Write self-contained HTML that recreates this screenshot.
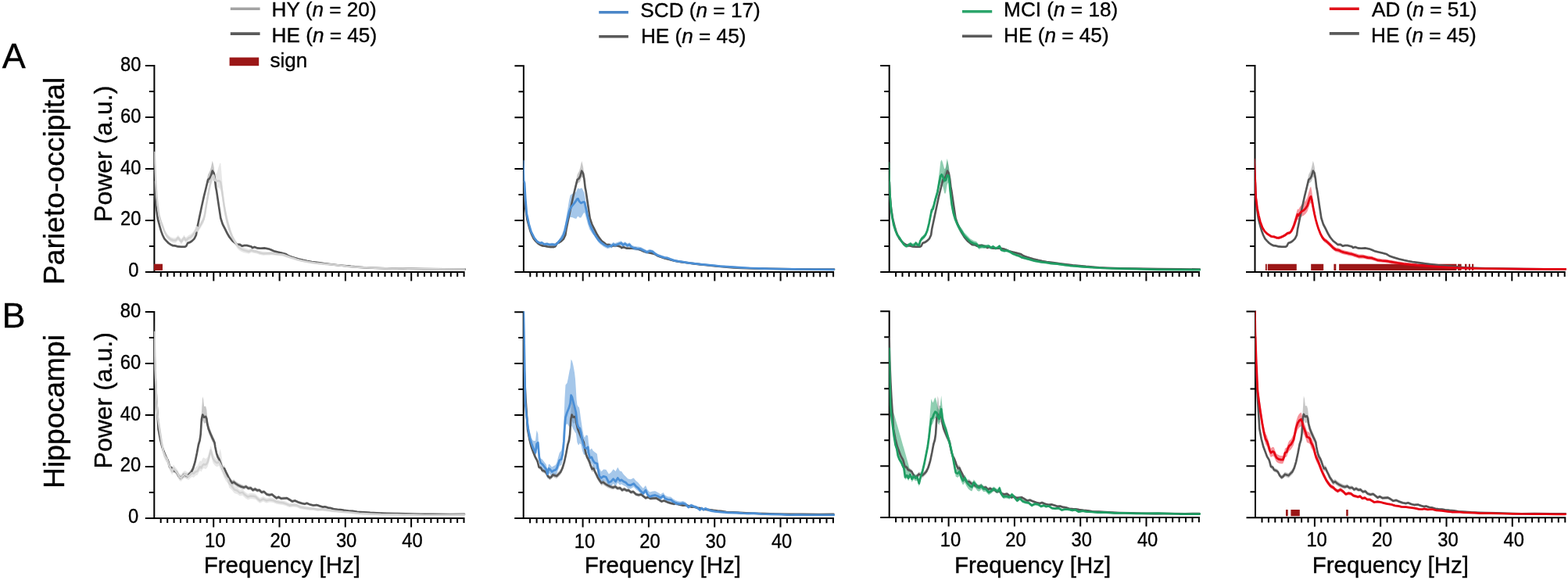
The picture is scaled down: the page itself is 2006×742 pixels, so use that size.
<!DOCTYPE html>
<html lang="en"><head><meta charset="utf-8"><title>Power spectra</title>
<style>html,body{margin:0;padding:0;background:#fff}body{width:2006px;height:742px;overflow:hidden}svg{display:block}text{font-family:"Liberation Sans", Arial, Helvetica, sans-serif;fill:#000;stroke:#000;stroke-width:0.35px}</style></head><body>
<svg width="2006" height="742" viewBox="0 0 2006 742" role="img" aria-label="Power spectra by group">
<rect width="2006" height="742" fill="#fff"/>
<path d="M197.4 83.1V348.9M185.9 347.9H594.6M190.9 314.9h6.5M185.9 281.9h11.5M190.9 248.9h6.5M185.9 216h11.5M190.9 183h6.5M185.9 150h11.5M190.9 117h6.5M185.9 84.1h11.5M205.8 347.9v6.2M214.3 347.9v6.2M222.7 347.9v6.2M231.1 347.9v6.2M239.6 347.9v6.2M248 347.9v6.2M256.4 347.9v6.2M264.8 347.9v6.2M273.3 347.9v11.5M281.7 347.9v6.2M290.1 347.9v6.2M298.6 347.9v6.2M307 347.9v6.2M315.4 347.9v6.2M323.9 347.9v6.2M332.3 347.9v6.2M340.7 347.9v6.2M349.1 347.9v6.2M357.6 347.9v11.5M366 347.9v6.2M374.4 347.9v6.2M382.9 347.9v6.2M391.3 347.9v6.2M399.7 347.9v6.2M408.1 347.9v6.2M416.6 347.9v6.2M425 347.9v6.2M433.4 347.9v6.2M441.9 347.9v11.5M450.3 347.9v6.2M458.7 347.9v6.2M467.2 347.9v6.2M475.6 347.9v6.2M484 347.9v6.2M492.5 347.9v6.2M500.9 347.9v6.2M509.3 347.9v6.2M517.7 347.9v6.2M526.2 347.9v11.5M534.6 347.9v6.2M543 347.9v6.2M551.5 347.9v6.2M559.9 347.9v6.2M568.3 347.9v6.2M576.8 347.9v6.2M585.2 347.9v6.2M593.6 347.9v6.2M669.9 83.2V349M658.4 348H1067.1M663.4 315h6.5M658.4 282.1h11.5M663.4 249.1h6.5M658.4 216.1h11.5M663.4 183.1h6.5M658.4 150.2h11.5M663.4 117.2h6.5M658.4 84.2h11.5M678.3 348v6.2M686.7 348v6.2M695.1 348v6.2M703.6 348v6.2M712 348v6.2M720.4 348v6.2M728.9 348v6.2M737.3 348v6.2M745.7 348v11.5M754.1 348v6.2M762.6 348v6.2M771 348v6.2M779.4 348v6.2M787.9 348v6.2M796.3 348v6.2M804.7 348v6.2M813.2 348v6.2M821.6 348v6.2M830 348v11.5M838.5 348v6.2M846.9 348v6.2M855.3 348v6.2M863.7 348v6.2M872.2 348v6.2M880.6 348v6.2M889 348v6.2M897.5 348v6.2M905.9 348v6.2M914.3 348v11.5M922.8 348v6.2M931.2 348v6.2M939.6 348v6.2M948 348v6.2M956.5 348v6.2M964.9 348v6.2M973.3 348v6.2M981.8 348v6.2M990.2 348v6.2M998.6 348v11.5M1007 348v6.2M1015.5 348v6.2M1023.9 348v6.2M1032.3 348v6.2M1040.8 348v6.2M1049.2 348v6.2M1057.6 348v6.2M1066.1 348v6.2M1137.7 83.1V348.9M1126.2 347.9H1534.9M1131.2 314.9h6.5M1126.2 281.9h11.5M1131.2 248.9h6.5M1126.2 216h11.5M1131.2 183h6.5M1126.2 150h11.5M1131.2 117h6.5M1126.2 84.1h11.5M1146.1 347.9v6.2M1154.5 347.9v6.2M1162.9 347.9v6.2M1171.4 347.9v6.2M1179.8 347.9v6.2M1188.2 347.9v6.2M1196.7 347.9v6.2M1205.1 347.9v6.2M1213.5 347.9v11.5M1222 347.9v6.2M1230.4 347.9v6.2M1238.8 347.9v6.2M1247.2 347.9v6.2M1255.7 347.9v6.2M1264.1 347.9v6.2M1272.5 347.9v6.2M1281 347.9v6.2M1289.4 347.9v6.2M1297.8 347.9v11.5M1306.2 347.9v6.2M1314.7 347.9v6.2M1323.1 347.9v6.2M1331.5 347.9v6.2M1340 347.9v6.2M1348.4 347.9v6.2M1356.8 347.9v6.2M1365.3 347.9v6.2M1373.7 347.9v6.2M1382.1 347.9v11.5M1390.6 347.9v6.2M1399 347.9v6.2M1407.4 347.9v6.2M1415.8 347.9v6.2M1424.3 347.9v6.2M1432.7 347.9v6.2M1441.1 347.9v6.2M1449.6 347.9v6.2M1458 347.9v6.2M1466.4 347.9v11.5M1474.9 347.9v6.2M1483.3 347.9v6.2M1491.7 347.9v6.2M1500.1 347.9v6.2M1508.6 347.9v6.2M1517 347.9v6.2M1525.4 347.9v6.2M1533.9 347.9v6.2M1605.5 83.1V348.9M1594 347.9H2002.7M1599 314.9h6.5M1594 281.9h11.5M1599 248.9h6.5M1594 216h11.5M1599 183h6.5M1594 150h11.5M1599 117h6.5M1594 84.1h11.5M1613.9 347.9v6.2M1622.4 347.9v6.2M1630.8 347.9v6.2M1639.2 347.9v6.2M1647.7 347.9v6.2M1656.1 347.9v6.2M1664.5 347.9v6.2M1672.9 347.9v6.2M1681.4 347.9v11.5M1689.8 347.9v6.2M1698.2 347.9v6.2M1706.7 347.9v6.2M1715.1 347.9v6.2M1723.5 347.9v6.2M1732 347.9v6.2M1740.4 347.9v6.2M1748.8 347.9v6.2M1757.2 347.9v6.2M1765.7 347.9v11.5M1774.1 347.9v6.2M1782.5 347.9v6.2M1791 347.9v6.2M1799.4 347.9v6.2M1807.8 347.9v6.2M1816.2 347.9v6.2M1824.7 347.9v6.2M1833.1 347.9v6.2M1841.5 347.9v6.2M1850 347.9v11.5M1858.4 347.9v6.2M1866.8 347.9v6.2M1875.3 347.9v6.2M1883.7 347.9v6.2M1892.1 347.9v6.2M1900.5 347.9v6.2M1909 347.9v6.2M1917.4 347.9v6.2M1925.8 347.9v6.2M1934.3 347.9v11.5M1942.7 347.9v6.2M1951.1 347.9v6.2M1959.6 347.9v6.2M1968 347.9v6.2M1976.4 347.9v6.2M1984.8 347.9v6.2M1993.3 347.9v6.2M2001.7 347.9v6.2M197.3 398.1V663.9M185.8 662.9H594.5M190.8 629.9h6.5M185.8 596.9h11.5M190.8 564h6.5M185.8 531h11.5M190.8 498h6.5M185.8 465h11.5M190.8 432.1h6.5M185.8 399.1h11.5M205.7 662.9v6.2M214.2 662.9v6.2M222.6 662.9v6.2M231 662.9v6.2M239.5 662.9v6.2M247.9 662.9v6.2M256.3 662.9v6.2M264.7 662.9v6.2M273.2 662.9v11.5M281.6 662.9v6.2M290 662.9v6.2M298.5 662.9v6.2M306.9 662.9v6.2M315.3 662.9v6.2M323.8 662.9v6.2M332.2 662.9v6.2M340.6 662.9v6.2M349 662.9v6.2M357.5 662.9v11.5M365.9 662.9v6.2M374.3 662.9v6.2M382.8 662.9v6.2M391.2 662.9v6.2M399.6 662.9v6.2M408.1 662.9v6.2M416.5 662.9v6.2M424.9 662.9v6.2M433.3 662.9v6.2M441.8 662.9v11.5M450.2 662.9v6.2M458.6 662.9v6.2M467.1 662.9v6.2M475.5 662.9v6.2M483.9 662.9v6.2M492.4 662.9v6.2M500.8 662.9v6.2M509.2 662.9v6.2M517.6 662.9v6.2M526.1 662.9v11.5M534.5 662.9v6.2M542.9 662.9v6.2M551.4 662.9v6.2M559.8 662.9v6.2M568.2 662.9v6.2M576.6 662.9v6.2M585.1 662.9v6.2M593.5 662.9v6.2M669.7 398.2V664M658.2 663H1066.9M663.2 630h6.5M658.2 597h11.5M663.2 564h6.5M658.2 531.1h11.5M663.2 498.1h6.5M658.2 465.1h11.5M663.2 432.1h6.5M658.2 399.2h11.5M678.1 663v6.2M686.6 663v6.2M695 663v6.2M703.4 663v6.2M711.9 663v6.2M720.3 663v6.2M728.7 663v6.2M737.1 663v6.2M745.6 663v11.5M754 663v6.2M762.4 663v6.2M770.9 663v6.2M779.3 663v6.2M787.7 663v6.2M796.2 663v6.2M804.6 663v6.2M813 663v6.2M821.4 663v6.2M829.9 663v11.5M838.3 663v6.2M846.7 663v6.2M855.2 663v6.2M863.6 663v6.2M872 663v6.2M880.5 663v6.2M888.9 663v6.2M897.3 663v6.2M905.7 663v6.2M914.2 663v11.5M922.6 663v6.2M931 663v6.2M939.5 663v6.2M947.9 663v6.2M956.3 663v6.2M964.8 663v6.2M973.2 663v6.2M981.6 663v6.2M990 663v6.2M998.5 663v11.5M1006.9 663v6.2M1015.3 663v6.2M1023.8 663v6.2M1032.2 663v6.2M1040.6 663v6.2M1049 663v6.2M1057.5 663v6.2M1065.9 663v6.2M1137.7 397.3V663.1M1126.2 662.1H1534.9M1131.2 629.2h6.5M1126.2 596.2h11.5M1131.2 563.2h6.5M1126.2 530.2h11.5M1131.2 497.3h6.5M1126.2 464.3h11.5M1131.2 431.3h6.5M1126.2 398.3h11.5M1146.1 662.1v6.2M1154.6 662.1v6.2M1163 662.1v6.2M1171.4 662.1v6.2M1179.9 662.1v6.2M1188.3 662.1v6.2M1196.7 662.1v6.2M1205.1 662.1v6.2M1213.6 662.1v11.5M1222 662.1v6.2M1230.4 662.1v6.2M1238.9 662.1v6.2M1247.3 662.1v6.2M1255.7 662.1v6.2M1264.2 662.1v6.2M1272.6 662.1v6.2M1281 662.1v6.2M1289.4 662.1v6.2M1297.9 662.1v11.5M1306.3 662.1v6.2M1314.7 662.1v6.2M1323.2 662.1v6.2M1331.6 662.1v6.2M1340 662.1v6.2M1348.5 662.1v6.2M1356.9 662.1v6.2M1365.3 662.1v6.2M1373.7 662.1v6.2M1382.2 662.1v11.5M1390.6 662.1v6.2M1399 662.1v6.2M1407.5 662.1v6.2M1415.9 662.1v6.2M1424.3 662.1v6.2M1432.8 662.1v6.2M1441.2 662.1v6.2M1449.6 662.1v6.2M1458 662.1v6.2M1466.5 662.1v11.5M1474.9 662.1v6.2M1483.3 662.1v6.2M1491.8 662.1v6.2M1500.2 662.1v6.2M1508.6 662.1v6.2M1517 662.1v6.2M1525.5 662.1v6.2M1533.9 662.1v6.2M1606 397.5V663.3M1594.5 662.3H2003.3M1599.5 629.3h6.5M1594.5 596.3h11.5M1599.5 563.4h6.5M1594.5 530.4h11.5M1599.5 497.4h6.5M1594.5 464.4h11.5M1599.5 431.5h6.5M1594.5 398.5h11.5M1614.5 662.3v6.2M1622.9 662.3v6.2M1631.3 662.3v6.2M1639.8 662.3v6.2M1648.2 662.3v6.2M1656.6 662.3v6.2M1665.1 662.3v6.2M1673.5 662.3v6.2M1681.9 662.3v11.5M1690.3 662.3v6.2M1698.8 662.3v6.2M1707.2 662.3v6.2M1715.6 662.3v6.2M1724.1 662.3v6.2M1732.5 662.3v6.2M1740.9 662.3v6.2M1749.4 662.3v6.2M1757.8 662.3v6.2M1766.2 662.3v11.5M1774.6 662.3v6.2M1783.1 662.3v6.2M1791.5 662.3v6.2M1799.9 662.3v6.2M1808.4 662.3v6.2M1816.8 662.3v6.2M1825.2 662.3v6.2M1833.7 662.3v6.2M1842.1 662.3v6.2M1850.5 662.3v11.5M1858.9 662.3v6.2M1867.4 662.3v6.2M1875.8 662.3v6.2M1884.2 662.3v6.2M1892.7 662.3v6.2M1901.1 662.3v6.2M1909.5 662.3v6.2M1918 662.3v6.2M1926.4 662.3v6.2M1934.8 662.3v11.5M1943.2 662.3v6.2M1951.7 662.3v6.2M1960.1 662.3v6.2M1968.5 662.3v6.2M1977 662.3v6.2M1985.4 662.3v6.2M1993.8 662.3v6.2M2002.3 662.3v6.2" fill="none" stroke="#000" stroke-width="2"/>
<path d="M197 337.7H208V345.9H197Z" fill="#9b1717"/>
<path d="M1618.9 337.7H1620.8V345.9H1618.9ZM1621.8 337.7H1658.8V345.9H1621.8ZM1677.2 337.7H1693.2V345.9H1677.2ZM1706.4 337.7H1709.3V345.9H1706.4ZM1713.1 337.7H1863.5V345.9H1713.1ZM1865 337.7H1869.6V345.9H1865ZM1874 337.7H1876.4V345.9H1874ZM1878.9 337.7H1881V345.9H1878.9ZM1883 337.7H1885.2V345.9H1883Z" fill="#9b1717"/>
<path d="M1645 652.1H1647.7V660.3H1645ZM1651.4 652.1H1662.8V660.3H1651.4ZM1722.2 652.1H1724.7V660.3H1722.2Z" fill="#9b1717"/>
<defs>
<clipPath id="c00"><rect x="197.2" y="83.1" width="399.4" height="266.8"/></clipPath>
<clipPath id="c01"><rect x="669.6" y="83.2" width="399.4" height="266.8"/></clipPath>
<clipPath id="c02"><rect x="1137.5" y="83.1" width="399.4" height="266.8"/></clipPath>
<clipPath id="c03"><rect x="1605.3" y="83.1" width="399.4" height="266.8"/></clipPath>
<clipPath id="c10"><rect x="197.1" y="398.1" width="399.4" height="266.8"/></clipPath>
<clipPath id="c11"><rect x="669.5" y="398.2" width="399.4" height="266.8"/></clipPath>
<clipPath id="c12"><rect x="1137.5" y="397.3" width="399.4" height="266.8"/></clipPath>
<clipPath id="c13"><rect x="1605.8" y="397.5" width="399.4" height="266.8"/></clipPath>
</defs>
<g clip-path="url(#c00)">
<path d="M197.7 230.4L198.4 249.7L199.5 263.2L200.5 268.9L201.8 278.4L203 283.1L204.3 287.8L205.2 291.1L206.2 294.4L207.1 296.8L208 299.2L209.2 301.5L210.3 303.9L211.5 305.3L212.8 306.7L214.2 308.1L215.6 309.5L217 310.5L218.4 311.4L219.8 312.1L221.2 312.7L222.7 312.8L224.1 312.9L225.3 313.2L226.6 313.6L227.8 313.9L229.1 314L230.4 314.1L231.6 314.3L232.8 314.3L234 314.3L235.2 314.3L236.3 314.3L237.3 313.8L238.2 313.3L239.2 311.4L240.1 309.5L241.5 309.1L242.9 308.6L244.4 307.7L245.8 306.7L247.2 305.3L248.6 303.9L249.7 301.5L250.9 299.2L252 291.6L253 286.4L254.1 281.2L255.1 275.9L256.5 269L257.9 262.1L259.4 255.1L260.8 248.2L262.2 242.2L263.6 236.1L264.8 229.7L266.1 223.3L267.2 221.2L268.3 219L269.1 216.7L269.8 214.5L270.8 210.1L271.7 205.8L272.7 209.1L273.6 213.2L274.9 223.5L276.2 236.1L277 240.5L278.5 250.6L279.9 260.4L281.1 268.2L282.3 276L283.6 279.9L284.8 283.8L286.3 286.8L287.8 289.7L289.2 292.6L290.7 295.6L292.2 298L293.6 300.8L294.9 302.8L296.2 304.9L297.5 306.8L298.8 307.8L300.1 308.8L301.4 309.8L302.3 310.6L303.2 311.4L304.5 311.5L305.7 311.5L307 311.5L308.4 312.4L309.8 313.4L311.2 312.9L312.5 312.5L313.6 312.5L314.8 312.5L315.9 312.5L317.1 312.8L318.2 313.2L319.4 313.5L320.5 313.8L321.7 314.2L322.8 315.6L324.2 315.1L325.6 314.6L326.7 315.1L327.9 315.6L329.1 316L330.5 316.1L331.9 316.2L333.3 316.3L334.6 316.3L336 316.2L337.4 316.1L338.8 316.1L340.1 316.3L341.3 316.6L342.5 316.8L343.7 317.1L344.9 317.5L346 318L347.2 318.5L348.6 319.1L350 319.7L351.4 320.3L352.8 320.6L354.2 321L355.6 321.3L357 321.6L358.4 322L359.8 322.3L361.2 322.7L362.6 323L364 323.4L365.4 323.7L366.8 324.6L368.1 325.4L369.5 326.2L370.9 326.7L372.3 327.2L373.7 327.7L375.1 328.1L376.5 328.6L377.9 329.1L379.3 329.4L380.7 329.8L382.1 330.2L383.5 330.6L384.9 330.9L386.3 331.3L387.7 331.6L389.1 331.9L390.5 332.3L391.9 332.6L393.3 332.9L394.7 333.2L396.1 333.4L397.5 333.7L398.9 333.9L400.3 334.1L401.6 334.3L403 334.5L404.4 334.7L405.8 334.9L407.2 335.1L408.6 335.2L410 335.4L411.4 335.6L412.8 335.8L414.2 336L415.6 336.2L417 336.4L418.4 336.5L419.8 336.7L421.2 336.9L422.6 337L424 337.2L425.4 337.4L426.8 337.5L428.2 337.7L429.6 337.9L431 338.1L432.4 338.2L433.8 338.4L435.1 338.5L436.5 338.7L437.9 338.8L439.3 338.9L440.7 339.1L442.1 339.2L443.5 339.4L444.9 339.5L446.3 339.7L447.7 339.8L449.1 340L450.5 340.1L451.9 340.2L453.3 340.3L454.7 340.5L456.1 340.6L457.5 340.7L458.9 340.8L460.3 340.9L461.7 341.1L463.1 341.2L464.5 341.3L465.9 341.4L467.3 341.5L468.6 341.6L470 341.7L471.4 341.7L472.8 341.8L474.2 341.9L475.6 342L477 342L478.4 342.1L479.8 342.1L481.2 342.2L482.6 342.2L484 342.2L485.4 342.3L486.8 342.3L488.2 342.4L489.6 342.4L491 342.5L492.4 342.5L493.9 342.5L495.4 342.6L496.9 342.6L498.4 342.7L499.9 342.7L501.3 342.7L502.8 342.8L504.3 342.8L505.8 342.8L507.3 342.9L508.8 342.9L510.3 342.9L511.8 343L513.3 343L514.8 343L516.3 343.1L517.7 343.1L519.2 343.1L520.7 343.2L522.1 343.2L523.6 343.2L525.1 343.2L526.5 343.3L528 343.3L529.5 343.3L530.9 343.3L532.4 343.4L533.9 343.4L535.4 343.4L536.8 343.5L538.3 343.5L539.8 343.5L541.2 343.5L542.7 343.6L544.2 343.6L545.6 343.6L547.1 343.6L548.6 343.6L550 343.7L551.5 343.7L553 343.7L554.5 343.7L555.9 343.7L557.4 343.8L558.9 343.8L560.3 343.8L561.8 343.8L563.3 343.9L564.7 343.9L566.2 343.9L567.7 343.9L569.1 343.9L570.6 343.9L572 344L573.4 344L574.8 344L576.2 344L577.7 344L579.1 344L580.5 344L581.9 344.1L583.3 344.1L584.8 344.1L586.2 344.1L587.6 344.1L589 344.1L590.4 344.1L591.9 344.1L593.3 344.2L594.7 344.2L594.7 344.8L593.3 344.8L591.9 344.8L590.4 344.8L589 344.8L587.6 344.8L586.2 344.8L584.8 344.8L583.3 344.8L581.9 344.8L580.5 344.8L579.1 344.8L577.7 344.8L576.2 344.8L574.8 344.8L573.4 344.8L572 344.8L570.6 344.8L569.1 344.8L567.7 344.8L566.2 344.7L564.7 344.7L563.3 344.7L561.8 344.7L560.3 344.7L558.9 344.7L557.4 344.7L555.9 344.7L554.5 344.7L553 344.7L551.5 344.7L550 344.6L548.6 344.6L547.1 344.6L545.6 344.6L544.2 344.6L542.7 344.6L541.2 344.6L539.8 344.6L538.3 344.6L536.8 344.5L535.4 344.5L533.9 344.5L532.4 344.5L530.9 344.5L529.5 344.5L528 344.4L526.5 344.4L525.1 344.4L523.6 344.4L522.1 344.4L520.7 344.4L519.2 344.4L517.7 344.3L516.3 344.3L514.8 344.3L513.3 344.3L511.8 344.3L510.3 344.2L508.8 344.2L507.3 344.2L505.8 344.2L504.3 344.1L502.8 344.1L501.3 344.1L499.9 344.1L498.4 344L496.9 344L495.4 344L493.9 344L492.4 344L491 343.9L489.6 343.9L488.2 343.9L486.8 343.8L485.4 343.8L484 343.8L482.6 343.7L481.2 343.7L479.8 343.7L478.4 343.6L477 343.6L475.6 343.5L474.2 343.5L472.8 343.4L471.4 343.3L470 343.3L468.6 343.2L467.3 343.1L465.9 343.1L464.5 343L463.1 342.9L461.7 342.7L460.3 342.6L458.9 342.5L457.5 342.4L456.1 342.3L454.7 342.2L453.3 342.1L451.9 342L450.5 341.9L449.1 341.8L447.7 341.6L446.3 341.5L444.9 341.3L443.5 341.2L442.1 341.1L440.7 340.9L439.3 340.8L437.9 340.7L436.5 340.5L435.1 340.4L433.8 340.3L432.4 340.1L431 340L429.6 339.8L428.2 339.7L426.8 339.5L425.4 339.4L424 339.2L422.6 339L421.2 338.9L419.8 338.7L418.4 338.6L417 338.4L415.6 338.3L414.2 338.1L412.8 337.9L411.4 337.7L410 337.5L408.6 337.4L407.2 337.2L405.8 337L404.4 336.8L403 336.6L401.6 336.5L400.3 336.3L398.9 336.1L397.5 335.9L396.1 335.6L394.7 335.4L393.3 335.1L391.9 334.8L390.5 334.5L389.1 334.2L387.7 333.9L386.3 333.6L384.9 333.2L383.5 332.9L382.1 332.5L380.7 332.2L379.3 331.8L377.9 331.4L376.5 331L375.1 330.5L373.7 330L372.3 329.6L370.9 329.1L369.5 328.7L368.1 327.8L366.8 327L365.4 326.2L364 325.8L362.6 325.5L361.2 325.1L359.8 324.8L358.4 324.5L357 324.2L355.6 323.8L354.2 323.5L352.8 323.2L351.4 322.9L350 322.3L348.6 321.7L347.2 321.1L346 320.6L344.9 320.2L343.7 319.7L342.5 319.5L341.3 319.2L340.1 319L338.8 318.7L337.4 318.8L336 318.9L334.6 319L333.3 319L331.9 319L330.5 318.9L329.1 318.8L327.9 318.3L326.7 317.9L325.6 317.4L324.2 317.9L322.8 318.4L321.7 317L320.5 316.6L319.4 316.3L318.2 316L317.1 315.7L315.9 315.4L314.8 315.4L313.6 315.4L312.5 315.4L311.2 315.8L309.8 316.3L308.4 315.3L307 314.4L305.7 314.4L304.5 314.4L303.2 314.4L302.3 313.6L301.4 312.8L300.1 311.8L298.8 310.8L297.5 309.8L296.2 308.3L294.9 306.8L293.6 305.3L292.2 303L290.7 300.7L289.2 297.9L287.8 295L286.3 292.2L284.8 289.4L283.6 285.5L282.3 281.7L281.1 274L279.9 266.2L278.5 256.6L277 247.1L276.2 244.1L274.9 233.6L273.6 227.4L272.7 227.1L271.7 226.5L270.8 229.1L269.8 231.8L269.1 232.7L268.3 233.6L267.2 233.9L266.1 234.2L264.8 238.8L263.6 243.4L262.2 248.8L260.8 254.2L259.4 260.7L257.9 267.1L256.5 273.5L255.1 279.9L254.1 284.8L253 289.7L252 294.6L250.9 302.2L249.7 304.5L248.6 306.9L247.2 308.3L245.8 309.7L244.4 310.7L242.9 311.6L241.5 312.1L240.1 312.5L239.2 314.4L238.2 316.3L237.3 316.8L236.3 317.3L235.2 317.3L234 317.3L232.8 317.3L231.6 317.3L230.4 317.1L229.1 317L227.8 316.9L226.6 316.6L225.3 316.2L224.1 315.9L222.7 315.8L221.2 315.7L219.8 315.1L218.4 314.4L217 313.5L215.6 312.5L214.2 311.1L212.8 309.7L211.5 308.3L210.3 306.9L209.2 304.5L208 302.2L207.1 299.8L206.2 297.4L205.2 294.1L204.3 290.8L203 286.1L201.8 281.4L200.5 272L199.5 266.5L198.4 253.5L197.7 235Z" fill="#555555" fill-opacity="0.33"/>
<path d="M197.7 187.4L198.4 207.2L199.2 227L200.5 246.8L201.8 258.7L202.6 264.6L203.3 270.6L204.3 274.5L205.2 278.5L206.6 282.5L208 286.3L209.2 289.6L210.3 292.9L211.5 295.3L212.8 297.7L214.2 299.4L215.6 301.1L217 302.2L218.4 303.3L219.8 303.7L221.2 304.2L222.7 304.3L224.1 304.5L225 303.8L226 303.1L226.9 302L227.8 300.8L228.8 301.9L229.7 303L230.9 304.4L232 305.8L232.9 304.3L233.9 302.9L234.8 301.8L235.8 300.6L236.5 302.2L237.3 303.8L238.2 303.3L239.2 302.8L240.3 301.8L241.4 300.8L242.7 300.3L243.9 299.8L245.3 298.4L246.7 296.9L248.1 295L249.5 293.1L250.8 289.8L252 286.4L252.3 291.5L253.5 289.2L254.6 286.9L255.8 285.1L256.9 283.4L257.8 281.6L258.7 279.8L259.7 277.9L260.6 276.1L261.4 272.5L262.2 269L263 263.7L263.8 258.5L264.7 253.2L265.6 247.9L266.5 242.6L267.4 237.4L268.2 233.2L269.1 229L269.9 226L270.7 223L272 219.4L273.2 217.7L274.3 220.3L275.2 222.5L276.2 222.2L277.1 222L278.2 218.7L279.4 214.6L280.3 211.7L281.2 208.8L282.3 208.8L283.5 222L284.3 232.1L285.1 242.2L285.9 249.8L286.7 255.8L287.6 261.2L288.5 266.7L289.7 272.2L290.8 277.8L292 282.1L293.1 286.5L294.3 290.4L295.4 294.2L296.8 298.1L298.2 301.7L299.6 304.1L301.1 306.5L302.3 308.3L303.4 310L304.6 311.5L305.7 312.9L306.9 313.7L308 314.5L309.1 315.4L310.3 315.9L311.4 316.4L312.6 316.9L313.7 317.3L314.9 317.6L316 318L317.2 318.4L318.3 318.8L319.5 318.3L320.6 317.8L321.8 317.4L323 317.9L324.2 318.5L325.6 318.8L327 319.1L328.4 319.4L329.8 320L331.2 320.5L332.6 321.1L334 321.4L335.4 321.7L336.7 322L338.1 322L339.5 322L340.9 322L342.3 322L343.7 321.9L345.1 321.9L346.5 321.8L347.9 321.8L349.3 322L350.7 322.3L352.1 322.5L353.5 322.7L354.9 322.8L356.3 323L357.7 323.2L359.1 323.4L360.5 323.6L361.9 323.8L363 324.2L364.2 324.6L365.4 325.1L366.5 325.5L367.7 325.9L368.9 326.2L370 326.7L371.2 327.1L372.3 327.6L373.5 327.9L374.7 328.3L375.8 328.7L377 329.1L378.2 329.5L379.3 329.9L380.5 330.2L381.6 330.6L382.8 330.9L384 331.2L385.1 331.5L386.3 331.8L387.5 332.1L388.6 332.3L389.8 332.5L391.2 332.8L392.6 333.1L394 333.4L395.4 333.7L396.8 334L398.2 334.2L399.6 334.4L401 334.6L402.4 334.9L403.7 335.1L405.1 335.2L406.5 335.4L407.9 335.5L409.3 335.7L410.7 335.8L412.1 336L413.5 336.1L414.9 336.3L416.3 336.4L417.7 336.5L419.1 336.7L420.5 336.8L421.9 337L423.3 337.1L424.7 337.3L426.1 337.4L427.5 337.6L428.9 337.7L430.3 337.9L431.7 338L433.1 338.2L434.5 338.3L435.9 338.5L437.2 338.6L438.6 338.8L440 338.9L441.4 339.1L442.8 339.3L444.2 339.5L445.6 339.6L447 339.8L448.4 339.9L449.8 340L451.2 340.1L452.6 340.2L454 340.3L455.4 340.4L456.8 340.5L458.2 340.6L459.6 340.7L461 340.8L462.4 340.9L463.8 340.9L465.2 341L466.6 341.1L468 341.2L469.4 341.3L470.7 341.3L472.1 341.4L473.5 341.5L474.9 341.5L476.3 341.6L477.7 341.6L479.1 341.7L480.5 341.7L481.9 341.8L483.3 341.8L484.7 341.9L486.1 341.9L487.5 342L488.9 342L490.3 342.1L491.7 342.1L493.1 342.2L494.5 342.2L495.9 342.3L497.3 342.3L498.7 342.4L500.1 342.4L501.5 342.5L502.9 342.5L504.2 342.6L505.6 342.6L507 342.6L508.4 342.7L509.8 342.7L511.2 342.7L512.6 342.8L514 342.8L515.4 342.9L516.8 342.9L518.2 342.9L519.6 343L521 343L522.4 343L523.8 343.1L525.2 343.1L526.6 343.1L528 343.2L529.4 343.2L530.8 343.2L532.3 343.3L533.8 343.3L535.2 343.3L536.7 343.3L538.2 343.4L539.7 343.4L541.1 343.4L542.6 343.4L544.1 343.5L545.5 343.5L547 343.5L548.5 343.5L549.9 343.5L551.4 343.6L552.9 343.6L554.3 343.6L555.8 343.6L557.3 343.7L558.8 343.7L560.2 343.7L561.7 343.7L563.2 343.8L564.6 343.8L566.1 343.8L567.6 343.8L569 343.9L570.5 343.9L572 343.9L573.4 343.9L574.9 344L576.4 344L577.8 344L579.3 344.1L580.8 344.1L582.3 344.1L583.7 344.1L585.2 344.2L586.7 344.2L588.1 344.2L589.6 344.2L591.1 344.3L592.5 344.3L594 344.3L594 344.9L592.5 344.9L591.1 344.9L589.6 344.9L588.1 344.9L586.7 344.9L585.2 344.9L583.7 344.9L582.3 344.9L580.8 344.9L579.3 344.9L577.8 344.9L576.4 344.9L574.9 344.8L573.4 344.8L572 344.8L570.5 344.8L569 344.8L567.6 344.8L566.1 344.8L564.6 344.8L563.2 344.8L561.7 344.8L560.2 344.8L558.8 344.8L557.3 344.7L555.8 344.7L554.3 344.7L552.9 344.7L551.4 344.7L549.9 344.7L548.5 344.7L547 344.7L545.5 344.7L544.1 344.7L542.6 344.7L541.1 344.7L539.7 344.7L538.2 344.7L536.7 344.7L535.2 344.7L533.8 344.7L532.3 344.6L530.8 344.6L529.4 344.6L528 344.6L526.6 344.6L525.2 344.6L523.8 344.6L522.4 344.5L521 344.5L519.6 344.5L518.2 344.5L516.8 344.5L515.4 344.4L514 344.4L512.6 344.4L511.2 344.4L509.8 344.4L508.4 344.3L507 344.3L505.6 344.3L504.2 344.3L502.9 344.3L501.5 344.2L500.1 344.2L498.7 344.2L497.3 344.1L495.9 344.1L494.5 344.1L493.1 344L491.7 344L490.3 344L488.9 343.9L487.5 343.9L486.1 343.9L484.7 343.8L483.3 343.8L481.9 343.8L480.5 343.7L479.1 343.7L477.7 343.7L476.3 343.6L474.9 343.6L473.5 343.6L472.1 343.5L470.7 343.5L469.4 343.4L468 343.3L466.6 343.3L465.2 343.2L463.8 343.1L462.4 343.1L461 343L459.6 343L458.2 342.9L456.8 342.8L455.4 342.7L454 342.7L452.6 342.6L451.2 342.5L449.8 342.4L448.4 342.3L447 342.2L445.6 342.1L444.2 341.9L442.8 341.7L441.4 341.6L440 341.4L438.6 341.3L437.2 341.1L435.9 341L434.5 340.9L433.1 340.7L431.7 340.6L430.3 340.5L428.9 340.4L427.5 340.2L426.1 340.1L424.7 340L423.3 339.8L421.9 339.7L420.5 339.6L419.1 339.4L417.7 339.3L416.3 339.2L414.9 339L413.5 338.9L412.1 338.8L410.7 338.6L409.3 338.5L407.9 338.4L406.5 338.3L405.1 338.1L403.7 338L402.4 337.8L401 337.6L399.6 337.4L398.2 337.2L396.8 337L395.4 336.8L394 336.5L392.6 336.3L391.2 336L389.8 335.8L388.6 335.6L387.5 335.3L386.3 335.1L385.1 334.9L384 334.6L382.8 334.3L381.6 334L380.5 333.7L379.3 333.4L378.2 333L377 332.7L375.8 332.3L374.7 332L373.5 331.6L372.3 331.3L371.2 330.9L370 330.5L368.9 330.1L367.7 329.7L366.5 329.4L365.4 329L364.2 328.6L363 328.2L361.9 327.8L360.5 327.6L359.1 327.5L357.7 327.3L356.3 327.2L354.9 327.1L353.5 326.9L352.1 326.8L350.7 326.6L349.3 326.4L347.9 326.2L346.5 326.3L345.1 326.4L343.7 326.4L342.3 326.5L340.9 326.6L339.5 326.6L338.1 326.7L336.7 326.8L335.4 326.5L334 326.2L332.6 326L331.2 325.4L329.8 324.9L328.4 324.4L327 324.2L325.6 324L324.2 323.8L323 323.4L321.8 322.9L320.6 323.5L319.5 324.1L318.3 324.7L317.2 324.4L316 324.1L314.9 323.9L313.7 323.6L312.6 323.4L311.4 323L310.3 322.6L309.1 322.2L308 321.5L306.9 320.8L305.7 320.1L304.6 318.7L303.4 317.4L302.3 315.8L301.1 314.1L299.6 311.9L298.2 309.7L296.8 306.5L295.4 303.5L294.3 300.4L293.1 297.4L292 293.8L290.8 290.1L289.7 285.4L288.5 280.6L287.6 275.7L286.7 270.9L285.9 265.4L285.1 260.1L284.3 254.8L283.5 249.6L282.3 243.4L281.2 241.3L280.3 240.7L279.4 240.1L278.2 239.8L277.1 239.6L276.2 238.7L275.2 237.9L274.3 234.6L273.2 230.7L272 231.6L270.7 234.9L269.9 237.6L269.1 240.3L268.2 244.1L267.4 248L266.5 253.1L265.6 258.1L264.7 263.1L263.8 268.2L263 273.2L262.2 278.3L261.4 281.6L260.6 284.9L259.7 286.5L258.7 288.1L257.8 289.7L256.9 291.4L255.8 293.1L254.6 294.7L253.5 297L252.3 299.3L252 294.1L250.8 297.4L249.5 300.7L248.1 302.5L246.7 304.4L245.3 305.8L243.9 307.2L242.7 307.6L241.4 308L240.3 308.9L239.2 309.9L238.2 310.3L237.3 310.8L236.5 309.1L235.8 307.5L234.8 308.6L233.9 309.7L232.9 311.1L232 312.5L230.9 311.1L229.7 309.6L228.8 308.5L227.8 307.3L226.9 308.4L226 309.5L225 310.2L224.1 310.8L222.7 310.6L221.2 310.4L219.8 309.9L218.4 309.3L217 308.2L215.6 307.1L214.2 305.4L212.8 303.7L211.5 301.3L210.3 298.9L209.2 295.6L208 292.3L206.6 288.7L205.2 285.1L204.3 281.5L203.3 277.9L202.6 272.5L201.8 267.2L200.5 256.4L199.2 238.5L198.4 220.6L197.7 202.6Z" fill="#d2d2d2" fill-opacity="0.5"/>
<path d="M197.7 232.7L198.4 251.6L199.5 264.8L200.5 270.5L201.8 279.9L204.3 289.3L206.2 295.9L208 300.7L210.3 305.4L212.8 308.2L215.6 311L218.4 312.9L221.2 314.2L224.1 314.4L227.8 315.4L231.6 315.8L236.3 315.8L238.2 314.8L240.1 311L242.9 310.1L245.8 308.2L248.6 305.4L250.9 300.7L252 293.1L255.1 278L257.9 264.8L260.8 251.6L263.6 240.3L266.1 229.9L268.3 228L269.8 225.2L271.7 218.6L273.6 221.4L274.9 229L276.2 240.3L277 243.9L279.9 263.4L282.3 279L284.8 286.8L287.8 292.7L290.7 298.6L293.6 303.5L297.5 308.3L301.4 311.3L303.2 312.9L307 312.9L309.8 314.8L312.5 314L315.9 314L319.4 314.9L321.7 315.6L322.8 317L325.6 316L329.1 317.4L333.3 317.7L338.8 317.4L343.7 318.4L347.2 319.8L351.4 321.6L355.6 322.6L359.8 323.5L365.4 324.9L369.5 327.5L373.7 328.9L377.9 330.2L382.1 331.4L387.7 332.8L393.3 334L398.9 335L407.2 336.1L415.6 337.2L424 338.2L432.4 339.2L440.7 340L449.1 340.9L457.5 341.6L465.9 342.3L477 342.8L492.4 343.2L513.3 343.6L541.2 344.1L569.1 344.3L594.7 344.5" fill="none" stroke="#555555" stroke-width="2.6" stroke-linejoin="round" stroke-linecap="round"/>
<path d="M197.7 195L199.2 232.7L200.5 251.6L201.8 262.9L203.3 274.2L205.2 281.8L208 289.3L210.3 295.9L212.8 300.7L215.6 304.1L218.4 306.3L221.2 307.3L224.1 307.6L226 306.3L227.8 304.1L229.7 306.3L232 309.2L233.9 306.3L235.8 304.1L237.3 307.3L239.2 306.3L241.4 304.4L243.9 303.5L246.7 300.7L249.5 296.9L252 290.3L252.3 295.4L254.6 290.8L256.9 287.4L258.7 283.9L260.6 280.5L262.2 273.6L263.8 263.3L265.6 253L267.4 242.7L269.1 234.7L270.7 229L272 225.5L273.2 224.4L274.3 227.8L275.2 230.8L277.1 231.7L279.4 231.2L281.2 231.7L282.3 233.5L283.5 240.4L285.1 251.9L286.7 263.3L288.5 273.6L290.8 283.9L293.1 292L295.4 298.8L298.2 305.7L301.1 310.3L303.4 313.7L305.7 316.5L309.1 318.8L312.6 320.1L316 321.1L318.3 321.8L321.8 320.1L324.2 321.2L328.4 321.9L332.6 323.5L336.7 324.4L342.3 324.2L347.9 324L352.1 324.7L354.9 324.9L361.9 325.8L365.4 327L368.9 328.2L372.3 329.4L375.8 330.5L379.3 331.6L382.8 332.6L386.3 333.5L389.8 334.2L394 335L398.2 335.7L403.7 336.5L410.7 337.2L417.7 337.9L424.7 338.6L431.7 339.3L438.6 340L445.6 340.9L452.6 341.4L459.6 341.8L473.5 342.5L487.5 343L501.5 343.4L515.4 343.6L529.4 343.9L557.3 344.2L594 344.6" fill="none" stroke="#d2d2d2" stroke-width="2.5" stroke-linejoin="round" stroke-linecap="round"/>
</g>
<g clip-path="url(#c01)">
<path d="M670.1 230.6L670.9 249.8L672 263.3L672.9 269.1L674.3 278.6L675.5 283.3L676.7 288L677.7 291.3L678.6 294.6L679.5 297L680.5 299.3L681.6 301.7L682.8 304L684 305.4L685.2 306.9L686.6 308.3L688 309.7L689.5 310.6L690.9 311.6L692.3 312.2L693.7 312.9L695.1 313L696.5 313.1L697.8 313.4L699 313.7L700.3 314L701.6 314.2L702.8 314.3L704.1 314.4L705.3 314.4L706.4 314.4L707.6 314.4L708.8 314.4L709.7 313.9L710.7 313.5L711.6 311.6L712.6 309.7L714 309.2L715.4 308.7L716.8 307.8L718.2 306.9L719.6 305.4L721.1 304L722.2 301.7L723.3 299.3L724.5 291.8L725.5 286.6L726.5 281.3L727.6 276.1L729 269.1L730.4 262.2L731.8 255.3L733.2 248.4L734.6 242.4L736 236.2L737.3 229.8L738.5 223.4L739.6 221.3L740.8 219.2L741.5 216.9L742.3 214.6L743.2 210.3L744.2 205.9L745.1 209.3L746 213.3L747.4 223.6L748.7 236.3L749.5 240.6L750.9 250.8L752.4 260.5L753.6 268.4L754.7 276.2L756 280.1L757.3 284L758.7 286.9L760.2 289.9L761.7 292.8L763.1 295.7L764.6 298.2L766.1 301L767.4 303L768.7 305L770 307L771.3 308L772.6 309L773.9 309.9L774.8 310.8L775.7 311.6L776.9 311.6L778.2 311.6L779.4 311.6L780.9 312.6L782.3 313.5L783.6 313.1L784.9 312.7L786.1 312.7L787.2 312.7L788.4 312.7L789.5 313L790.7 313.3L791.8 313.6L793 314L794.1 314.3L795.2 315.7L796.6 315.3L798 314.8L799.2 315.2L800.4 315.7L801.5 316.2L802.9 316.3L804.3 316.4L805.7 316.5L807.1 316.4L808.5 316.4L809.9 316.3L811.3 316.2L812.5 316.5L813.7 316.7L815 317L816.2 317.2L817.3 317.7L818.5 318.2L819.7 318.6L821.1 319.2L822.5 319.9L823.8 320.5L825.2 320.8L826.6 321.1L828 321.5L829.4 321.8L830.8 322.1L832.2 322.4L833.6 322.8L835 323.2L836.4 323.5L837.8 323.9L839.2 324.7L840.6 325.6L842 326.4L843.4 326.9L844.8 327.3L846.2 327.8L847.6 328.3L849 328.8L850.4 329.2L851.8 329.6L853.2 330L854.6 330.4L856 330.7L857.3 331.1L858.7 331.4L860.1 331.8L861.5 332.1L862.9 332.4L864.3 332.7L865.7 333.1L867.1 333.3L868.5 333.6L869.9 333.8L871.3 334.1L872.7 334.2L874.1 334.4L875.5 334.6L876.9 334.8L878.3 335L879.7 335.2L881.1 335.4L882.5 335.6L883.9 335.8L885.3 336L886.7 336.2L888.1 336.4L889.5 336.5L890.8 336.7L892.2 336.9L893.6 337L895 337.2L896.4 337.4L897.8 337.5L899.2 337.7L900.6 337.9L902 338L903.4 338.2L904.8 338.4L906.2 338.5L907.6 338.7L909 338.8L910.4 339L911.8 339.1L913.2 339.2L914.6 339.4L916 339.5L917.4 339.7L918.8 339.8L920.2 340L921.6 340.1L923 340.2L924.3 340.4L925.7 340.5L927.1 340.6L928.5 340.7L929.9 340.8L931.3 341L932.7 341.1L934.1 341.2L935.5 341.3L936.9 341.5L938.3 341.6L939.7 341.7L941.1 341.7L942.5 341.8L943.9 341.9L945.3 342L946.7 342L948.1 342.1L949.5 342.2L950.9 342.2L952.3 342.3L953.7 342.3L955.1 342.4L956.5 342.4L957.8 342.4L959.2 342.5L960.6 342.5L962 342.6L963.4 342.6L964.8 342.7L966.3 342.7L967.8 342.7L969.3 342.8L970.8 342.8L972.3 342.8L973.8 342.9L975.3 342.9L976.8 342.9L978.3 343L979.8 343L981.3 343.1L982.8 343.1L984.3 343.1L985.8 343.2L987.2 343.2L988.7 343.2L990.2 343.2L991.6 343.3L993.1 343.3L994.6 343.3L996 343.4L997.5 343.4L999 343.4L1000.5 343.4L1001.9 343.5L1003.4 343.5L1004.9 343.5L1006.3 343.6L1007.8 343.6L1009.3 343.6L1010.7 343.6L1012.2 343.7L1013.7 343.7L1015.1 343.7L1016.6 343.7L1018.1 343.8L1019.6 343.8L1021 343.8L1022.5 343.8L1024 343.8L1025.4 343.9L1026.9 343.9L1028.4 343.9L1029.8 343.9L1031.3 343.9L1032.8 344L1034.2 344L1035.7 344L1037.2 344L1038.7 344L1040.1 344.1L1041.6 344.1L1043 344.1L1044.4 344.1L1045.9 344.1L1047.3 344.1L1048.7 344.2L1050.1 344.2L1051.5 344.2L1052.9 344.2L1054.4 344.2L1055.8 344.2L1057.2 344.2L1058.6 344.2L1060 344.3L1061.5 344.3L1062.9 344.3L1064.3 344.3L1065.7 344.3L1067.1 344.3L1067.1 344.9L1065.7 344.9L1064.3 344.9L1062.9 344.9L1061.5 344.9L1060 344.9L1058.6 344.9L1057.2 344.9L1055.8 344.9L1054.4 344.9L1052.9 344.9L1051.5 344.9L1050.1 344.9L1048.7 344.9L1047.3 344.9L1045.9 344.9L1044.4 344.9L1043 344.9L1041.6 344.9L1040.1 344.9L1038.7 344.9L1037.2 344.9L1035.7 344.9L1034.2 344.9L1032.8 344.9L1031.3 344.8L1029.8 344.8L1028.4 344.8L1026.9 344.8L1025.4 344.8L1024 344.8L1022.5 344.8L1021 344.8L1019.6 344.8L1018.1 344.8L1016.6 344.8L1015.1 344.8L1013.7 344.7L1012.2 344.7L1010.7 344.7L1009.3 344.7L1007.8 344.7L1006.3 344.7L1004.9 344.6L1003.4 344.6L1001.9 344.6L1000.5 344.6L999 344.6L997.5 344.6L996 344.5L994.6 344.5L993.1 344.5L991.6 344.5L990.2 344.5L988.7 344.5L987.2 344.5L985.8 344.4L984.3 344.4L982.8 344.4L981.3 344.4L979.8 344.3L978.3 344.3L976.8 344.3L975.3 344.3L973.8 344.2L972.3 344.2L970.8 344.2L969.3 344.2L967.8 344.1L966.3 344.1L964.8 344.1L963.4 344.1L962 344L960.6 344L959.2 344L957.8 343.9L956.5 343.9L955.1 343.9L953.7 343.8L952.3 343.8L950.9 343.8L949.5 343.7L948.1 343.7L946.7 343.6L945.3 343.6L943.9 343.5L942.5 343.4L941.1 343.4L939.7 343.3L938.3 343.2L936.9 343.1L935.5 343L934.1 342.9L932.7 342.8L931.3 342.7L929.9 342.6L928.5 342.5L927.1 342.3L925.7 342.2L924.3 342.1L923 342L921.6 341.9L920.2 341.8L918.8 341.6L917.4 341.5L916 341.4L914.6 341.2L913.2 341.1L911.8 341L910.4 340.8L909 340.7L907.6 340.6L906.2 340.4L904.8 340.3L903.4 340.1L902 340L900.6 339.8L899.2 339.7L897.8 339.5L896.4 339.3L895 339.2L893.6 339L892.2 338.9L890.8 338.7L889.5 338.6L888.1 338.4L886.7 338.2L885.3 338L883.9 337.9L882.5 337.7L881.1 337.5L879.7 337.3L878.3 337.1L876.9 337L875.5 336.8L874.1 336.6L872.7 336.4L871.3 336.2L869.9 336L868.5 335.8L867.1 335.5L865.7 335.3L864.3 335L862.9 334.7L861.5 334.4L860.1 334.1L858.7 333.7L857.3 333.4L856 333L854.6 332.7L853.2 332.3L851.8 331.9L850.4 331.6L849 331.1L847.6 330.7L846.2 330.2L844.8 329.7L843.4 329.3L842 328.8L840.6 328L839.2 327.2L837.8 326.3L836.4 326L835 325.6L833.6 325.3L832.2 324.9L830.8 324.6L829.4 324.3L828 324L826.6 323.7L825.2 323.3L823.8 323L822.5 322.4L821.1 321.8L819.7 321.2L818.5 320.8L817.3 320.3L816.2 319.8L815 319.6L813.7 319.4L812.5 319.1L811.3 318.9L809.9 319L808.5 319L807.1 319.1L805.7 319.2L804.3 319.1L802.9 319L801.5 318.9L800.4 318.5L799.2 318L798 317.5L796.6 318L795.2 318.5L794.1 317.1L793 316.8L791.8 316.4L790.7 316.1L789.5 315.8L788.4 315.5L787.2 315.5L786.1 315.5L784.9 315.6L783.6 316L782.3 316.4L780.9 315.5L779.4 314.5L778.2 314.5L776.9 314.5L775.7 314.6L774.8 313.7L773.9 312.9L772.6 311.9L771.3 311L770 310L768.7 308.5L767.4 307L766.1 305.5L764.6 303.2L763.1 300.8L761.7 298L760.2 295.2L758.7 292.3L757.3 289.5L756 285.7L754.7 281.9L753.6 274.1L752.4 266.4L750.9 256.7L749.5 247.3L748.7 244.2L747.4 233.8L746 227.5L745.1 227.2L744.2 226.6L743.2 229.3L742.3 232L741.5 232.9L740.8 233.8L739.6 234L738.5 234.4L737.3 239L736 243.5L734.6 248.9L733.2 254.4L731.8 260.8L730.4 267.2L729 273.6L727.6 280L726.5 284.9L725.5 289.8L724.5 294.8L723.3 302.3L722.2 304.7L721.1 307L719.6 308.4L718.2 309.9L716.8 310.8L715.4 311.7L714 312.2L712.6 312.7L711.6 314.6L710.7 316.5L709.7 316.9L708.8 317.4L707.6 317.4L706.4 317.4L705.3 317.4L704.1 317.4L702.8 317.3L701.6 317.2L700.3 317L699 316.7L697.8 316.4L696.5 316.1L695.1 316L693.7 315.9L692.3 315.2L690.9 314.6L689.5 313.6L688 312.7L686.6 311.3L685.2 309.9L684 308.4L682.8 307L681.6 304.7L680.5 302.3L679.5 300L678.6 297.6L677.7 294.3L676.7 291L675.5 286.3L674.3 281.6L672.9 272.2L672 266.6L670.9 253.7L670.1 235.2Z" fill="#555555" fill-opacity="0.33"/>
<path d="M669.3 200.4L670 226.6L671 229.5L672.2 249.9L673 260L673.8 270.2L675.2 277.3L676.7 284.4L678.2 289.5L679.6 294.6L680.9 297.3L682.2 300L683.5 302.7L684.8 304.4L686.1 306L687.5 307.6L688.8 308.3L690.1 308.9L691.4 309.5L692.1 309L692.9 308.5L694.1 309.3L695.2 310L696.4 310.8L697.5 310.6L698.7 310.5L699.8 310.3L701 310.6L702.1 310.9L703.2 311.2L704.4 311L705.5 310.8L706.7 310.7L707.8 310.9L709 311.1L710.1 311.3L711.5 310.4L712.9 309.5L714.4 307.7L715.8 305.3L717.3 302.6L718.8 299.9L720 296.9L721.1 293.8L722 290.3L722.9 286.9L724.3 278.6L725.2 273.2L726.2 267.7L727.1 262.3L728 256.8L728.8 253.2L729.6 249.8L730.7 248.9L731.9 248.1L733 247.6L734.2 247L735.3 246.4L736.5 245.8L737.4 245L738.3 242.6L739.4 240.5L740.2 241.1L741.1 241.7L742.2 241.2L743.3 240.7L744.5 240.6L745.6 242.8L746.4 244.5L747.2 246.1L748 249.2L749 255.4L750 260.8L751 266.2L751.9 271.6L753.1 276.7L754.3 281.6L755.6 284.9L756.8 288.3L758.3 291.7L759.8 295.2L761.2 297.5L762.7 299.9L764.2 302L765.6 304L766.9 305.3L768.2 306.5L769.5 307.8L770.8 308.7L772.1 309.6L773.4 310.5L774.7 311.2L776 311.9L777.3 312.5L778.6 312.1L779.9 311.8L781.3 311.4L782.3 312.1L783.4 310.9L784.6 309.8L785.7 310.4L786.9 311L788 310.6L789.2 310.2L790.3 309.8L791.7 309.3L793.1 308.7L794 308.5L794.9 308.3L795.9 309.5L797 310.8L798.4 310L799.8 309.2L801.2 310.4L802.6 311.6L804 310.9L805.4 310.2L806.4 311.6L807.4 313L808.6 313.6L809.8 314.2L810.9 314.8L812.3 315L813.7 315.2L815.1 315.4L816.5 315.6L817.9 315.7L819.3 315.9L820.7 316.6L822.1 317.3L823.5 318.1L824.9 318.8L826.3 319.5L827.7 320.2L828.9 319.8L830 319.3L831.2 318.9L832.3 319.2L833.5 319.4L834.7 319.7L835.8 320.6L837 321.6L838.2 322.5L839.3 323.3L840.5 324L841.6 324.7L843 325.2L844.4 325.7L845.8 326.2L847.2 326.7L848.6 327.2L850 327.7L851.4 327.9L852.8 328.2L854.2 328.4L855.6 329L857 329.6L858.4 330.2L859.8 330.7L861.2 331.2L862.6 331.7L864 332L865.4 332.3L866.8 332.6L868.2 332.9L869.6 333.1L871 333.3L872.4 333.5L873.7 333.7L875.1 333.9L876.5 334.1L877.9 334.4L879.3 334.6L880.7 334.8L882.1 335L883.5 335.2L884.9 335.4L886.3 335.6L887.7 335.8L889.1 336L890.5 336.1L891.9 336.3L893.3 336.4L894.7 336.6L896.1 336.7L897.5 336.9L898.9 337L900.3 337.2L901.7 337.3L903.1 337.5L904.5 337.6L905.9 337.8L907.2 337.9L908.6 338.1L910 338.2L911.4 338.4L912.8 338.5L914.2 338.6L915.6 338.8L917 338.9L918.4 339.1L919.8 339.2L921.2 339.4L922.6 339.5L924 339.6L925.4 339.7L926.8 339.8L928.2 339.9L929.6 340L931 340.1L932.4 340.2L933.8 340.3L935.2 340.4L936.6 340.5L938 340.6L939.4 340.7L940.7 340.8L942.1 340.9L943.5 341L944.9 341.1L946.3 341.2L947.7 341.3L949.1 341.4L950.5 341.4L951.9 341.5L953.3 341.6L954.7 341.7L956.1 341.8L957.5 341.8L958.9 341.9L960.3 342L961.7 342.1L963.1 342.1L964.5 342.2L965.9 342.2L967.3 342.3L968.7 342.4L970.1 342.4L971.5 342.5L972.9 342.5L974.2 342.6L975.6 342.6L977 342.7L978.4 342.7L979.8 342.8L981.2 342.8L982.6 342.9L984 342.9L985.4 343L986.8 343L988.2 343.1L989.6 343.1L991 343.1L992.4 343.2L993.8 343.2L995.2 343.2L996.6 343.3L998 343.3L999.4 343.3L1000.8 343.4L1002.3 343.4L1003.8 343.4L1005.2 343.5L1006.7 343.5L1008.2 343.5L1009.7 343.6L1011.1 343.6L1012.6 343.6L1014.1 343.7L1015.5 343.7L1017 343.7L1018.5 343.7L1019.9 343.8L1021.4 343.8L1022.9 343.8L1024.3 343.9L1025.8 343.9L1027.3 343.9L1028.8 344L1030.2 344L1031.7 344L1033.1 344L1034.6 344L1036.1 344L1037.5 344.1L1039 344.1L1040.5 344.1L1041.9 344.1L1043.4 344.1L1044.8 344.2L1046.3 344.2L1047.8 344.2L1049.2 344.2L1050.7 344.2L1052.2 344.3L1053.6 344.3L1055.1 344.3L1056.5 344.3L1058 344.3L1059.5 344.4L1060.9 344.4L1062.4 344.4L1063.9 344.4L1065.3 344.4L1066.8 344.4L1066.8 345.1L1065.3 345.1L1063.9 345.1L1062.4 345.1L1060.9 345.1L1059.5 345.1L1058 345.1L1056.5 345.1L1055.1 345.1L1053.6 345.1L1052.2 345.1L1050.7 345.1L1049.2 345.1L1047.8 345.1L1046.3 345.1L1044.8 345.1L1043.4 345.1L1041.9 345.1L1040.5 345.1L1039 345.1L1037.5 345.1L1036.1 345.1L1034.6 345L1033.1 345L1031.7 345L1030.2 345L1028.8 345L1027.3 345L1025.8 345L1024.3 345L1022.9 345L1021.4 345L1019.9 345L1018.5 345L1017 344.9L1015.5 344.9L1014.1 344.9L1012.6 344.9L1011.1 344.9L1009.7 344.9L1008.2 344.9L1006.7 344.9L1005.2 344.8L1003.8 344.8L1002.3 344.8L1000.8 344.8L999.4 344.8L998 344.8L996.6 344.8L995.2 344.7L993.8 344.7L992.4 344.7L991 344.7L989.6 344.7L988.2 344.6L986.8 344.6L985.4 344.6L984 344.6L982.6 344.5L981.2 344.5L979.8 344.5L978.4 344.4L977 344.4L975.6 344.4L974.2 344.3L972.9 344.3L971.5 344.3L970.1 344.2L968.7 344.2L967.3 344.1L965.9 344.1L964.5 344L963.1 344L961.7 344L960.3 343.9L958.9 343.8L957.5 343.8L956.1 343.7L954.7 343.7L953.3 343.6L951.9 343.5L950.5 343.5L949.1 343.4L947.7 343.3L946.3 343.3L944.9 343.2L943.5 343.1L942.1 343L940.7 342.9L939.4 342.9L938 342.8L936.6 342.7L935.2 342.6L933.8 342.5L932.4 342.4L931 342.4L929.6 342.3L928.2 342.2L926.8 342.1L925.4 342L924 341.9L922.6 341.9L921.2 341.8L919.8 341.6L918.4 341.5L917 341.4L915.6 341.2L914.2 341.1L912.8 341L911.4 340.9L910 340.7L908.6 340.6L907.2 340.5L905.9 340.3L904.5 340.2L903.1 340.1L901.7 339.9L900.3 339.8L898.9 339.7L897.5 339.5L896.1 339.4L894.7 339.3L893.3 339.1L891.9 339L890.5 338.9L889.1 338.8L887.7 338.6L886.3 338.4L884.9 338.2L883.5 338.1L882.1 337.9L880.7 337.7L879.3 337.5L877.9 337.3L876.5 337L875.1 336.8L873.7 336.6L872.4 336.4L871 336.3L869.6 336.1L868.2 336L866.8 335.7L865.4 335.5L864 335.2L862.6 335L861.2 334.5L859.8 334.1L858.4 333.7L857 333.1L855.6 332.6L854.2 332.1L852.8 331.9L851.4 331.7L850 331.4L848.6 331L847.2 330.6L845.8 330.1L844.4 329.7L843 329.3L841.6 328.8L840.5 328.1L839.3 327.5L838.2 326.8L837 325.9L835.8 325L834.7 324.1L833.5 323.9L832.3 323.7L831.2 323.4L830 323.9L828.9 324.4L827.7 324.9L826.3 324.2L824.9 323.6L823.5 322.9L822.1 322.2L820.7 321.6L819.3 320.9L817.9 320.8L816.5 320.6L815.1 320.5L813.7 320.3L812.3 320.2L810.9 320L809.8 319.4L808.6 318.8L807.4 318.2L806.4 316.8L805.4 315.4L804 316.1L802.6 316.8L801.2 315.7L799.8 314.5L798.4 315.3L797 316.2L795.9 314.9L794.9 313.7L794 313.9L793.1 314.2L791.7 314.7L790.3 315.3L789.2 315.7L788 316.1L786.9 316.5L785.7 315.9L784.6 315.4L783.4 316.5L782.3 317.7L781.3 317L779.9 317.4L778.6 317.8L777.3 318.2L776 317.6L774.7 317L773.4 316.3L772.1 315.4L770.8 314.5L769.5 313.6L768.2 312.4L766.9 311.2L765.6 309.9L764.2 307.9L762.7 305.8L761.2 303.5L759.8 301.3L758.3 299.4L756.8 297.6L755.6 295.6L754.3 293.6L753.1 290L751.9 286.5L751 282.8L750 279.2L749 275.5L748 272.2L747.2 272L746.4 273.3L745.6 274.5L744.5 276.6L743.3 278.5L742.2 278.4L741.1 278.3L740.2 277.3L739.4 276.4L738.3 277.9L737.4 279.8L736.5 279.8L735.3 279.5L734.2 279.1L733 278.6L731.9 278.1L730.7 278L729.6 277.8L728.8 279L728 280.2L727.1 282.9L726.2 285.6L725.2 288.3L724.3 291L722.9 297.2L722 299.9L721.1 302.7L720 304.8L718.8 307L717.3 308.6L715.8 310.1L714.4 311.7L712.9 313.4L711.5 314.3L710.1 315.2L709 315L707.8 314.7L706.7 314.5L705.5 314.6L704.4 314.8L703.2 314.9L702.1 314.6L701 314.3L699.8 314L698.7 314.1L697.5 314.2L696.4 314.4L695.2 313.6L694.1 312.8L692.9 312.1L692.1 312.5L691.4 313L690.1 312.3L688.8 311.7L687.5 311L686.1 309.4L684.8 307.7L683.5 306.2L682.2 303.7L680.9 301.2L679.6 298.7L678.2 294L676.7 289.3L675.2 282.7L673.8 276.2L673 266.8L672.2 257.4L671 238.6L670 235.9L669.3 211.7Z" fill="#4b8fd6" fill-opacity="0.5"/>
<path d="M670.1 232.9L670.9 251.8L672 265L672.9 270.6L674.3 280.1L676.7 289.5L678.6 296.1L680.5 300.8L682.8 305.5L685.2 308.4L688 311.2L690.9 313.1L693.7 314.4L696.5 314.6L700.3 315.5L704.1 315.9L708.8 315.9L710.7 315L712.6 311.2L715.4 310.2L718.2 308.4L721.1 305.5L723.3 300.8L724.5 293.3L727.6 278.2L730.4 265L733.2 251.8L736 240.4L738.5 230.1L740.8 228.2L742.3 225.3L744.2 218.7L746 221.6L747.4 229.1L748.7 240.4L749.5 244L752.4 263.5L754.7 279.2L757.3 287L760.2 292.9L763.1 298.7L766.1 303.6L770 308.5L773.9 311.4L775.7 313.1L779.4 313.1L782.3 315L784.9 314.1L788.4 314.1L791.8 315L794.1 315.7L795.2 317.1L798 316.2L801.5 317.6L805.7 317.8L811.3 317.6L816.2 318.5L819.7 319.9L823.8 321.7L828 322.7L832.2 323.7L837.8 325.1L842 327.6L846.2 329L850.4 330.4L854.6 331.5L860.1 332.9L865.7 334.2L871.3 335.1L879.7 336.3L888.1 337.4L896.4 338.4L904.8 339.3L913.2 340.2L921.6 341L929.9 341.7L938.3 342.4L949.5 343L964.8 343.4L985.8 343.8L1013.7 344.2L1041.6 344.5L1067.1 344.6" fill="none" stroke="#555555" stroke-width="2.6" stroke-linejoin="round" stroke-linecap="round"/>
<path d="M669.3 206L670 231.2L671 234.1L672.2 253.6L673.8 273.2L676.7 286.8L679.6 296.6L683.5 304.4L687.5 309.3L691.4 311.3L692.9 310.3L696.4 312.6L699.8 312.1L703.2 313L706.7 312.6L710.1 313.3L712.9 311.4L715.8 308L718.8 304.6L721.1 300L722.9 294.3L724.3 287.4L726.2 279.4L728 271.3L729.6 266.8L731.9 263.3L734.2 260.6L736.5 257.6L738.3 254.6L739.4 254.2L741.1 257.6L743.3 259.9L745.6 258.7L747.2 258.3L748 259.5L750 268.3L751.9 277.1L754.3 286.1L756.8 292.1L759.8 298.2L762.7 302.9L765.6 307L769.5 310.7L773.4 313.4L777.3 315.4L781.3 314.2L782.3 314.9L784.6 312.6L786.9 313.7L790.3 312.6L793.1 311.4L794.9 311L797 313.5L799.8 311.8L802.6 314.2L805.4 312.8L807.4 315.6L810.9 317.4L815.1 318L819.3 318.4L823.5 320.5L827.7 322.6L831.2 321.2L834.7 321.9L838.2 324.7L841.6 326.8L845.8 328.2L850 329.6L854.2 330.2L858.4 331.9L862.6 333.3L868.2 334.4L873.7 335.1L880.7 336.3L887.7 337.2L896.1 338.1L904.5 338.9L912.8 339.7L921.2 340.6L929.6 341.1L938 341.7L949.1 342.4L960.3 343L971.5 343.4L985.4 343.8L999.4 344.1L1027.3 344.5L1066.8 344.8" fill="none" stroke="#4b8fd6" stroke-width="2.75" stroke-linejoin="round" stroke-linecap="round"/>
</g>
<g clip-path="url(#c02)">
<path d="M1137.9 230.4L1138.7 249.7L1139.8 263.2L1140.7 268.9L1142.1 278.4L1143.3 283.1L1144.5 287.8L1145.5 291.1L1146.4 294.4L1147.3 296.8L1148.3 299.2L1149.4 301.5L1150.6 303.9L1151.8 305.3L1153 306.7L1154.4 308.1L1155.8 309.5L1157.2 310.5L1158.7 311.4L1160.1 312.1L1161.5 312.7L1162.9 312.8L1164.3 312.9L1165.6 313.2L1166.8 313.6L1168.1 313.9L1169.4 314L1170.6 314.1L1171.9 314.3L1173.1 314.3L1174.2 314.3L1175.4 314.3L1176.6 314.3L1177.5 313.8L1178.5 313.3L1179.4 311.4L1180.4 309.5L1181.8 309.1L1183.2 308.6L1184.6 307.7L1186 306.7L1187.4 305.3L1188.9 303.9L1190 301.5L1191.1 299.2L1192.2 291.6L1193.3 286.4L1194.3 281.2L1195.4 275.9L1196.8 269L1198.2 262.1L1199.6 255.1L1201 248.2L1202.4 242.2L1203.8 236.1L1205.1 229.7L1206.3 223.3L1207.4 221.2L1208.6 219L1209.3 216.7L1210.1 214.5L1211 210.1L1212 205.8L1212.9 209.1L1213.8 213.2L1215.2 223.5L1216.5 236.1L1217.3 240.5L1218.7 250.6L1220.2 260.4L1221.4 268.2L1222.5 276L1223.8 279.9L1225.1 283.8L1226.5 286.8L1228 289.7L1229.5 292.6L1230.9 295.6L1232.4 298L1233.9 300.8L1235.2 302.8L1236.5 304.9L1237.8 306.8L1239.1 307.8L1240.4 308.8L1241.7 309.8L1242.6 310.6L1243.5 311.4L1244.7 311.5L1246 311.5L1247.2 311.5L1248.7 312.4L1250.1 313.4L1251.4 312.9L1252.7 312.5L1253.9 312.5L1255 312.5L1256.2 312.5L1257.3 312.8L1258.5 313.2L1259.6 313.5L1260.8 313.8L1261.9 314.2L1263 315.6L1264.4 315.1L1265.8 314.6L1267 315.1L1268.2 315.6L1269.3 316L1270.7 316.1L1272.1 316.2L1273.5 316.3L1274.9 316.3L1276.3 316.2L1277.7 316.1L1279.1 316.1L1280.3 316.3L1281.5 316.6L1282.8 316.8L1284 317.1L1285.1 317.5L1286.3 318L1287.5 318.5L1288.9 319.1L1290.3 319.7L1291.6 320.3L1293 320.6L1294.4 321L1295.8 321.3L1297.2 321.6L1298.6 322L1300 322.3L1301.4 322.7L1302.8 323L1304.2 323.4L1305.6 323.7L1307 324.6L1308.4 325.4L1309.8 326.2L1311.2 326.7L1312.6 327.2L1314 327.7L1315.4 328.1L1316.8 328.6L1318.2 329.1L1319.6 329.4L1321 329.8L1322.4 330.2L1323.8 330.6L1325.1 330.9L1326.5 331.3L1327.9 331.6L1329.3 331.9L1330.7 332.3L1332.1 332.6L1333.5 332.9L1334.9 333.2L1336.3 333.4L1337.7 333.7L1339.1 333.9L1340.5 334.1L1341.9 334.3L1343.3 334.5L1344.7 334.7L1346.1 334.9L1347.5 335.1L1348.9 335.2L1350.3 335.4L1351.7 335.6L1353.1 335.8L1354.5 336L1355.9 336.2L1357.3 336.4L1358.6 336.5L1360 336.7L1361.4 336.9L1362.8 337L1364.2 337.2L1365.6 337.4L1367 337.5L1368.4 337.7L1369.8 337.9L1371.2 338.1L1372.6 338.2L1374 338.4L1375.4 338.5L1376.8 338.7L1378.2 338.8L1379.6 338.9L1381 339.1L1382.4 339.2L1383.8 339.4L1385.2 339.5L1386.6 339.7L1388 339.8L1389.4 340L1390.8 340.1L1392.1 340.2L1393.5 340.3L1394.9 340.5L1396.3 340.6L1397.7 340.7L1399.1 340.8L1400.5 340.9L1401.9 341.1L1403.3 341.2L1404.7 341.3L1406.1 341.4L1407.5 341.5L1408.9 341.6L1410.3 341.7L1411.7 341.7L1413.1 341.8L1414.5 341.9L1415.9 342L1417.3 342L1418.7 342.1L1420.1 342.1L1421.5 342.2L1422.9 342.2L1424.3 342.2L1425.6 342.3L1427 342.3L1428.4 342.4L1429.8 342.4L1431.2 342.5L1432.6 342.5L1434.1 342.5L1435.6 342.6L1437.1 342.6L1438.6 342.7L1440.1 342.7L1441.6 342.7L1443.1 342.8L1444.6 342.8L1446.1 342.8L1447.6 342.9L1449.1 342.9L1450.6 342.9L1452.1 343L1453.6 343L1455 343L1456.5 343.1L1458 343.1L1459.4 343.1L1460.9 343.2L1462.4 343.2L1463.8 343.2L1465.3 343.2L1466.8 343.3L1468.3 343.3L1469.7 343.3L1471.2 343.3L1472.7 343.4L1474.1 343.4L1475.6 343.4L1477.1 343.5L1478.5 343.5L1480 343.5L1481.5 343.5L1482.9 343.6L1484.4 343.6L1485.9 343.6L1487.4 343.6L1488.8 343.6L1490.3 343.7L1491.8 343.7L1493.2 343.7L1494.7 343.7L1496.2 343.7L1497.6 343.8L1499.1 343.8L1500.6 343.8L1502 343.8L1503.5 343.9L1505 343.9L1506.5 343.9L1507.9 343.9L1509.4 343.9L1510.8 343.9L1512.2 344L1513.7 344L1515.1 344L1516.5 344L1517.9 344L1519.3 344L1520.7 344L1522.2 344.1L1523.6 344.1L1525 344.1L1526.4 344.1L1527.8 344.1L1529.3 344.1L1530.7 344.1L1532.1 344.1L1533.5 344.2L1534.9 344.2L1534.9 344.8L1533.5 344.8L1532.1 344.8L1530.7 344.8L1529.3 344.8L1527.8 344.8L1526.4 344.8L1525 344.8L1523.6 344.8L1522.2 344.8L1520.7 344.8L1519.3 344.8L1517.9 344.8L1516.5 344.8L1515.1 344.8L1513.7 344.8L1512.2 344.8L1510.8 344.8L1509.4 344.8L1507.9 344.8L1506.5 344.7L1505 344.7L1503.5 344.7L1502 344.7L1500.6 344.7L1499.1 344.7L1497.6 344.7L1496.2 344.7L1494.7 344.7L1493.2 344.7L1491.8 344.7L1490.3 344.6L1488.8 344.6L1487.4 344.6L1485.9 344.6L1484.4 344.6L1482.9 344.6L1481.5 344.6L1480 344.6L1478.5 344.6L1477.1 344.5L1475.6 344.5L1474.1 344.5L1472.7 344.5L1471.2 344.5L1469.7 344.5L1468.3 344.4L1466.8 344.4L1465.3 344.4L1463.8 344.4L1462.4 344.4L1460.9 344.4L1459.4 344.4L1458 344.3L1456.5 344.3L1455 344.3L1453.6 344.3L1452.1 344.3L1450.6 344.2L1449.1 344.2L1447.6 344.2L1446.1 344.2L1444.6 344.1L1443.1 344.1L1441.6 344.1L1440.1 344.1L1438.6 344L1437.1 344L1435.6 344L1434.1 344L1432.6 344L1431.2 343.9L1429.8 343.9L1428.4 343.9L1427 343.8L1425.6 343.8L1424.3 343.8L1422.9 343.7L1421.5 343.7L1420.1 343.7L1418.7 343.6L1417.3 343.6L1415.9 343.5L1414.5 343.5L1413.1 343.4L1411.7 343.3L1410.3 343.3L1408.9 343.2L1407.5 343.1L1406.1 343.1L1404.7 343L1403.3 342.9L1401.9 342.7L1400.5 342.6L1399.1 342.5L1397.7 342.4L1396.3 342.3L1394.9 342.2L1393.5 342.1L1392.1 342L1390.8 341.9L1389.4 341.8L1388 341.6L1386.6 341.5L1385.2 341.3L1383.8 341.2L1382.4 341.1L1381 340.9L1379.6 340.8L1378.2 340.7L1376.8 340.5L1375.4 340.4L1374 340.3L1372.6 340.1L1371.2 340L1369.8 339.8L1368.4 339.7L1367 339.5L1365.6 339.4L1364.2 339.2L1362.8 339L1361.4 338.9L1360 338.7L1358.6 338.6L1357.3 338.4L1355.9 338.3L1354.5 338.1L1353.1 337.9L1351.7 337.7L1350.3 337.5L1348.9 337.4L1347.5 337.2L1346.1 337L1344.7 336.8L1343.3 336.6L1341.9 336.5L1340.5 336.3L1339.1 336.1L1337.7 335.9L1336.3 335.6L1334.9 335.4L1333.5 335.1L1332.1 334.8L1330.7 334.5L1329.3 334.2L1327.9 333.9L1326.5 333.6L1325.1 333.2L1323.8 332.9L1322.4 332.5L1321 332.2L1319.6 331.8L1318.2 331.4L1316.8 331L1315.4 330.5L1314 330L1312.6 329.6L1311.2 329.1L1309.8 328.7L1308.4 327.8L1307 327L1305.6 326.2L1304.2 325.8L1302.8 325.5L1301.4 325.1L1300 324.8L1298.6 324.5L1297.2 324.2L1295.8 323.8L1294.4 323.5L1293 323.2L1291.6 322.9L1290.3 322.3L1288.9 321.7L1287.5 321.1L1286.3 320.6L1285.1 320.2L1284 319.7L1282.8 319.5L1281.5 319.2L1280.3 319L1279.1 318.7L1277.7 318.8L1276.3 318.9L1274.9 319L1273.5 319L1272.1 319L1270.7 318.9L1269.3 318.8L1268.2 318.3L1267 317.9L1265.8 317.4L1264.4 317.9L1263 318.4L1261.9 317L1260.8 316.6L1259.6 316.3L1258.5 316L1257.3 315.7L1256.2 315.4L1255 315.4L1253.9 315.4L1252.7 315.4L1251.4 315.8L1250.1 316.3L1248.7 315.3L1247.2 314.4L1246 314.4L1244.7 314.4L1243.5 314.4L1242.6 313.6L1241.7 312.8L1240.4 311.8L1239.1 310.8L1237.8 309.8L1236.5 308.3L1235.2 306.8L1233.9 305.3L1232.4 303L1230.9 300.7L1229.5 297.9L1228 295L1226.5 292.2L1225.1 289.4L1223.8 285.5L1222.5 281.7L1221.4 274L1220.2 266.2L1218.7 256.6L1217.3 247.1L1216.5 244.1L1215.2 233.6L1213.8 227.4L1212.9 227.1L1212 226.5L1211 229.1L1210.1 231.8L1209.3 232.7L1208.6 233.6L1207.4 233.9L1206.3 234.2L1205.1 238.8L1203.8 243.4L1202.4 248.8L1201 254.2L1199.6 260.7L1198.2 267.1L1196.8 273.5L1195.4 279.9L1194.3 284.8L1193.3 289.7L1192.2 294.6L1191.1 302.2L1190 304.5L1188.9 306.9L1187.4 308.3L1186 309.7L1184.6 310.7L1183.2 311.6L1181.8 312.1L1180.4 312.5L1179.4 314.4L1178.5 316.3L1177.5 316.8L1176.6 317.3L1175.4 317.3L1174.2 317.3L1173.1 317.3L1171.9 317.3L1170.6 317.1L1169.4 317L1168.1 316.9L1166.8 316.6L1165.6 316.2L1164.3 315.9L1162.9 315.8L1161.5 315.7L1160.1 315.1L1158.7 314.4L1157.2 313.5L1155.8 312.5L1154.4 311.1L1153 309.7L1151.8 308.3L1150.6 306.9L1149.4 304.5L1148.3 302.2L1147.3 299.8L1146.4 297.4L1145.5 294.1L1144.5 290.8L1143.3 286.1L1142.1 281.4L1140.7 272L1139.8 266.5L1138.7 253.5L1137.9 235Z" fill="#555555" fill-opacity="0.33"/>
<path d="M1136.9 202.7L1137.7 228.1L1138.6 247.8L1139.9 263.5L1140.7 269.3L1141.4 275.2L1142.4 280.1L1143.3 285L1144.5 289L1145.6 292.9L1146.8 295.8L1148 298.8L1149.5 300.7L1150.9 302.5L1152.3 304.9L1153.7 307.2L1155.1 309L1156.5 310.9L1157.9 311.8L1159.4 312.7L1160.3 312.3L1161.2 312L1162.2 311.3L1163.1 310.7L1164.1 310.2L1165 309.7L1166 310.6L1166.9 311.5L1168.3 311.3L1169.7 311L1170.7 309.8L1171.6 308.5L1172.6 309.4L1173.5 310.3L1174.6 310.8L1175.8 311.2L1176.5 308.4L1177.3 305.5L1178.2 304.1L1179.2 302.6L1180.3 301.7L1181.4 300.7L1182.7 299.2L1183.9 297.8L1185.1 294.9L1186.3 292L1187.5 287.3L1188.6 282.3L1189.5 277.4L1190.5 272.4L1191.2 268.5L1192 264.5L1192.8 263.7L1193.6 262.8L1195 256.6L1196.5 250.4L1198 245.1L1199.4 239.9L1200.4 231.5L1201.4 222.3L1202.4 214.7L1203.3 207L1204.7 204.2L1205.5 206.5L1206.3 208.8L1207.2 212.3L1208.2 216.1L1209.2 215.7L1210.2 212.4L1210.9 207.2L1211.7 202.7L1212.9 208.2L1214.1 215.6L1214.9 227.2L1215.6 236.3L1216.6 245.6L1217.6 254.9L1218.8 261.4L1219.9 267.8L1221.1 272.3L1222.3 276.8L1223.6 279.9L1224.8 282.8L1226.3 285.8L1227.8 288.7L1229.2 290.7L1230.7 292.6L1232.2 295.1L1233.6 297.5L1234.9 298.8L1236.2 300.1L1237.5 301.4L1238.8 302.8L1240.1 304.2L1241.4 305.6L1242.7 306.3L1244 307L1245.3 307.8L1246.6 308.2L1247.9 308.6L1249.3 309L1250.4 310.4L1251.5 311.7L1252.6 313L1253.7 312.7L1254.9 312.4L1256 312.1L1257.2 312.4L1258.3 312.7L1259.5 313L1260.8 312.9L1262.2 312.9L1263.6 312.8L1265 312.7L1266.4 313.9L1267.8 315L1269.2 314.3L1270.6 313.6L1272 314.7L1273.4 315.7L1274.7 315.4L1276.1 315L1277.4 314L1278.7 313L1279.8 315.4L1281 317.9L1282.2 318.2L1283.4 318.5L1284.5 318.9L1285.7 318.8L1286.8 318.7L1288 318.6L1289.2 319.1L1290.3 319.6L1291.5 320L1292.9 320.9L1294.3 321.7L1295.7 322.6L1297.1 323.1L1298.5 323.7L1299.9 324.3L1301.3 324.7L1302.7 325.2L1304.1 325.7L1305.5 326.5L1306.9 327.4L1308.2 327.8L1309.6 328.1L1311 328.5L1312.4 328.9L1313.8 329.2L1315.2 329.6L1316.6 330L1318 330.4L1319.4 330.8L1320.8 331.2L1322.2 331.7L1323.6 332L1325 332.2L1326.4 332.5L1327.8 332.8L1329.2 333.1L1330.6 333.3L1332 333.6L1333.4 333.8L1334.8 333.9L1336.2 334.1L1337.6 334.2L1339 334.3L1340.4 334.6L1341.7 334.9L1343.1 335.1L1344.5 335.4L1345.9 335.6L1347.3 335.7L1348.7 335.8L1350.1 335.9L1351.5 336.1L1352.9 336.2L1354.3 336.4L1355.7 336.6L1357.1 336.8L1358.5 337.1L1359.9 337.3L1361.3 337.5L1362.7 337.7L1364.1 337.9L1365.5 338.1L1366.9 338.3L1368.3 338.5L1369.7 338.7L1371.1 338.8L1372.5 338.9L1373.9 339L1375.2 339.2L1376.6 339.3L1378 339.4L1379.4 339.5L1380.8 339.7L1382.2 339.8L1383.6 339.9L1385 340L1386.4 340.2L1387.8 340.3L1389.2 340.4L1390.6 340.5L1392 340.6L1393.4 340.7L1394.8 340.8L1396.2 340.9L1397.6 341L1399 341.1L1400.4 341.2L1401.8 341.3L1403.2 341.4L1404.6 341.5L1406 341.5L1407.4 341.6L1408.7 341.7L1410.1 341.8L1411.5 341.9L1412.9 341.9L1414.3 342L1415.7 342.1L1417.1 342.1L1418.5 342.2L1419.9 342.2L1421.3 342.3L1422.7 342.4L1424.1 342.4L1425.5 342.5L1426.9 342.6L1428.3 342.6L1429.7 342.7L1431.1 342.7L1432.5 342.8L1433.9 342.8L1435.3 342.9L1436.7 342.9L1438.1 343L1439.5 343L1440.9 343L1442.2 343.1L1443.6 343.1L1445 343.2L1446.4 343.2L1447.8 343.2L1449.2 343.3L1450.6 343.3L1452 343.3L1453.4 343.4L1454.9 343.4L1456.4 343.5L1457.8 343.5L1459.3 343.5L1460.8 343.6L1462.2 343.6L1463.7 343.6L1465.2 343.7L1466.6 343.7L1468.1 343.8L1469.6 343.8L1471 343.8L1472.5 343.9L1474 343.9L1475.5 344L1476.9 344L1478.4 344L1479.9 344.1L1481.3 344.1L1482.8 344.1L1484.3 344.2L1485.8 344.2L1487.3 344.2L1488.8 344.2L1490.2 344.2L1491.7 344.3L1493.2 344.3L1494.7 344.3L1496.2 344.3L1497.7 344.3L1499.1 344.4L1500.6 344.4L1502.1 344.4L1503.6 344.4L1505.1 344.4L1506.6 344.5L1508.1 344.5L1509.5 344.5L1511 344.5L1512.5 344.6L1514 344.6L1515.5 344.6L1517 344.6L1518.5 344.6L1519.9 344.7L1521.4 344.7L1522.9 344.7L1524.4 344.7L1525.9 344.7L1527.4 344.8L1528.8 344.8L1530.3 344.8L1531.8 344.8L1533.3 344.8L1534.8 344.9L1534.8 345.5L1533.3 345.5L1531.8 345.5L1530.3 345.5L1528.8 345.5L1527.4 345.5L1525.9 345.5L1524.4 345.5L1522.9 345.5L1521.4 345.5L1519.9 345.5L1518.5 345.5L1517 345.5L1515.5 345.5L1514 345.5L1512.5 345.5L1511 345.5L1509.5 345.5L1508.1 345.5L1506.6 345.5L1505.1 345.5L1503.6 345.5L1502.1 345.5L1500.6 345.4L1499.1 345.4L1497.7 345.4L1496.2 345.4L1494.7 345.4L1493.2 345.4L1491.7 345.4L1490.2 345.4L1488.8 345.4L1487.3 345.4L1485.8 345.4L1484.3 345.4L1482.8 345.4L1481.3 345.4L1479.9 345.4L1478.4 345.4L1476.9 345.4L1475.5 345.3L1474 345.3L1472.5 345.3L1471 345.3L1469.6 345.3L1468.1 345.2L1466.6 345.2L1465.2 345.2L1463.7 345.2L1462.2 345.2L1460.8 345.1L1459.3 345.1L1457.8 345.1L1456.4 345.1L1454.9 345.1L1453.4 345L1452 345L1450.6 345L1449.2 345L1447.8 345L1446.4 344.9L1445 344.9L1443.6 344.9L1442.2 344.9L1440.9 344.9L1439.5 344.8L1438.1 344.8L1436.7 344.8L1435.3 344.7L1433.9 344.7L1432.5 344.7L1431.1 344.6L1429.7 344.6L1428.3 344.6L1426.9 344.5L1425.5 344.5L1424.1 344.5L1422.7 344.4L1421.3 344.4L1419.9 344.3L1418.5 344.3L1417.1 344.2L1415.7 344.2L1414.3 344.1L1412.9 344.1L1411.5 344L1410.1 344L1408.7 343.9L1407.4 343.9L1406 343.8L1404.6 343.7L1403.2 343.7L1401.8 343.6L1400.4 343.5L1399 343.4L1397.6 343.3L1396.2 343.3L1394.8 343.2L1393.4 343.1L1392 343L1390.6 342.9L1389.2 342.8L1387.8 342.8L1386.4 342.7L1385 342.6L1383.6 342.5L1382.2 342.3L1380.8 342.2L1379.4 342.1L1378 342L1376.6 341.9L1375.2 341.8L1373.9 341.7L1372.5 341.6L1371.1 341.5L1369.7 341.4L1368.3 341.2L1366.9 341L1365.5 340.8L1364.1 340.7L1362.7 340.5L1361.3 340.3L1359.9 340.1L1358.5 339.9L1357.1 339.7L1355.7 339.5L1354.3 339.3L1352.9 339.1L1351.5 339L1350.1 338.9L1348.7 338.8L1347.3 338.7L1345.9 338.6L1344.5 338.5L1343.1 338.2L1341.7 337.9L1340.4 337.7L1339 337.4L1337.6 337.3L1336.2 337.2L1334.8 337.1L1333.4 337L1332 336.8L1330.6 336.5L1329.2 336.3L1327.8 336.1L1326.4 335.8L1325 335.5L1323.6 335.2L1322.2 335L1320.8 334.6L1319.4 334.2L1318 333.7L1316.6 333.3L1315.2 333L1313.8 332.7L1312.4 332.3L1311 332L1309.6 331.6L1308.2 331.2L1306.9 330.9L1305.5 330.1L1304.1 329.2L1302.7 328.8L1301.3 328.3L1299.9 327.9L1298.5 327.3L1297.1 326.8L1295.7 326.2L1294.3 325.4L1292.9 324.6L1291.5 323.7L1290.3 323.3L1289.2 322.8L1288 322.4L1286.8 322.5L1285.7 322.6L1284.5 322.7L1283.4 322.3L1282.2 322L1281 321.7L1279.8 319.3L1278.7 316.8L1277.4 317.9L1276.1 318.9L1274.7 319.3L1273.4 319.7L1272 318.6L1270.6 317.6L1269.2 318.3L1267.8 319L1266.4 318L1265 317.1L1263.6 317.3L1262.2 317.6L1260.8 317.9L1259.5 318.1L1258.3 318L1257.2 317.8L1256 317.7L1254.9 318.1L1253.7 318.6L1252.6 319L1251.5 317.8L1250.4 316.7L1249.3 315.5L1247.9 315.2L1246.6 315L1245.3 314.8L1244 314.2L1242.7 313.6L1241.4 313.1L1240.1 311.9L1238.8 310.6L1237.5 309.4L1236.2 308.1L1234.9 306.8L1233.6 305.5L1232.2 303.1L1230.7 300.6L1229.2 298.7L1227.8 296.7L1226.3 293.8L1224.8 290.8L1223.6 287.9L1222.3 285.1L1221.1 281.5L1219.9 277.8L1218.8 272.3L1217.6 266.7L1216.6 258.2L1215.6 249.6L1214.9 241L1214.1 233.4L1212.9 233.8L1211.7 236.2L1210.9 240.7L1210.2 245.4L1209.2 247.9L1208.2 247L1207.2 242.3L1206.3 238.8L1205.5 236.5L1204.7 234.2L1203.3 234.7L1202.4 237.9L1201.4 241.1L1200.4 245.8L1199.4 250.8L1198 255.4L1196.5 260.1L1195 265.7L1193.6 271.3L1192.8 271.8L1192 272.3L1191.2 276L1190.5 279.6L1189.5 284.2L1188.6 288.7L1187.5 293.3L1186.3 298L1185.1 300.8L1183.9 303.5L1182.7 304.9L1181.4 306.3L1180.3 307.2L1179.2 308.1L1178.2 309.5L1177.3 310.9L1176.5 313.7L1175.8 316.5L1174.6 316L1173.5 315.5L1172.6 314.5L1171.6 313.6L1170.7 314.8L1169.7 316L1168.3 316.1L1166.9 316.2L1166 315.3L1165 314.3L1164.1 314.7L1163.1 315.2L1162.2 315.8L1161.2 316.5L1160.3 316.7L1159.4 317L1157.9 316L1156.5 315L1155.1 313.1L1153.7 311.1L1152.3 308.7L1150.9 306.3L1149.5 304.4L1148 302.5L1146.8 299.8L1145.6 297.1L1144.5 293.5L1143.3 289.9L1142.4 285.3L1141.4 280.8L1140.7 275.4L1139.9 269.9L1138.6 255.5L1137.7 237.3L1136.9 213.9Z" fill="#1f9d63" fill-opacity="0.5"/>
<path d="M1137.9 232.7L1138.7 251.6L1139.8 264.8L1140.7 270.5L1142.1 279.9L1144.5 289.3L1146.4 295.9L1148.3 300.7L1150.6 305.4L1153 308.2L1155.8 311L1158.7 312.9L1161.5 314.2L1164.3 314.4L1168.1 315.4L1171.9 315.8L1176.6 315.8L1178.5 314.8L1180.4 311L1183.2 310.1L1186 308.2L1188.9 305.4L1191.1 300.7L1192.2 293.1L1195.4 278L1198.2 264.8L1201 251.6L1203.8 240.3L1206.3 229.9L1208.6 228L1210.1 225.2L1212 218.6L1213.8 221.4L1215.2 229L1216.5 240.3L1217.3 243.9L1220.2 263.4L1222.5 279L1225.1 286.8L1228 292.7L1230.9 298.6L1233.9 303.5L1237.8 308.3L1241.7 311.3L1243.5 312.9L1247.2 312.9L1250.1 314.8L1252.7 314L1256.2 314L1259.6 314.9L1261.9 315.6L1263 317L1265.8 316L1269.3 317.4L1273.5 317.7L1279.1 317.4L1284 318.4L1287.5 319.8L1291.6 321.6L1295.8 322.6L1300 323.5L1305.6 324.9L1309.8 327.5L1314 328.9L1318.2 330.2L1322.4 331.4L1327.9 332.8L1333.5 334L1339.1 335L1347.5 336.1L1355.9 337.2L1364.2 338.2L1372.6 339.2L1381 340L1389.4 340.9L1397.7 341.6L1406.1 342.3L1417.3 342.8L1432.6 343.2L1453.6 343.6L1481.5 344.1L1509.4 344.3L1534.9 344.5" fill="none" stroke="#555555" stroke-width="2.6" stroke-linejoin="round" stroke-linecap="round"/>
<path d="M1136.9 208.3L1137.7 232.7L1138.6 251.6L1139.9 266.7L1141.4 278L1143.3 287.5L1145.6 295L1148 300.7L1150.9 304.4L1153.7 309.2L1156.5 312.9L1159.4 314.8L1161.2 314.2L1163.1 312.9L1165 312L1166.9 313.9L1169.7 313.5L1171.6 311L1173.5 312.9L1175.8 313.9L1177.3 308.2L1179.2 305.4L1181.4 303.5L1183.9 300.7L1186.3 295L1188.6 285.6L1190.5 276.1L1192 268.6L1193.6 267.3L1196.5 255.6L1199.4 245.8L1201.4 234.1L1203.3 225.3L1204.7 223.3L1206.3 226.3L1208.2 231.2L1210.2 230.2L1211.7 224.3L1212.9 224.3L1214.1 226.3L1215.6 243.9L1217.6 261.4L1219.9 273.2L1222.3 281L1224.8 286.8L1227.8 292.7L1230.7 296.6L1233.6 301.5L1237.5 305.4L1241.4 309.3L1245.3 311.3L1249.3 312.3L1252.6 316L1256 314.9L1259.5 315.6L1265 314.9L1267.8 317L1270.6 315.6L1273.4 317.7L1276.1 317L1278.7 314.9L1281 319.8L1284.5 320.8L1288 320.5L1291.5 321.9L1295.7 324.4L1299.9 326.1L1304.1 327.5L1306.9 329.1L1311 330.2L1316.6 331.6L1322.2 333.3L1327.8 334.4L1333.4 335.4L1339 335.8L1344.5 336.9L1352.9 337.6L1361.3 338.9L1369.7 340L1378 340.7L1386.4 341.4L1394.8 342L1403.2 342.5L1411.5 343L1425.5 343.5L1439.5 343.9L1453.4 344.2L1481.3 344.8L1534.8 345.2" fill="none" stroke="#1f9d63" stroke-width="2.75" stroke-linejoin="round" stroke-linecap="round"/>
</g>
<g clip-path="url(#c03)">
<path d="M1605.8 230.4L1606.5 249.7L1607.6 263.2L1608.6 268.9L1609.9 278.4L1611.1 283.1L1612.4 287.8L1613.3 291.1L1614.3 294.4L1615.2 296.8L1616.1 299.2L1617.3 301.5L1618.4 303.9L1619.6 305.3L1620.9 306.7L1622.3 308.1L1623.7 309.5L1625.1 310.5L1626.5 311.4L1627.9 312.1L1629.3 312.7L1630.8 312.8L1632.2 312.9L1633.4 313.2L1634.7 313.6L1635.9 313.9L1637.2 314L1638.5 314.1L1639.7 314.3L1640.9 314.3L1642.1 314.3L1643.3 314.3L1644.4 314.3L1645.4 313.8L1646.3 313.3L1647.3 311.4L1648.2 309.5L1649.6 309.1L1651 308.6L1652.5 307.7L1653.9 306.7L1655.3 305.3L1656.7 303.9L1657.8 301.5L1659 299.2L1660.1 291.6L1661.1 286.4L1662.2 281.2L1663.2 275.9L1664.6 269L1666 262.1L1667.5 255.1L1668.9 248.2L1670.3 242.2L1671.7 236.1L1672.9 229.7L1674.2 223.3L1675.3 221.2L1676.4 219L1677.2 216.7L1677.9 214.5L1678.9 210.1L1679.8 205.8L1680.8 209.1L1681.7 213.2L1683 223.5L1684.3 236.1L1685.1 240.5L1686.6 250.6L1688 260.4L1689.2 268.2L1690.4 276L1691.7 279.9L1692.9 283.8L1694.4 286.8L1695.9 289.7L1697.3 292.6L1698.8 295.6L1700.3 298L1701.7 300.8L1703 302.8L1704.3 304.9L1705.6 306.8L1706.9 307.8L1708.2 308.8L1709.5 309.8L1710.4 310.6L1711.3 311.4L1712.6 311.5L1713.8 311.5L1715.1 311.5L1716.5 312.4L1717.9 313.4L1719.3 312.9L1720.6 312.5L1721.7 312.5L1722.9 312.5L1724 312.5L1725.2 312.8L1726.3 313.2L1727.5 313.5L1728.6 313.8L1729.8 314.2L1730.9 315.6L1732.3 315.1L1733.7 314.6L1734.8 315.1L1736 315.6L1737.2 316L1738.6 316.1L1740 316.2L1741.4 316.3L1742.7 316.3L1744.1 316.2L1745.5 316.1L1746.9 316.1L1748.2 316.3L1749.4 316.6L1750.6 316.8L1751.8 317.1L1753 317.5L1754.1 318L1755.3 318.5L1756.7 319.1L1758.1 319.7L1759.5 320.3L1760.9 320.6L1762.3 321L1763.7 321.3L1765.1 321.6L1766.5 322L1767.9 322.3L1769.3 322.7L1770.7 323L1772.1 323.4L1773.5 323.7L1774.9 324.6L1776.2 325.4L1777.6 326.2L1779 326.7L1780.4 327.2L1781.8 327.7L1783.2 328.1L1784.6 328.6L1786 329.1L1787.4 329.4L1788.8 329.8L1790.2 330.2L1791.6 330.6L1793 330.9L1794.4 331.3L1795.8 331.6L1797.2 331.9L1798.6 332.3L1800 332.6L1801.4 332.9L1802.8 333.2L1804.2 333.4L1805.6 333.7L1807 333.9L1808.4 334.1L1809.7 334.3L1811.1 334.5L1812.5 334.7L1813.9 334.9L1815.3 335.1L1816.7 335.2L1818.1 335.4L1819.5 335.6L1820.9 335.8L1822.3 336L1823.7 336.2L1825.1 336.4L1826.5 336.5L1827.9 336.7L1829.3 336.9L1830.7 337L1832.1 337.2L1833.5 337.4L1834.9 337.5L1836.3 337.7L1837.7 337.9L1839.1 338.1L1840.5 338.2L1841.9 338.4L1843.2 338.5L1844.6 338.7L1846 338.8L1847.4 338.9L1848.8 339.1L1850.2 339.2L1851.6 339.4L1853 339.5L1854.4 339.7L1855.8 339.8L1857.2 340L1858.6 340.1L1860 340.2L1861.4 340.3L1862.8 340.5L1864.2 340.6L1865.6 340.7L1867 340.8L1868.4 340.9L1869.8 341.1L1871.2 341.2L1872.6 341.3L1874 341.4L1875.4 341.5L1876.7 341.6L1878.1 341.7L1879.5 341.7L1880.9 341.8L1882.3 341.9L1883.7 342L1885.1 342L1886.5 342.1L1887.9 342.1L1889.3 342.2L1890.7 342.2L1892.1 342.2L1893.5 342.3L1894.9 342.3L1896.3 342.4L1897.7 342.4L1899.1 342.5L1900.5 342.5L1902 342.5L1903.5 342.6L1905 342.6L1906.5 342.7L1908 342.7L1909.4 342.7L1910.9 342.8L1912.4 342.8L1913.9 342.8L1915.4 342.9L1916.9 342.9L1918.4 342.9L1919.9 343L1921.4 343L1922.9 343L1924.4 343.1L1925.8 343.1L1927.3 343.1L1928.8 343.2L1930.2 343.2L1931.7 343.2L1933.2 343.2L1934.6 343.3L1936.1 343.3L1937.6 343.3L1939 343.3L1940.5 343.4L1942 343.4L1943.5 343.4L1944.9 343.5L1946.4 343.5L1947.9 343.5L1949.3 343.5L1950.8 343.6L1952.3 343.6L1953.7 343.6L1955.2 343.6L1956.7 343.6L1958.1 343.7L1959.6 343.7L1961.1 343.7L1962.6 343.7L1964 343.7L1965.5 343.8L1967 343.8L1968.4 343.8L1969.9 343.8L1971.4 343.9L1972.8 343.9L1974.3 343.9L1975.8 343.9L1977.2 343.9L1978.7 343.9L1980.1 344L1981.5 344L1982.9 344L1984.3 344L1985.8 344L1987.2 344L1988.6 344L1990 344.1L1991.4 344.1L1992.9 344.1L1994.3 344.1L1995.7 344.1L1997.1 344.1L1998.5 344.1L2000 344.1L2001.4 344.2L2002.8 344.2L2002.8 344.8L2001.4 344.8L2000 344.8L1998.5 344.8L1997.1 344.8L1995.7 344.8L1994.3 344.8L1992.9 344.8L1991.4 344.8L1990 344.8L1988.6 344.8L1987.2 344.8L1985.8 344.8L1984.3 344.8L1982.9 344.8L1981.5 344.8L1980.1 344.8L1978.7 344.8L1977.2 344.8L1975.8 344.8L1974.3 344.7L1972.8 344.7L1971.4 344.7L1969.9 344.7L1968.4 344.7L1967 344.7L1965.5 344.7L1964 344.7L1962.6 344.7L1961.1 344.7L1959.6 344.7L1958.1 344.6L1956.7 344.6L1955.2 344.6L1953.7 344.6L1952.3 344.6L1950.8 344.6L1949.3 344.6L1947.9 344.6L1946.4 344.6L1944.9 344.5L1943.5 344.5L1942 344.5L1940.5 344.5L1939 344.5L1937.6 344.5L1936.1 344.4L1934.6 344.4L1933.2 344.4L1931.7 344.4L1930.2 344.4L1928.8 344.4L1927.3 344.4L1925.8 344.3L1924.4 344.3L1922.9 344.3L1921.4 344.3L1919.9 344.3L1918.4 344.2L1916.9 344.2L1915.4 344.2L1913.9 344.2L1912.4 344.1L1910.9 344.1L1909.4 344.1L1908 344.1L1906.5 344L1905 344L1903.5 344L1902 344L1900.5 344L1899.1 343.9L1897.7 343.9L1896.3 343.9L1894.9 343.8L1893.5 343.8L1892.1 343.8L1890.7 343.7L1889.3 343.7L1887.9 343.7L1886.5 343.6L1885.1 343.6L1883.7 343.5L1882.3 343.5L1880.9 343.4L1879.5 343.3L1878.1 343.3L1876.7 343.2L1875.4 343.1L1874 343.1L1872.6 343L1871.2 342.9L1869.8 342.7L1868.4 342.6L1867 342.5L1865.6 342.4L1864.2 342.3L1862.8 342.2L1861.4 342.1L1860 342L1858.6 341.9L1857.2 341.8L1855.8 341.6L1854.4 341.5L1853 341.3L1851.6 341.2L1850.2 341.1L1848.8 340.9L1847.4 340.8L1846 340.7L1844.6 340.5L1843.2 340.4L1841.9 340.3L1840.5 340.1L1839.1 340L1837.7 339.8L1836.3 339.7L1834.9 339.5L1833.5 339.4L1832.1 339.2L1830.7 339L1829.3 338.9L1827.9 338.7L1826.5 338.6L1825.1 338.4L1823.7 338.3L1822.3 338.1L1820.9 337.9L1819.5 337.7L1818.1 337.5L1816.7 337.4L1815.3 337.2L1813.9 337L1812.5 336.8L1811.1 336.6L1809.7 336.5L1808.4 336.3L1807 336.1L1805.6 335.9L1804.2 335.6L1802.8 335.4L1801.4 335.1L1800 334.8L1798.6 334.5L1797.2 334.2L1795.8 333.9L1794.4 333.6L1793 333.2L1791.6 332.9L1790.2 332.5L1788.8 332.2L1787.4 331.8L1786 331.4L1784.6 331L1783.2 330.5L1781.8 330L1780.4 329.6L1779 329.1L1777.6 328.7L1776.2 327.8L1774.9 327L1773.5 326.2L1772.1 325.8L1770.7 325.5L1769.3 325.1L1767.9 324.8L1766.5 324.5L1765.1 324.2L1763.7 323.8L1762.3 323.5L1760.9 323.2L1759.5 322.9L1758.1 322.3L1756.7 321.7L1755.3 321.1L1754.1 320.6L1753 320.2L1751.8 319.7L1750.6 319.5L1749.4 319.2L1748.2 319L1746.9 318.7L1745.5 318.8L1744.1 318.9L1742.7 319L1741.4 319L1740 319L1738.6 318.9L1737.2 318.8L1736 318.3L1734.8 317.9L1733.7 317.4L1732.3 317.9L1730.9 318.4L1729.8 317L1728.6 316.6L1727.5 316.3L1726.3 316L1725.2 315.7L1724 315.4L1722.9 315.4L1721.7 315.4L1720.6 315.4L1719.3 315.8L1717.9 316.3L1716.5 315.3L1715.1 314.4L1713.8 314.4L1712.6 314.4L1711.3 314.4L1710.4 313.6L1709.5 312.8L1708.2 311.8L1706.9 310.8L1705.6 309.8L1704.3 308.3L1703 306.8L1701.7 305.3L1700.3 303L1698.8 300.7L1697.3 297.9L1695.9 295L1694.4 292.2L1692.9 289.4L1691.7 285.5L1690.4 281.7L1689.2 274L1688 266.2L1686.6 256.6L1685.1 247.1L1684.3 244.1L1683 233.6L1681.7 227.4L1680.8 227.1L1679.8 226.5L1678.9 229.1L1677.9 231.8L1677.2 232.7L1676.4 233.6L1675.3 233.9L1674.2 234.2L1672.9 238.8L1671.7 243.4L1670.3 248.8L1668.9 254.2L1667.5 260.7L1666 267.1L1664.6 273.5L1663.2 279.9L1662.2 284.8L1661.1 289.7L1660.1 294.6L1659 302.2L1657.8 304.5L1656.7 306.9L1655.3 308.3L1653.9 309.7L1652.5 310.7L1651 311.6L1649.6 312.1L1648.2 312.5L1647.3 314.4L1646.3 316.3L1645.4 316.8L1644.4 317.3L1643.3 317.3L1642.1 317.3L1640.9 317.3L1639.7 317.3L1638.5 317.1L1637.2 317L1635.9 316.9L1634.7 316.6L1633.4 316.2L1632.2 315.9L1630.8 315.8L1629.3 315.7L1627.9 315.1L1626.5 314.4L1625.1 313.5L1623.7 312.5L1622.3 311.1L1620.9 309.7L1619.6 308.3L1618.4 306.9L1617.3 304.5L1616.1 302.2L1615.2 299.8L1614.3 297.4L1613.3 294.1L1612.4 290.8L1611.1 286.1L1609.9 281.4L1608.6 272L1607.6 266.5L1606.5 253.5L1605.8 235Z" fill="#555555" fill-opacity="0.33"/>
<path d="M1604.4 200.1L1604.9 209.5L1606 233L1606.6 249.2L1607.5 256.9L1608.5 264.7L1609.4 269.5L1610.4 274.3L1611.3 278.2L1612.3 282.1L1613.7 285.9L1615.1 289.6L1616.5 292L1617.9 294.3L1619.3 295.7L1620.8 297.1L1622.2 298L1623.6 299L1625 299.9L1626.4 300.8L1627.7 300.9L1628.9 301L1630.2 301.2L1631.6 301.7L1633 302.3L1634.4 302.4L1635.8 302.6L1637.3 302.1L1638.7 301.6L1640.1 300.9L1641.5 300.3L1642.9 299.5L1644.3 298.7L1645.8 297.6L1647.2 296.4L1648.6 296.1L1650 295.8L1650.9 294.6L1651.9 293.1L1652.8 290.6L1653.8 288.1L1654.7 285.2L1655.7 282.2L1656.6 278.8L1657.5 275.4L1658.8 271L1660 266.9L1661 268.3L1662.2 266.3L1663.3 264.3L1664.4 262.9L1665.6 261.4L1666.7 260.6L1667.9 259.7L1669 258.3L1670.2 256.8L1671.3 254.7L1672.5 252.4L1673.4 249.1L1674.3 245.8L1675.1 243.2L1675.9 240.5L1677.1 238.5L1678.2 244L1679.1 250.5L1680 256.9L1680.8 262L1681.6 266.8L1682.4 271L1683.2 275.2L1684.2 279.6L1685.1 284L1686 287.2L1686.9 290.1L1688 293L1689.2 295.9L1690.3 298.2L1691.5 300.5L1692.9 302.2L1694.2 303.9L1695.6 304.9L1697 305.8L1698.5 307.2L1700 308.6L1701.5 309.9L1702.9 311.3L1704.3 312.8L1705.7 314.3L1706.8 315.1L1708 315.9L1709.1 316.7L1710.3 316.9L1711.4 317.1L1712.6 317.4L1713.7 317.9L1714.9 318.5L1716 319L1717.1 319.4L1718.3 319.8L1719.4 320.2L1720.6 320.4L1721.7 320.7L1722.9 320.9L1724 321.2L1725.2 321.5L1726.3 321.8L1727.5 322.1L1728.6 322.3L1729.8 322.6L1730.7 322.9L1731.6 323.2L1733 323.7L1734.4 324.1L1735.8 324.6L1737.2 325.1L1738.6 325.6L1740 325.6L1741.4 325.6L1742.7 325.6L1744.1 325.7L1745.5 326L1746.9 326.4L1748.3 326.7L1749.7 327.1L1751.1 327.3L1752.5 327.5L1753.9 327.7L1755.3 327.8L1756.7 328.4L1758.1 328.9L1759.5 329.4L1760.9 329.9L1762.3 330.4L1763.7 330.6L1765.1 330.8L1766.5 331L1767.9 331.2L1769.3 331.3L1770.7 331.5L1772.1 331.6L1773.5 331.8L1774.9 331.9L1776.2 332.2L1777.6 332.4L1779 332.7L1780.4 333L1781.8 333.2L1783.2 333.5L1784.6 333.7L1786 333.9L1787.4 334.2L1788.8 334.4L1790.2 334.6L1791.6 334.8L1793 335L1794.4 335.2L1795.8 335.4L1797.2 335.6L1798.6 335.7L1800 335.9L1801.4 336L1802.8 336.2L1804.2 336.3L1805.6 336.5L1807 336.6L1808.4 336.8L1809.7 337L1811.1 337.1L1812.5 337.3L1813.9 337.4L1815.3 337.5L1816.7 337.6L1818.1 337.7L1819.5 337.8L1820.9 338L1822.3 338.1L1823.7 338.2L1825.1 338.3L1826.5 338.4L1827.9 338.5L1829.3 338.7L1830.7 338.8L1832.1 338.9L1833.5 339L1834.9 339.1L1836.3 339.2L1837.7 339.3L1839.1 339.4L1840.5 339.5L1841.9 339.6L1843.2 339.7L1844.6 339.8L1846 339.9L1847.4 340L1848.8 340.1L1850.2 340.2L1851.6 340.3L1853 340.4L1854.4 340.5L1855.8 340.6L1857.2 340.7L1858.6 340.8L1860 340.9L1861.4 340.9L1862.8 341L1864.2 341.1L1865.6 341.2L1867 341.3L1868.4 341.4L1869.8 341.4L1871.2 341.5L1872.6 341.5L1874 341.6L1875.4 341.7L1876.7 341.7L1878.1 341.8L1879.5 341.9L1880.9 341.9L1882.3 341.9L1883.7 342L1885.1 342L1886.5 342.1L1887.9 342.1L1889.3 342.1L1890.7 342.2L1892.1 342.2L1893.5 342.3L1895 342.3L1896.4 342.3L1897.9 342.4L1899.4 342.4L1900.8 342.4L1902.3 342.5L1903.8 342.5L1905.3 342.5L1906.7 342.6L1908.2 342.6L1909.7 342.6L1911.1 342.7L1912.6 342.7L1914.1 342.7L1915.5 342.8L1917 342.8L1918.5 342.8L1919.9 342.9L1921.4 342.9L1922.9 342.9L1924.4 343L1925.8 343L1927.3 343L1928.8 343.1L1930.2 343.1L1931.7 343.1L1933.2 343.1L1934.6 343.2L1936.1 343.2L1937.6 343.2L1939 343.2L1940.5 343.3L1942 343.3L1943.5 343.3L1944.9 343.4L1946.4 343.4L1947.9 343.4L1949.3 343.4L1950.8 343.5L1952.3 343.5L1953.7 343.5L1955.2 343.5L1956.7 343.5L1958.1 343.6L1959.6 343.6L1961.1 343.6L1962.6 343.6L1964 343.6L1965.5 343.7L1967 343.7L1968.4 343.7L1969.9 343.7L1971.4 343.7L1972.8 343.7L1974.3 343.8L1975.8 343.8L1977.2 343.8L1978.7 343.8L1980.1 343.8L1981.5 343.8L1982.9 343.9L1984.3 343.9L1985.8 343.9L1987.2 343.9L1988.6 343.9L1990 343.9L1991.4 343.9L1992.9 343.9L1994.3 344L1995.7 344L1997.1 344L1998.5 344L2000 344L2001.4 344L2002.8 344L2002.8 344.7L2001.4 344.7L2000 344.7L1998.5 344.7L1997.1 344.7L1995.7 344.7L1994.3 344.7L1992.9 344.8L1991.4 344.8L1990 344.8L1988.6 344.8L1987.2 344.8L1985.8 344.8L1984.3 344.8L1982.9 344.8L1981.5 344.8L1980.1 344.9L1978.7 344.9L1977.2 344.9L1975.8 344.9L1974.3 344.9L1972.8 344.9L1971.4 344.9L1969.9 344.9L1968.4 344.9L1967 344.9L1965.5 344.9L1964 344.9L1962.6 344.9L1961.1 344.9L1959.6 344.9L1958.1 345L1956.7 345L1955.2 345L1953.7 345L1952.3 345L1950.8 345L1949.3 345L1947.9 345L1946.4 345L1944.9 345L1943.5 345L1942 345L1940.5 345L1939 345L1937.6 345L1936.1 345L1934.6 345L1933.2 345L1931.7 345L1930.2 345L1928.8 344.9L1927.3 344.9L1925.8 344.9L1924.4 344.9L1922.9 344.9L1921.4 344.9L1919.9 344.9L1918.5 344.9L1917 344.9L1915.5 344.9L1914.1 344.9L1912.6 344.9L1911.1 344.9L1909.7 344.9L1908.2 344.9L1906.7 344.8L1905.3 344.8L1903.8 344.8L1902.3 344.8L1900.8 344.8L1899.4 344.8L1897.9 344.8L1896.4 344.8L1895 344.8L1893.5 344.8L1892.1 344.7L1890.7 344.7L1889.3 344.7L1887.9 344.7L1886.5 344.7L1885.1 344.7L1883.7 344.6L1882.3 344.6L1880.9 344.6L1879.5 344.6L1878.1 344.6L1876.7 344.5L1875.4 344.5L1874 344.4L1872.6 344.4L1871.2 344.3L1869.8 344.3L1868.4 344.3L1867 344.2L1865.6 344.2L1864.2 344.1L1862.8 344L1861.4 344L1860 343.9L1858.6 343.9L1857.2 343.8L1855.8 343.7L1854.4 343.7L1853 343.6L1851.6 343.5L1850.2 343.4L1848.8 343.4L1847.4 343.3L1846 343.2L1844.6 343.1L1843.2 343L1841.9 343L1840.5 342.9L1839.1 342.8L1837.7 342.7L1836.3 342.7L1834.9 342.6L1833.5 342.5L1832.1 342.4L1830.7 342.3L1829.3 342.2L1827.9 342.1L1826.5 342L1825.1 341.9L1823.7 341.9L1822.3 341.8L1820.9 341.7L1819.5 341.6L1818.1 341.5L1816.7 341.4L1815.3 341.3L1813.9 341.2L1812.5 341.1L1811.1 341L1809.7 340.9L1808.4 340.7L1807 340.6L1805.6 340.5L1804.2 340.3L1802.8 340.2L1801.4 340.1L1800 340L1798.6 339.8L1797.2 339.7L1795.8 339.6L1794.4 339.4L1793 339.2L1791.6 339L1790.2 338.8L1788.8 338.7L1787.4 338.4L1786 338.2L1784.6 338L1783.2 337.8L1781.8 337.6L1780.4 337.4L1779 337.1L1777.6 336.9L1776.2 336.6L1774.9 336.4L1773.5 336.3L1772.1 336.1L1770.7 336L1769.3 335.9L1767.9 335.8L1766.5 335.6L1765.1 335.4L1763.7 335.3L1762.3 335.1L1760.9 334.6L1759.5 334.1L1758.1 333.6L1756.7 333.2L1755.3 332.7L1753.9 332.5L1752.5 332.3L1751.1 332.2L1749.7 332L1748.3 331.7L1746.9 331.3L1745.5 331L1744.1 330.7L1742.7 330.7L1741.4 330.7L1740 330.7L1738.6 330.7L1737.2 330.2L1735.8 329.8L1734.4 329.3L1733 328.9L1731.6 328.4L1730.7 328.1L1729.8 327.8L1728.6 327.6L1727.5 327.4L1726.3 327.2L1725.2 326.9L1724 326.6L1722.9 326.3L1721.7 326L1720.6 325.8L1719.4 325.6L1718.3 325.2L1717.1 324.9L1716 324.5L1714.9 324L1713.7 323.4L1712.6 322.9L1711.4 322.7L1710.3 322.5L1709.1 322.3L1708 321.5L1706.8 320.8L1705.7 320L1704.3 318.5L1702.9 317L1701.5 315.7L1700 314.3L1698.5 313L1697 311.6L1695.6 310.7L1694.2 309.8L1692.9 308.1L1691.5 306.4L1690.3 304.1L1689.2 301.8L1688 299L1686.9 296.1L1686 293.2L1685.1 290.6L1684.2 287.5L1683.2 284.4L1682.4 281.3L1681.6 278.2L1680.8 274.5L1680 271L1679.1 266.6L1678.2 262.3L1677.1 259.4L1675.9 260.8L1675.1 263L1674.3 265.2L1673.4 267.9L1672.5 270.6L1671.3 272.2L1670.2 273.7L1669 274.8L1667.9 275.8L1666.7 276.3L1665.6 276.8L1664.4 277.8L1663.3 278.9L1662.2 280.5L1661 282.1L1660 280.4L1658.8 284L1657.5 287.3L1656.6 289.7L1655.7 292L1654.7 293.9L1653.8 295.8L1652.8 297.2L1651.9 298.6L1650.9 299.1L1650 299.8L1648.6 300.1L1647.2 300.4L1645.8 301.5L1644.3 302.6L1642.9 303.3L1641.5 304.1L1640.1 304.7L1638.7 305.4L1637.3 305.8L1635.8 306.3L1634.4 306.1L1633 305.9L1631.6 305.3L1630.2 304.7L1628.9 304.6L1627.7 304.4L1626.4 304.3L1625 303.3L1623.6 302.4L1622.2 301.4L1620.8 300.4L1619.3 299L1617.9 297.6L1616.5 295.2L1615.1 292.8L1613.7 289L1612.3 285.3L1611.3 281.6L1610.4 277.9L1609.4 273.3L1608.5 268.7L1607.5 261.4L1606.6 254L1606 238.6L1604.9 216.3L1604.4 207.4Z" fill="#e60012" fill-opacity="0.42"/>
<path d="M1605.8 232.7L1606.5 251.6L1607.6 264.8L1608.6 270.5L1609.9 279.9L1612.4 289.3L1614.3 295.9L1616.1 300.7L1618.4 305.4L1620.9 308.2L1623.7 311L1626.5 312.9L1629.3 314.2L1632.2 314.4L1635.9 315.4L1639.7 315.8L1644.4 315.8L1646.3 314.8L1648.2 311L1651 310.1L1653.9 308.2L1656.7 305.4L1659 300.7L1660.1 293.1L1663.2 278L1666 264.8L1668.9 251.6L1671.7 240.3L1674.2 229.9L1676.4 228L1677.9 225.2L1679.8 218.6L1681.7 221.4L1683 229L1684.3 240.3L1685.1 243.9L1688 263.4L1690.4 279L1692.9 286.8L1695.9 292.7L1698.8 298.6L1701.7 303.5L1705.6 308.3L1709.5 311.3L1711.3 312.9L1715.1 312.9L1717.9 314.8L1720.6 314L1724 314L1727.5 314.9L1729.8 315.6L1730.9 317L1733.7 316L1737.2 317.4L1741.4 317.7L1746.9 317.4L1751.8 318.4L1755.3 319.8L1759.5 321.6L1763.7 322.6L1767.9 323.5L1773.5 324.9L1777.6 327.5L1781.8 328.9L1786 330.2L1790.2 331.4L1795.8 332.8L1801.4 334L1807 335L1815.3 336.1L1823.7 337.2L1832.1 338.2L1840.5 339.2L1848.8 340L1857.2 340.9L1865.6 341.6L1874 342.3L1885.1 342.8L1900.5 343.2L1921.4 343.6L1949.3 344.1L1977.2 344.3L2002.8 344.5" fill="none" stroke="#555555" stroke-width="2.6" stroke-linejoin="round" stroke-linecap="round"/>
<path d="M1604.4 203.7L1604.9 212.9L1606 235.8L1606.6 251.6L1608.5 266.7L1610.4 276.1L1612.3 283.7L1615.1 291.2L1617.9 295.9L1620.8 298.8L1623.6 300.7L1626.4 302.5L1630.2 302.9L1633 304.1L1635.8 304.4L1638.7 303.5L1641.5 302.2L1644.3 300.7L1647.2 298.4L1650 297.8L1651.9 295.9L1653.8 292.2L1655.7 287.5L1657.5 281.8L1660 274.2L1661 275.9L1663.3 272.5L1665.6 270.2L1667.9 269.1L1670.2 266.8L1672.5 263.3L1674.3 257.6L1675.9 253L1677.1 251.4L1678.2 255.3L1680 265.6L1681.6 273.6L1683.2 280.5L1685.1 287.4L1686.9 293.1L1689.2 298.8L1691.5 303.4L1694.2 306.9L1697 308.7L1700 311.4L1702.9 314.2L1705.7 317.2L1709.1 319.5L1712.6 320.1L1716 321.8L1719.4 322.9L1722.9 323.6L1726.3 324.5L1729.8 325.2L1731.6 325.8L1738.6 328.2L1744.1 328.2L1749.7 329.6L1755.3 330.2L1762.3 332.8L1767.9 333.5L1774.9 334.2L1781.8 335.4L1788.8 336.5L1795.8 337.5L1804.2 338.3L1812.5 339.2L1823.7 340L1834.9 340.9L1846 341.6L1857.2 342.3L1868.4 342.8L1879.5 343.2L1893.5 343.5L1921.4 343.9L1949.3 344.2L1977.2 344.3L2002.8 344.3" fill="none" stroke="#e60012" stroke-width="2.75" stroke-linejoin="round" stroke-linecap="round"/>
</g>
<g clip-path="url(#c10)">
<path d="M197.3 424.7L197.8 453.7L199 483.7L200 503.4L201.3 523L202.6 545.1L203.8 551.8L205 558.5L206.2 563.5L207.4 568.6L208.6 571.9L209.8 575.3L211.1 578.6L212.3 582L213.5 584.1L214.7 586.1L215.5 588.7L216.3 591.9L217.1 595.1L218.3 595.5L219.6 595.9L220.4 597.5L221.2 599.1L222.4 599.5L223.6 599.8L224.8 600.6L226 601.4L227.2 603.8L228.4 606.2L229.7 607.4L230.9 608.5L232.1 607.7L233.3 606.9L234.1 605.6L234.9 604.4L236.1 604.8L237.3 605.1L238.6 605.5L239.8 605.8L241 604.5L242.2 603.2L243.4 601.9L244.6 600.6L245.8 598.1L247 595.6L248.3 591.5L249.5 587.4L250.7 581.6L251.9 575.9L252.9 569.7L254 563.3L254.8 560.3L255.6 557.3L256.7 548.4L257.9 527.3L259.2 507.2L260.1 510.5L261.1 519.9L262.2 519.8L263.2 519.8L264.3 523.9L265.3 533.9L266.1 539.4L266.9 543.3L267.9 546.1L268.9 548.8L270.1 551.9L271.3 554.9L272.1 556.6L272.9 558.3L273.7 560L274.5 561.8L275.3 567.5L276.2 571.7L277 575.8L277.8 578.3L278.6 580.7L279.4 582L280.2 583.2L281 585.3L281.8 587.3L282.6 589.8L283.4 592.2L284.2 594.3L285.1 596.4L286 596L287 595.6L288 598.1L289.1 600.5L290.1 602.6L291.2 604.7L292.4 607.6L293.5 609.3L294.7 611.1L295.8 612.9L296.9 614.6L298.1 614.1L299.2 613.6L300.6 614.7L302 615.9L303.5 616.9L305 617.9L306.1 618.5L307.3 619L308.4 619.6L309.5 620L310.7 620.5L311.8 620.9L313.3 620.4L314.8 619.9L316.2 621.1L317.6 622.3L318.7 622.1L319.9 622L321 621.8L322.3 623.2L323.5 624.6L324.9 623.9L326.3 623.2L327.7 624.1L329.1 625.1L330.5 624.9L331.9 624.7L333.3 626.1L334.7 627.5L335.8 627.3L336.8 627.1L337.9 626.9L338.9 627.9L340 628.9L341 630L342.1 630.4L343.3 630.7L344.5 631.1L345.6 630.9L346.8 630.7L348 630.5L349.1 631.4L350.3 632.4L351.4 633.3L352.6 634.2L353.8 635.2L355.1 634.5L356.3 633.8L357.5 634.5L358.7 635.1L359.8 635.8L361 635.7L362.1 635.6L363.3 635.5L364.5 635.5L365.6 635.4L366.8 635.3L368 636L369.1 636.6L370.3 637.3L371.5 638.1L372.6 638.8L373.8 639.6L374.9 639.3L376.1 639.1L377.3 638.8L378.7 639.4L380.1 640L381.5 640.7L382.9 641.1L384.2 641.6L385.6 642.1L387 642.5L388.4 642.8L389.8 643.1L391.2 642.7L392.6 642.2L394 642.8L395.4 643.4L396.8 644.1L398.2 644.4L399.6 644.7L401 645.1L402.4 644.9L403.8 644.8L405.2 644.7L406.6 645.1L408 645.6L409.4 646.1L410.5 646.5L411.7 646.9L412.9 647.2L414.3 647L415.7 646.8L417.1 647.3L418.4 647.8L419.8 648.3L421 648.4L422.2 648.5L423.3 648.7L424.7 649.2L426.1 649.6L427.5 650.1L428.9 650.3L430.3 650.4L431.7 650.6L433.1 650.7L434.5 650.8L435.9 650.9L437.3 651.1L438.7 651.3L440.1 651.6L441.5 651.8L442.9 652L444.3 652.1L445.7 652.3L447.1 652.4L448.5 652.5L449.9 652.7L451.2 652.8L452.6 653L454 653.3L455.4 653.5L456.8 653.8L458.2 653.9L459.6 653.9L461 654L462.4 654.1L463.8 654.2L465.2 654.2L466.6 654.3L468 654.5L469.4 654.6L470.8 654.7L472.2 654.8L473.6 654.9L475 654.9L476.4 655L477.8 655.1L479.2 655.2L480.6 655.2L482 655.3L483.4 655.4L484.7 655.5L486.1 655.5L487.5 655.6L488.9 655.7L490.3 655.7L491.7 655.8L493.1 655.8L494.5 655.9L495.9 655.9L497.3 655.9L498.7 656L500.1 656L501.5 656.1L502.9 656.1L504.3 656.1L505.7 656.2L507.1 656.2L508.5 656.3L509.9 656.3L511.3 656.4L512.7 656.4L514.1 656.5L515.5 656.5L516.9 656.6L518.2 656.6L519.6 656.7L521 656.7L522.4 656.7L523.8 656.8L525.2 656.8L526.6 656.9L528 656.9L529.4 657L530.8 657L532.2 657L533.6 657.1L535 657.1L536.4 657.2L537.8 657.2L539.2 657.2L540.6 657.2L542 657.2L543.4 657.2L544.8 657.2L546.2 657.2L547.6 657.2L549 657.2L550.4 657.2L551.7 657.2L553.1 657.2L554.5 657.2L556 657.2L557.5 657.2L559 657.2L560.5 657.3L562 657.3L563.5 657.3L565 657.4L566.5 657.4L568 657.4L569.5 657.4L571 657.5L572.5 657.5L574 657.5L575.5 657.6L576.9 657.6L578.3 657.6L579.8 657.6L581.2 657.6L582.6 657.6L584 657.5L585.5 657.5L586.9 657.5L588.3 657.5L589.8 657.5L591.2 657.5L592.6 657.5L594 657.5L594 658.2L592.6 658.2L591.2 658.2L589.8 658.2L588.3 658.3L586.9 658.3L585.5 658.3L584 658.3L582.6 658.3L581.2 658.3L579.8 658.4L578.3 658.4L576.9 658.4L575.5 658.4L574 658.4L572.5 658.4L571 658.4L569.5 658.4L568 658.4L566.5 658.4L565 658.3L563.5 658.3L562 658.3L560.5 658.3L559 658.3L557.5 658.3L556 658.3L554.5 658.3L553.1 658.3L551.7 658.3L550.4 658.3L549 658.4L547.6 658.4L546.2 658.4L544.8 658.4L543.4 658.4L542 658.5L540.6 658.5L539.2 658.5L537.8 658.5L536.4 658.5L535 658.5L533.6 658.4L532.2 658.4L530.8 658.4L529.4 658.4L528 658.3L526.6 658.3L525.2 658.3L523.8 658.3L522.4 658.2L521 658.2L519.6 658.2L518.2 658.2L516.9 658.1L515.5 658.1L514.1 658.1L512.7 658L511.3 658L509.9 658L508.5 657.9L507.1 657.9L505.7 657.9L504.3 657.8L502.9 657.8L501.5 657.8L500.1 657.8L498.7 657.8L497.3 657.7L495.9 657.7L494.5 657.7L493.1 657.7L491.7 657.7L490.3 657.6L488.9 657.6L487.5 657.5L486.1 657.5L484.7 657.4L483.4 657.4L482 657.3L480.6 657.2L479.2 657.2L477.8 657.1L476.4 657.1L475 657L473.6 656.9L472.2 656.9L470.8 656.8L469.4 656.7L468 656.6L466.6 656.5L465.2 656.4L463.8 656.4L462.4 656.3L461 656.2L459.6 656.2L458.2 656.1L456.8 656.1L455.4 655.8L454 655.6L452.6 655.4L451.2 655.1L449.9 655L448.5 654.9L447.1 654.8L445.7 654.7L444.3 654.6L442.9 654.4L441.5 654.2L440.1 654.1L438.7 653.8L437.3 653.6L435.9 653.4L434.5 653.3L433.1 653.2L431.7 653.1L430.3 653L428.9 652.9L427.5 652.8L426.1 652.3L424.7 651.8L423.3 651.4L422.2 651.2L421 651.1L419.8 651L418.4 650.5L417.1 650.1L415.7 649.6L414.3 649.8L412.9 650L411.7 649.7L410.5 649.3L409.4 649L408 648.5L406.6 648L405.2 647.6L403.8 647.7L402.4 647.9L401 648L399.6 647.7L398.2 647.4L396.8 647.1L395.4 646.5L394 645.9L392.6 645.3L391.2 645.8L389.8 646.3L388.4 646L387 645.7L385.6 645.4L384.2 645L382.9 644.5L381.5 644.1L380.1 643.5L378.7 642.9L377.3 642.3L376.1 642.6L374.9 642.9L373.8 643.2L372.6 642.4L371.5 641.7L370.3 641L369.1 640.4L368 639.7L366.8 639.1L365.6 639.2L364.5 639.3L363.3 639.4L362.1 639.5L361 639.6L359.8 639.7L358.7 639.1L357.5 638.4L356.3 637.8L355.1 638.5L353.8 639.2L352.6 638.3L351.4 637.5L350.3 636.5L349.1 635.6L348 634.7L346.8 635L345.6 635.2L344.5 635.4L343.3 635.1L342.1 634.7L341 634.4L340 633.4L338.9 632.4L337.9 631.3L336.8 631.6L335.8 631.8L334.7 632.1L333.3 630.7L331.9 629.3L330.5 629.6L329.1 629.8L327.7 628.9L326.3 628L324.9 628.7L323.5 629.4L322.3 628.1L321 626.7L319.9 626.9L318.7 627.1L317.6 627.2L316.2 626.1L314.8 625.1L313.3 625.7L311.8 626.3L310.7 626L309.5 625.6L308.4 625.3L307.3 624.8L306.1 624.3L305 623.8L303.5 623L302 622.1L300.6 621L299.2 619.9L298.1 620.5L296.9 621.1L295.8 619.5L294.7 617.8L293.5 616.1L292.4 614.4L291.2 611.6L290.1 609.6L289.1 607.7L288 605.3L287 602.9L286 603.3L285.1 603.8L284.2 601.8L283.4 599.8L282.6 597.4L281.8 595L281 593L280.2 591L279.4 589.8L278.6 588.6L277.8 586.3L277 583.9L276.2 579.9L275.3 576L274.5 570.4L273.7 568.9L272.9 567.4L272.1 565.9L271.3 564.4L270.1 561.7L268.9 559L267.9 556.5L266.9 554.1L266.1 551.1L265.3 548.8L264.3 542.7L263.2 540.9L262.2 541.3L261.1 541.8L260.1 540.1L259.2 537.8L257.9 541.3L256.7 560.4L255.6 568.3L254.8 570.6L254 572.8L252.9 578.3L251.9 583.8L250.7 589.4L249.5 595L248.3 598.9L247 602.9L245.8 605.2L244.6 607.6L243.4 608.7L242.2 609.9L241 611L239.8 612.1L238.6 611.6L237.3 611.1L236.1 610.7L234.9 610.3L234.1 611.5L233.3 612.7L232.1 613.4L230.9 614.2L229.7 613L228.4 611.7L227.2 609.3L226 606.8L224.8 606L223.6 605.1L222.4 604.7L221.2 604.3L220.4 602.6L219.6 601L218.3 600.6L217.1 600.1L216.3 596.9L215.5 593.7L214.7 591.3L213.5 589.4L212.3 587.4L211.1 584.3L209.8 581.2L208.6 578.1L207.4 574.9L206.2 570.3L205 565.6L203.8 559.3L202.6 553.1L201.3 532.5L200 514.1L199 495.8L197.8 467.8L197.3 440.8Z" fill="#555555" fill-opacity="0.33"/>
<path d="M197.6 408.3L198.6 456.5L199.8 488.6L201 513.6L201.7 523.2L202.9 531.9L204.1 540.5L205.3 549.2L206.6 557.8L207.8 564.7L209 571.7L210.2 575.1L211.4 578.6L212.6 580.3L213.8 582L215 586.4L216.3 590.7L217.5 593.3L218.7 595.9L219.5 597.6L220.3 599.3L221.1 596.8L221.9 594.2L223.1 595.9L224.3 597.5L225.6 599.1L226.8 600.7L228 603.1L229.2 605.5L230.4 606.3L231.6 607L232.8 605.4L234 603.7L235.3 602.9L236.5 602L237.7 602.8L238.9 603.6L240.1 604L241.3 604.3L242.5 603.1L243.8 601.8L244.6 601L245.4 600.2L246.6 600.5L247.8 600.8L249 599.1L250.2 597.5L251.4 596.7L252.6 595.9L253.5 594L254.3 592.1L255.1 590.7L255.9 589.2L256.7 589.7L257.5 590.3L258.3 588.4L259.1 586.5L259.9 585.8L260.7 585.3L261.5 586L262.4 586.8L263.2 586.7L264 586.6L264.8 585.6L265.6 584.7L266.4 582.2L267.2 579.7L268 576.5L268.8 573.4L269.6 569.9L270.8 573.4L272.1 580.1L272.9 581.8L274.1 583.5L275.3 585.2L276.5 586.1L277.7 587.1L278.9 586.3L280.1 580.5L280.9 577.2L281.8 573.9L283 579.4L284.2 589L285.4 595.9L286.6 599.3L287.8 601.8L289 604.3L290.5 606.1L291.9 607.8L293.1 613.2L294.3 614.4L295.4 615.7L296.5 616.9L297.7 618.5L298.8 620.2L300 621.8L301.1 622.3L302.3 622.8L303.4 623.2L304.6 624.3L305.7 625.4L306.9 626.5L308 626.4L309.1 626.2L310.3 626L311.4 627.1L312.6 628.3L313.7 629.5L314.9 630.3L316 631.1L317.2 631.9L318.3 631.5L319.5 631.1L320.6 630.8L321.8 630.9L323 631.1L324.2 631.2L325.6 631.6L327 632L328.4 633.4L329.8 634.8L331.2 635.9L332.6 637L334 636.3L335.4 635.7L336.7 635L338.1 635.7L339.5 636.5L340.9 637.2L342.3 636.9L343.7 636.6L345.1 636.3L346.5 636.6L347.9 636.8L349.3 637L350.7 637.6L352.1 638.2L353.5 638.9L354.9 639.2L356.3 639.5L357.7 639.9L359.1 640.1L360.5 640.2L361.9 640.4L363.3 640.9L364.7 641.3L366.1 641.8L367.5 642.5L368.9 643.1L370.2 643.7L371.6 643.6L373 643.5L374.4 643.5L375.8 643.4L377.2 643.6L378.6 643.9L380 644.1L381.4 644.9L382.8 645.6L384.2 646.3L385.6 646.6L387 646.8L388.4 647.1L389.8 647.4L391.2 647.6L392.6 647.8L394 648L395.4 648.3L396.8 648.4L398.2 648.5L399.6 648.5L401 648.6L402.4 648.9L403.7 649.2L405.1 649.5L406.5 649.8L407.9 649.8L409.3 649.7L410.7 649.6L412.1 649.5L413.5 649.7L414.9 649.9L416.3 650.1L417.7 650.3L419.1 650.5L420.5 650.8L421.9 651L423.3 651.3L424.7 651.5L426.1 651.6L427.5 651.8L428.9 651.9L430.3 652L431.7 652.2L433.1 652.4L434.5 652.5L435.9 652.7L437.2 652.9L438.6 653.1L440 653.2L441.4 653.4L442.8 653.5L444.2 653.6L445.6 653.8L447 654L448.4 654.1L449.8 654.3L451.2 654.5L452.6 654.7L454 654.8L455.4 655L456.8 655.1L458.2 655.3L459.6 655.4L461 655.5L462.4 655.6L463.8 655.6L465.2 655.7L466.6 655.8L468 655.8L469.4 655.9L470.7 656L472.1 656L473.5 656.1L474.9 656.2L476.3 656.3L477.7 656.3L479.1 656.4L480.5 656.5L481.9 656.6L483.3 656.7L484.7 656.8L486.1 656.8L487.5 656.9L488.9 656.9L490.3 657L491.7 657L493.1 657L494.5 657L495.9 657.1L497.3 657.1L498.7 657.1L500.1 657.1L501.5 657.2L502.9 657.2L504.2 657.2L505.6 657.2L507 657.3L508.4 657.3L509.8 657.3L511.2 657.3L512.6 657.4L514 657.4L515.4 657.4L516.8 657.5L518.2 657.5L519.6 657.5L521 657.6L522.4 657.6L523.8 657.6L525.2 657.7L526.6 657.7L528 657.8L529.4 657.8L530.8 657.8L532.2 657.9L533.6 657.9L535 658L536.4 658L537.7 658L539.1 658.1L540.5 658.1L541.9 658.2L543.3 658.2L544.8 658.2L546.3 658.2L547.7 658.2L549.2 658.2L550.7 658.2L552.1 658.2L553.6 658.2L555.1 658.2L556.6 658.2L558 658.2L559.5 658.2L561 658.2L562.4 658.3L563.9 658.3L565.4 658.3L566.8 658.3L568.3 658.3L569.8 658.3L571.2 658.3L572.7 658.3L574.1 658.3L575.5 658.3L576.9 658.3L578.4 658.3L579.8 658.3L581.2 658.3L582.6 658.3L584 658.3L585.5 658.3L586.9 658.3L588.3 658.3L589.7 658.3L591.2 658.3L592.6 658.3L594 658.3L594 659L592.6 659L591.2 659L589.7 659L588.3 659.1L586.9 659.1L585.5 659.1L584 659.1L582.6 659.1L581.2 659.2L579.8 659.2L578.4 659.2L576.9 659.2L575.5 659.2L574.1 659.3L572.7 659.3L571.2 659.3L569.8 659.3L568.3 659.3L566.8 659.4L565.4 659.4L563.9 659.4L562.4 659.4L561 659.4L559.5 659.4L558 659.5L556.6 659.5L555.1 659.5L553.6 659.5L552.1 659.5L550.7 659.6L549.2 659.6L547.7 659.6L546.3 659.6L544.8 659.6L543.3 659.7L541.9 659.6L540.5 659.6L539.1 659.6L537.7 659.6L536.4 659.6L535 659.6L533.6 659.5L532.2 659.5L530.8 659.5L529.4 659.5L528 659.5L526.6 659.5L525.2 659.4L523.8 659.4L522.4 659.4L521 659.4L519.6 659.4L518.2 659.4L516.8 659.3L515.4 659.3L514 659.3L512.6 659.3L511.2 659.3L509.8 659.3L508.4 659.3L507 659.3L505.6 659.3L504.2 659.3L502.9 659.3L501.5 659.3L500.1 659.3L498.7 659.3L497.3 659.3L495.9 659.3L494.5 659.3L493.1 659.3L491.7 659.3L490.3 659.3L488.9 659.3L487.5 659.3L486.1 659.2L484.7 659.2L483.3 659.1L481.9 659L480.5 659L479.1 658.9L477.7 658.9L476.3 658.8L474.9 658.7L473.5 658.7L472.1 658.6L470.7 658.6L469.4 658.5L468 658.5L466.6 658.5L465.2 658.4L463.8 658.4L462.4 658.3L461 658.3L459.6 658.2L458.2 658.1L456.8 658L455.4 657.9L454 657.7L452.6 657.6L451.2 657.4L449.8 657.3L448.4 657.1L447 657L445.6 656.8L444.2 656.7L442.8 656.6L441.4 656.6L440 656.5L438.6 656.4L437.2 656.2L435.9 656.1L434.5 655.9L433.1 655.8L431.7 655.6L430.3 655.5L428.9 655.5L427.5 655.4L426.1 655.3L424.7 655.2L423.3 655L421.9 654.8L420.5 654.6L419.1 654.4L417.7 654.2L416.3 654L414.9 653.9L413.5 653.7L412.1 653.6L410.7 653.7L409.3 653.8L407.9 653.9L406.5 654.1L405.1 653.8L403.7 653.5L402.4 653.3L401 653L399.6 653L398.2 652.9L396.8 652.9L395.4 652.8L394 652.6L392.6 652.5L391.2 652.3L389.8 652.1L388.4 651.9L387 651.6L385.6 651.4L384.2 651.2L382.8 650.5L381.4 649.8L380 649.2L378.6 648.9L377.2 648.7L375.8 648.5L374.4 648.6L373 648.8L371.6 648.9L370.2 649L368.9 648.4L367.5 647.9L366.1 647.3L364.7 646.8L363.3 646.4L361.9 645.9L360.5 645.8L359.1 645.7L357.7 645.6L356.3 645.3L354.9 645L353.5 644.7L352.1 644.1L350.7 643.5L349.3 642.9L347.9 642.7L346.5 642.6L345.1 642.4L343.7 642.8L342.3 643.2L340.9 643.5L339.5 642.9L338.1 642.2L336.7 641.5L335.4 642.3L334 643L332.6 643.7L331.2 642.7L329.8 641.7L328.4 640.3L327 639L325.6 638.7L324.2 638.4L323 638.3L321.8 638.2L320.6 638.1L319.5 638.5L318.3 638.9L317.2 639.4L316 638.6L314.9 637.9L313.7 637.2L312.6 636L311.4 634.9L310.3 633.8L309.1 634.1L308 634.3L306.9 634.6L305.7 633.7L304.6 632.8L303.4 631.9L302.3 631.7L301.1 631.4L300 631.1L298.8 629.7L297.7 628.2L296.5 626.8L295.4 625.8L294.3 624.7L293.1 623.7L291.9 618.6L290.5 617.1L289 615.6L287.8 613.3L286.6 611L285.4 607.8L284.2 604.7L283 602.2L281.8 599.7L280.9 597.8L280.1 595.9L278.9 596.4L277.7 597.3L276.5 596.6L275.3 595.9L274.1 594.4L272.9 592.9L272.1 591.3L270.8 585.1L269.6 582.1L268.8 585.1L268 588.4L267.2 591.7L266.4 594.4L265.6 597.2L264.8 598.3L264 599.4L263.2 599.7L262.4 600L261.5 599.5L260.7 599L259.9 599.7L259.1 600.4L258.3 602L257.5 603.7L256.7 602.8L255.9 602L255.1 603.2L254.3 604.5L253.5 606.1L252.6 607.7L251.4 608.1L250.2 608.5L249 609.7L247.8 610.9L246.6 610.5L245.4 610.1L244.6 610.9L243.8 611.6L242.5 612.8L241.3 614L240.1 613.6L238.9 613.1L237.7 612.3L236.5 611.4L235.3 612.2L234 613L232.8 614.6L231.6 616.1L230.4 615.3L229.2 614.5L228 612L226.8 609.5L225.6 607.9L224.3 606.2L223.1 604.7L221.9 603.1L221.1 605.4L220.3 607.7L219.5 606.2L218.7 604.7L217.5 602.4L216.3 600.1L215 596.4L213.8 592.6L212.6 591.1L211.4 589.6L210.2 586.6L209 583.6L207.8 577.6L206.6 571.6L205.3 564L204.1 556.5L202.9 549L201.7 541.5L201 533.1L199.8 511.4L198.6 483.5L197.6 441.7Z" fill="#d2d2d2" fill-opacity="0.5"/>
<path d="M197.3 432.8L197.8 460.8L199 489.8L200 508.8L201.3 527.8L202.6 549.1L205 562.1L207.4 571.8L209.8 578.2L212.3 584.7L214.7 588.7L215.5 591.2L217.1 597.6L219.6 598.4L221.2 601.7L223.6 602.5L226 604.1L228.4 609L230.9 611.4L233.3 609.8L234.9 607.3L237.3 608.1L239.8 609L242.2 606.5L244.6 604.1L247 599.3L249.5 591.2L251.9 579.8L254 568.5L255.6 563.7L256.7 555.6L257.9 536.2L259.2 530.5L261.1 533.8L263.2 532.9L264.3 535.4L265.3 542.6L266.9 549.1L268.9 554L271.3 559.6L272.9 562.9L274.5 566.1L275.3 571.8L277 579.8L278.6 584.7L280.2 587.1L281.8 591.2L283.4 596L285.1 600.1L287 599.3L289.1 604.1L291.2 608.1L292.4 611L294.7 614.4L296.9 617.9L299.2 616.7L302 619L305 620.9L308.4 622.5L311.8 623.6L314.8 622.5L317.6 624.7L321 624.3L323.5 627L326.3 625.6L329.1 627.4L331.9 627L334.7 629.8L337.9 629.1L341 632.2L344.5 633.3L348 632.6L351.4 635.4L353.8 637.2L356.3 635.8L359.8 637.8L363.3 637.5L366.8 637.2L370.3 639.1L373.8 641.4L377.3 640.5L381.5 642.4L385.6 643.8L389.8 644.7L392.6 643.8L396.8 645.6L401 646.5L405.2 646.1L409.4 647.5L412.9 648.6L415.7 648.2L419.8 649.6L423.3 650L427.5 651.4L431.7 651.9L435.9 652.1L440.1 652.8L445.7 653.5L451.2 653.9L456.8 654.9L465.2 655.3L473.6 655.9L482 656.3L491.7 656.7L505.7 657L519.6 657.4L537.8 657.9L554.5 657.7L575.5 658L594 657.9" fill="none" stroke="#555555" stroke-width="2.6" stroke-linejoin="round" stroke-linecap="round"/>
<path d="M197.6 425L198.6 470L199.8 500L201 523.3L201.7 532.3L204.1 548.5L206.6 564.7L209 577.6L211.4 584.1L213.8 587.3L216.3 595.4L218.7 600.3L220.3 603.5L221.9 598.7L224.3 601.9L226.8 605.1L229.2 610L231.6 611.6L234 608.4L236.5 606.7L238.9 608.4L241.3 609.2L243.8 606.7L245.4 605.1L247.8 605.9L250.2 603.5L252.6 602.7L254.3 599.5L255.9 597L257.5 598.7L259.1 595.4L260.7 593.8L262.4 594.6L264 593.8L265.6 591.4L267.2 585.7L268.8 579.2L269.6 576L270.8 579.2L272.1 585.7L272.9 587.3L275.3 590.6L277.7 592.2L280.1 590.6L281.8 593.8L284.2 598.7L286.6 605.1L289 610L291.9 613.2L293.1 618.4L296.5 621.9L300 626.4L303.4 627.6L306.9 630.6L310.3 629.9L313.7 633.3L317.2 635.6L320.6 634.5L324.2 634.8L327 635.5L329.8 638.3L332.6 640.4L336.7 638.3L340.9 640.4L345.1 639.4L349.3 639.9L353.5 641.8L357.7 642.7L361.9 643.2L366.1 644.6L370.2 646.4L375.8 645.9L380 646.6L384.2 648.7L389.8 649.7L395.4 650.6L401 650.8L406.5 651.9L412.1 651.5L417.7 652.2L424.7 653.3L431.7 653.9L438.6 654.7L445.6 655.3L452.6 656.1L459.6 656.8L473.5 657.4L487.5 658.1L501.5 658.2L515.4 658.4L529.4 658.6L543.3 658.9L571.2 658.8L594 658.6" fill="none" stroke="#d2d2d2" stroke-width="2.5" stroke-linejoin="round" stroke-linecap="round"/>
</g>
<g clip-path="url(#c11)">
<path d="M669.7 424.7L670.2 453.7L671.4 483.7L672.4 503.4L673.7 523.1L675 545.2L676.2 551.9L677.4 558.6L678.6 563.6L679.8 568.6L681 572L682.2 575.3L683.5 578.7L684.7 582L685.9 584.1L687.1 586.2L687.9 588.7L688.7 592L689.5 595.2L690.7 595.6L692 595.9L692.8 597.5L693.6 599.1L694.8 599.5L696 599.9L697.2 600.7L698.4 601.4L699.6 603.8L700.8 606.2L702.1 607.4L703.3 608.6L704.5 607.8L705.7 606.9L706.5 605.7L707.3 604.4L708.5 604.8L709.7 605.2L711 605.5L712.2 605.8L713.4 604.5L714.6 603.3L715.8 602L717 600.7L718.2 598.2L719.4 595.7L720.7 591.5L721.9 587.4L723.1 581.7L724.3 575.9L725.3 569.8L726.4 563.3L727.2 560.3L728 557.3L729.1 548.4L730.3 527.3L731.6 507.3L732.5 510.5L733.5 519.9L734.6 519.9L735.6 519.8L736.7 524L737.7 534L738.5 539.5L739.3 543.4L740.3 546.1L741.3 548.9L742.5 551.9L743.7 554.9L744.5 556.6L745.3 558.4L746.1 560.1L746.9 561.8L747.7 567.6L748.6 571.7L749.4 575.9L750.2 578.3L751 580.8L751.8 582L752.6 583.3L753.4 585.3L754.2 587.4L755 589.8L755.8 592.3L756.6 594.3L757.5 596.4L758.4 596L759.4 595.7L760.4 598.1L761.5 600.6L762.5 602.7L763.6 604.7L764.8 607.6L765.9 609.4L767.1 611.1L768.2 612.9L769.3 614.7L770.5 614.1L771.6 613.6L773 614.8L774.4 616L775.9 617L777.4 617.9L778.5 618.5L779.7 619.1L780.8 619.7L781.9 620.1L783.1 620.5L784.2 620.9L785.7 620.4L787.2 619.9L788.6 621.1L790 622.3L791.1 622.2L792.3 622L793.4 621.9L794.7 623.3L795.9 624.6L797.3 624L798.7 623.3L800.1 624.2L801.5 625.1L802.9 624.9L804.3 624.7L805.7 626.2L807.1 627.6L808.2 627.3L809.2 627.1L810.3 626.9L811.3 627.9L812.4 629L813.4 630L814.5 630.4L815.7 630.8L816.9 631.2L818 631L819.2 630.7L820.4 630.5L821.5 631.5L822.7 632.4L823.8 633.4L825 634.3L826.2 635.2L827.5 634.5L828.7 633.8L829.9 634.5L831.1 635.2L832.2 635.8L833.4 635.8L834.5 635.7L835.7 635.6L836.9 635.5L838 635.4L839.2 635.4L840.4 636L841.5 636.7L842.7 637.4L843.9 638.1L845 638.9L846.2 639.6L847.3 639.4L848.5 639.1L849.7 638.8L851.1 639.5L852.5 640.1L853.9 640.7L855.3 641.2L856.6 641.7L858 642.2L859.4 642.5L860.8 642.8L862.2 643.2L863.6 642.7L865 642.2L866.4 642.9L867.8 643.5L869.2 644.1L870.6 644.5L872 644.8L873.4 645.1L874.8 645L876.2 644.9L877.6 644.7L879 645.2L880.4 645.7L881.8 646.1L882.9 646.5L884.1 646.9L885.3 647.3L886.7 647.1L888.1 646.9L889.5 647.4L890.8 647.8L892.2 648.3L893.4 648.4L894.6 648.6L895.7 648.7L897.1 649.2L898.5 649.7L899.9 650.2L901.3 650.3L902.7 650.5L904.1 650.6L905.5 650.7L906.9 650.8L908.3 650.9L909.7 651.2L911.1 651.4L912.5 651.6L913.9 651.8L915.3 652L916.7 652.2L918.1 652.4L919.5 652.5L920.9 652.6L922.3 652.7L923.6 652.8L925 653.1L926.4 653.3L927.8 653.6L929.2 653.8L930.6 653.9L932 654L933.4 654.1L934.8 654.1L936.2 654.2L937.6 654.3L939 654.4L940.4 654.5L941.8 654.6L943.2 654.7L944.6 654.8L946 654.9L947.4 655L948.8 655.1L950.2 655.1L951.6 655.2L953 655.3L954.4 655.4L955.8 655.4L957.1 655.5L958.5 655.6L959.9 655.6L961.3 655.7L962.7 655.8L964.1 655.9L965.5 655.9L966.9 655.9L968.3 656L969.7 656L971.1 656L972.5 656.1L973.9 656.1L975.3 656.1L976.7 656.2L978.1 656.2L979.5 656.3L980.9 656.3L982.3 656.4L983.7 656.4L985.1 656.5L986.5 656.5L987.9 656.6L989.3 656.6L990.6 656.7L992 656.7L993.4 656.8L994.8 656.8L996.2 656.8L997.6 656.9L999 656.9L1000.4 657L1001.8 657L1003.2 657L1004.6 657.1L1006 657.1L1007.4 657.2L1008.8 657.2L1010.2 657.2L1011.6 657.2L1013 657.2L1014.4 657.2L1015.8 657.2L1017.2 657.2L1018.6 657.2L1020 657.2L1021.4 657.2L1022.8 657.2L1024.1 657.2L1025.5 657.2L1026.9 657.2L1028.4 657.2L1029.9 657.3L1031.4 657.3L1032.9 657.3L1034.4 657.4L1035.9 657.4L1037.4 657.4L1038.9 657.4L1040.4 657.5L1041.9 657.5L1043.4 657.5L1044.9 657.6L1046.4 657.6L1047.9 657.6L1049.3 657.6L1050.7 657.6L1052.2 657.6L1053.6 657.6L1055 657.6L1056.4 657.6L1057.9 657.6L1059.3 657.6L1060.7 657.6L1062.2 657.6L1063.6 657.6L1065 657.6L1066.4 657.6L1066.4 658.2L1065 658.2L1063.6 658.3L1062.2 658.3L1060.7 658.3L1059.3 658.3L1057.9 658.3L1056.4 658.4L1055 658.4L1053.6 658.4L1052.2 658.4L1050.7 658.4L1049.3 658.5L1047.9 658.5L1046.4 658.5L1044.9 658.5L1043.4 658.4L1041.9 658.4L1040.4 658.4L1038.9 658.4L1037.4 658.4L1035.9 658.4L1034.4 658.4L1032.9 658.4L1031.4 658.4L1029.9 658.3L1028.4 658.3L1026.9 658.3L1025.5 658.3L1024.1 658.4L1022.8 658.4L1021.4 658.4L1020 658.4L1018.6 658.4L1017.2 658.5L1015.8 658.5L1014.4 658.5L1013 658.5L1011.6 658.5L1010.2 658.6L1008.8 658.5L1007.4 658.5L1006 658.5L1004.6 658.5L1003.2 658.4L1001.8 658.4L1000.4 658.4L999 658.4L997.6 658.3L996.2 658.3L994.8 658.3L993.4 658.3L992 658.3L990.6 658.2L989.3 658.2L987.9 658.1L986.5 658.1L985.1 658.1L983.7 658L982.3 658L980.9 658L979.5 657.9L978.1 657.9L976.7 657.9L975.3 657.9L973.9 657.9L972.5 657.8L971.1 657.8L969.7 657.8L968.3 657.8L966.9 657.8L965.5 657.7L964.1 657.7L962.7 657.7L961.3 657.6L959.9 657.6L958.5 657.5L957.1 657.5L955.8 657.4L954.4 657.4L953 657.3L951.6 657.2L950.2 657.2L948.8 657.1L947.4 657.1L946 657L944.6 656.9L943.2 656.8L941.8 656.7L940.4 656.7L939 656.6L937.6 656.5L936.2 656.4L934.8 656.4L933.4 656.3L932 656.2L930.6 656.2L929.2 656.1L927.8 655.9L926.4 655.6L925 655.4L923.6 655.2L922.3 655.1L920.9 655L919.5 654.9L918.1 654.8L916.7 654.6L915.3 654.5L913.9 654.3L912.5 654.1L911.1 653.9L909.7 653.7L908.3 653.4L906.9 653.4L905.5 653.3L904.1 653.2L902.7 653.1L901.3 652.9L899.9 652.8L898.5 652.3L897.1 651.9L895.7 651.4L894.6 651.3L893.4 651.2L892.2 651L890.8 650.6L889.5 650.1L888.1 649.7L886.7 649.9L885.3 650.1L884.1 649.7L882.9 649.4L881.8 649L880.4 648.5L879 648.1L877.6 647.6L876.2 647.8L874.8 647.9L873.4 648.1L872 647.8L870.6 647.4L869.2 647.1L867.8 646.5L866.4 646L865 645.4L863.6 645.9L862.2 646.4L860.8 646.1L859.4 645.8L858 645.5L856.6 645L855.3 644.6L853.9 644.1L852.5 643.5L851.1 642.9L849.7 642.3L848.5 642.6L847.3 642.9L846.2 643.2L845 642.5L843.9 641.8L842.7 641L841.5 640.4L840.4 639.8L839.2 639.1L838 639.2L836.9 639.3L835.7 639.4L834.5 639.6L833.4 639.7L832.2 639.8L831.1 639.1L829.9 638.5L828.7 637.9L827.5 638.6L826.2 639.3L825 638.4L823.8 637.5L822.7 636.6L821.5 635.7L820.4 634.8L819.2 635L818 635.3L816.9 635.5L815.7 635.1L814.5 634.8L813.4 634.4L812.4 633.4L811.3 632.4L810.3 631.4L809.2 631.6L808.2 631.9L807.1 632.1L805.7 630.8L804.3 629.4L802.9 629.6L801.5 629.8L800.1 628.9L798.7 628L797.3 628.8L795.9 629.5L794.7 628.1L793.4 626.8L792.3 627L791.1 627.1L790 627.3L788.6 626.2L787.2 625.1L785.7 625.7L784.2 626.4L783.1 626L781.9 625.7L780.8 625.3L779.7 624.8L778.5 624.4L777.4 623.9L775.9 623L774.4 622.1L773 621.1L771.6 620L770.5 620.6L769.3 621.2L768.2 619.5L767.1 617.8L765.9 616.2L764.8 614.5L763.6 611.7L762.5 609.7L761.5 607.7L760.4 605.3L759.4 602.9L758.4 603.4L757.5 603.8L756.6 601.8L755.8 599.8L755 597.4L754.2 595L753.4 593.1L752.6 591.1L751.8 589.9L751 588.7L750.2 586.3L749.4 583.9L748.6 580L747.7 576.1L746.9 570.5L746.1 569L745.3 567.5L744.5 565.9L743.7 564.4L742.5 561.8L741.3 559L740.3 556.6L739.3 554.2L738.5 551.1L737.7 548.9L736.7 542.8L735.6 541L734.6 541.4L733.5 541.8L732.5 540.2L731.6 537.9L730.3 541.4L729.1 560.4L728 568.3L727.2 570.6L726.4 572.9L725.3 578.4L724.3 583.9L723.1 589.4L721.9 595L720.7 599L719.4 603L718.2 605.3L717 607.6L715.8 608.8L714.6 609.9L713.4 611L712.2 612.2L711 611.7L709.7 611.2L708.5 610.8L707.3 610.3L706.5 611.5L705.7 612.7L704.5 613.5L703.3 614.3L702.1 613L700.8 611.8L699.6 609.3L698.4 606.9L697.2 606L696 605.2L694.8 604.8L693.6 604.3L692.8 602.7L692 601L690.7 600.6L689.5 600.2L688.7 596.9L687.9 593.7L687.1 591.4L685.9 589.4L684.7 587.5L683.5 584.4L682.2 581.2L681 578.1L679.8 575L678.6 570.3L677.4 565.6L676.2 559.4L675 553.1L673.7 532.5L672.4 514.2L671.4 495.9L670.2 467.9L669.7 440.9Z" fill="#555555" fill-opacity="0.33"/>
<path d="M669.8 377.9L670.6 417.8L671.4 466.4L672.1 504.4L672.9 513.2L673.7 521.9L674.7 530.6L675.6 539.4L676.7 545.5L677.7 551.6L679 556L680.2 560.3L681.4 562.9L682.6 563.9L683.8 564L685 564.1L685.8 556.9L686.6 550.5L687.5 552.7L688.3 554.9L689.1 567.6L689.9 579.5L690.7 582.9L691.5 586.2L692.7 587L693.9 587.8L695.1 589.4L696.3 591L697.6 592.7L698.8 594.3L699.6 597.5L700.4 600.7L701.2 597.1L702 593.5L702.8 593.9L703.6 594.3L704.8 595.9L706 597.5L707.3 596.7L708.5 595.9L709.7 595.5L710.9 594.4L711.7 592.7L712.5 591L713.3 588.1L714.1 585.1L714.9 582.2L715.8 579.3L717 577.8L718.2 576.2L719 572.5L719.8 568L720.6 553L721.4 538L722.5 508.9L723.5 492.6L724.5 491.3L725.5 490L726.7 484.6L727.9 477.9L728.7 473.8L729.5 470.7L730.6 459.8L731.9 461.7L732.7 464.6L733.5 468.1L734.4 473L735.2 477.9L736 485.3L736.8 497.5L737.6 511.5L738.4 517.8L739.2 519.3L740 520.7L740.8 520.8L741.6 524.4L742.4 530.5L743.2 536.4L744.1 542.2L744.9 547.9L745.7 552.1L746.5 556.2L747.3 558.7L748.1 559.7L749.3 557L750.5 556.5L751.3 557L752.1 557.6L752.9 566.3L753.8 570.9L754.6 575.5L755.8 574.7L757 573.5L757.8 575.1L758.6 576.6L759.8 577.5L761 578.4L762.5 579.4L763.9 580.8L764.7 587.3L765.8 593.3L766.9 599.3L768.1 601.2L769.2 603.2L770.6 602.1L772 600.6L773.1 600.6L774.3 600.7L775.4 600.7L776.6 602.7L777.7 604.6L778.9 606.6L780.2 605.6L781.6 604.6L783.1 602.5L784.6 600.3L786.1 601.6L787.6 602.9L788.9 600.2L790.3 597.7L791.7 600.3L793.1 602.8L794 602.8L794.9 602.8L796.3 604.8L797.7 606.7L799.1 608.2L800.5 609.4L801.9 610.9L803.3 612.4L804.4 612.7L805.6 613L806.7 613.3L808.1 612.7L809.4 612.1L810.7 611.5L811.7 612.7L812.7 613.9L813.7 615.2L815.1 616.3L816.5 617.4L817.9 619.3L819.3 621.1L820.5 622.3L821.6 623.6L822.8 624.8L823.9 623.5L824.9 622.2L826 620.9L827.2 623.7L828.4 626.6L829.8 628.1L831.2 629.6L832.3 629.3L833.5 628.9L834.7 628.6L835.8 628.5L837 628.3L838.2 628.2L839.3 628.8L840.5 629.4L841.6 630L842.8 630.8L844 631.6L845.1 632.4L846.3 631.6L847.5 630.8L848.6 630L849.7 631.8L850.7 633.6L851.9 634.1L853 634.7L854.2 635.2L855.6 635.4L857 635.6L858.4 635.8L859.8 637.1L861.2 638.3L862.6 639.1L864 639.9L865.4 640.6L866.8 640.9L868.2 641.2L869.6 641.5L871 641.4L872.4 641.2L873.7 641.1L874.9 641.6L876.1 642.1L877.2 642.6L878.4 643.8L879.6 645.1L880.7 646.3L881.9 645.7L883.1 645L884.2 644.4L885.4 644.9L886.5 645.4L887.7 645.9L889.1 646.5L890.5 647L891.9 647.5L893.1 648.4L894.2 649.3L895.4 650.3L896.4 649.2L897.5 648.2L898.9 649.3L900.3 650.3L901.3 649.5L902.4 648.7L903.5 649.2L904.7 649.8L905.9 650.4L907.2 650.8L908.6 651.2L910 651.5L911.4 651.8L912.8 652.1L914.2 652.3L915.6 652.6L917 652.7L918.4 652.9L919.8 653L921.2 653.2L922.6 653.3L924 653.5L925.4 653.6L926.8 653.8L928.2 653.9L929.6 654.1L931 654.1L932.4 654.2L933.8 654.2L935.2 654.3L936.6 654.3L938 654.4L939.4 654.4L940.7 654.5L942.1 654.6L943.5 654.6L944.9 654.8L946.3 654.9L947.7 655L949.1 655.1L950.5 655.3L951.9 655.3L953.3 655.4L954.7 655.4L956.1 655.4L957.5 655.5L958.9 655.5L960.3 655.4L961.7 655.4L963.1 655.4L964.5 655.4L965.9 655.5L967.3 655.7L968.7 655.8L970.1 655.9L971.5 656.1L972.9 656.2L974.2 656.3L975.6 656.4L977 656.4L978.4 656.5L979.8 656.5L981.2 656.6L982.6 656.6L984 656.7L985.4 656.7L986.8 656.8L988.2 656.8L989.6 656.8L991 656.9L992.4 656.9L993.8 657L995.2 657L996.6 657L998 657.1L999.4 657.1L1000.8 657.2L1002.2 657.4L1003.6 657.5L1005 657.6L1006.4 657.7L1007.7 657.8L1009.1 658L1010.5 658.1L1011.9 658L1013.3 658L1014.7 657.9L1016.1 657.9L1017.5 657.8L1018.9 657.8L1020.3 657.7L1021.7 657.8L1023.1 657.9L1024.5 657.9L1025.9 658L1027.3 658L1028.7 658.1L1030.1 658.1L1031.5 658.2L1032.9 658.2L1034.3 658.3L1035.7 658.3L1037.1 658.3L1038.5 658.3L1039.9 658.3L1041.2 658.4L1042.6 658.4L1044 658.4L1045.4 658.4L1046.8 658.4L1048.2 658.4L1049.7 658.4L1051.1 658.4L1052.5 658.4L1053.9 658.4L1055.4 658.4L1056.8 658.4L1058.2 658.4L1059.6 658.4L1061.1 658.5L1062.5 658.5L1063.9 658.5L1065.4 658.5L1066.8 658.5L1066.8 659.1L1065.4 659.1L1063.9 659.2L1062.5 659.2L1061.1 659.2L1059.6 659.2L1058.2 659.3L1056.8 659.3L1055.4 659.3L1053.9 659.3L1052.5 659.4L1051.1 659.4L1049.7 659.4L1048.2 659.4L1046.8 659.4L1045.4 659.5L1044 659.5L1042.6 659.5L1041.2 659.5L1039.9 659.5L1038.5 659.5L1037.1 659.5L1035.7 659.5L1034.3 659.6L1032.9 659.5L1031.5 659.5L1030.1 659.5L1028.7 659.4L1027.3 659.4L1025.9 659.4L1024.5 659.4L1023.1 659.3L1021.7 659.3L1020.3 659.3L1018.9 659.3L1017.5 659.4L1016.1 659.5L1014.7 659.6L1013.3 659.6L1011.9 659.7L1010.5 659.8L1009.1 659.7L1007.7 659.6L1006.4 659.5L1005 659.4L1003.6 659.3L1002.2 659.2L1000.8 659.1L999.4 659.1L998 659L996.6 659L995.2 659L993.8 659L992.4 659L991 659L989.6 659L988.2 658.9L986.8 658.9L985.4 658.9L984 658.9L982.6 658.9L981.2 658.8L979.8 658.8L978.4 658.8L977 658.8L975.6 658.8L974.2 658.7L972.9 658.6L971.5 658.5L970.1 658.4L968.7 658.3L967.3 658.2L965.9 658.1L964.5 658L963.1 658L961.7 658.1L960.3 658.1L958.9 658.2L957.5 658.2L956.1 658.2L954.7 658.2L953.3 658.1L951.9 658.1L950.5 658.1L949.1 658L947.7 657.9L946.3 657.8L944.9 657.7L943.5 657.6L942.1 657.6L940.7 657.5L939.4 657.5L938 657.5L936.6 657.4L935.2 657.4L933.8 657.4L932.4 657.4L931 657.4L929.6 657.3L928.2 657.2L926.8 657.1L925.4 657L924 656.8L922.6 656.7L921.2 656.6L919.8 656.5L918.4 656.3L917 656.2L915.6 656.1L914.2 655.8L912.8 655.6L911.4 655.4L910 655.2L908.6 654.8L907.2 654.4L905.9 654.1L904.7 653.5L903.5 653L902.4 652.4L901.3 653.3L900.3 654.1L898.9 653.1L897.5 652.1L896.4 653.1L895.4 654.2L894.2 653.3L893.1 652.3L891.9 651.4L890.5 651L889.1 650.5L887.7 650.1L886.5 649.7L885.4 649.2L884.2 648.8L883.1 649.5L881.9 650.2L880.7 651L879.6 649.8L878.4 648.7L877.2 647.6L876.1 647.1L874.9 646.7L873.7 646.3L872.4 646.5L871 646.8L869.6 647.1L868.2 646.9L866.8 646.7L865.4 646.5L864 645.8L862.6 645.1L861.2 644.5L859.8 643.3L858.4 642.2L857 642.1L855.6 642L854.2 641.9L853 641.4L851.9 641L850.7 640.5L849.7 638.8L848.6 637.1L847.5 638L846.3 638.9L845.1 639.9L844 639.2L842.8 638.5L841.6 637.8L840.5 637.3L839.3 636.9L838.2 636.4L837 636.6L835.8 636.9L834.7 637.1L833.5 637.5L832.3 638L831.2 638.5L829.8 637.1L828.4 635.8L827.2 633.1L826 630.3L824.9 631.8L823.9 633.3L822.8 634.8L821.6 633.7L820.5 632.6L819.3 631.5L817.9 629.8L816.5 628.2L815.1 627.2L813.7 626.3L812.7 625.2L811.7 624.1L810.7 623L809.4 623.8L808.1 624.6L806.7 625.4L805.6 625.2L804.4 625L803.3 624.9L801.9 623.6L800.5 622.3L799.1 621.7L797.7 621.1L796.3 620.2L794.9 619.3L794 620L793.1 620.7L791.7 619.1L790.3 617.5L788.9 619.8L787.6 622.1L786.1 620.4L784.6 618.7L783.1 620.4L781.6 622.1L780.2 622.7L778.9 623.3L777.7 621L776.6 618.7L775.4 616.4L774.3 616L773.1 615.6L772 615.3L770.6 616.4L769.2 617.7L768.1 616.8L766.9 615.9L765.8 611L764.7 606.2L763.9 600.4L762.5 600.3L761 600.2L759.8 598.6L758.6 596.9L757.8 594.9L757 592.9L755.8 593.3L754.6 593.7L753.8 590.5L752.9 587.2L752.1 580L751.3 580.8L750.5 581.6L749.3 581.8L748.1 582.4L747.3 581.6L746.5 580.9L745.7 578.6L744.9 576.2L744.1 572.3L743.2 568.3L742.4 567.7L741.6 567.1L740.8 569L740 569.5L739.2 567.8L738.4 566.1L737.6 559.6L736.8 554.3L736 553.5L735.2 552.2L734.4 550.6L733.5 549.1L732.7 547.6L731.9 546.1L730.6 543.7L729.5 548.1L728.7 546.6L727.9 545.6L726.7 543.5L725.5 542L724.5 543.3L723.5 544.6L722.5 554.9L721.4 573.7L720.6 581.3L719.8 588.9L719 592L718.2 595L717 595.6L715.8 596.2L714.9 598.4L714.1 600.7L713.3 603L712.5 605.2L711.7 606.3L710.9 607.3L709.7 607.5L708.5 607.9L707.3 608.7L706 609.5L704.8 607.9L703.6 606.3L702.8 605.9L702 605.5L701.2 609.1L700.4 612.7L699.6 609.5L698.8 606.3L697.6 604.7L696.3 603L695.1 601.4L693.9 599.8L692.7 599L691.5 598.2L690.7 594.9L689.9 591.9L689.1 583L688.3 574L687.5 574.8L686.6 575.5L685.8 580.7L685 585.9L683.8 583.7L682.6 581.5L681.4 578.5L680.2 575.5L679 571.8L677.7 568.1L676.7 562.9L675.6 557.7L674.7 550.2L673.7 542.8L672.9 535.4L672.1 527.9L671.4 495.6L670.6 454.2L669.8 420.1Z" fill="#4b8fd6" fill-opacity="0.5"/>
<path d="M669.7 432.8L670.2 460.8L671.4 489.8L672.4 508.8L673.7 527.8L675 549.2L677.4 562.1L679.8 571.8L682.2 578.3L684.7 584.7L687.1 588.8L687.9 591.2L689.5 597.7L692 598.5L693.6 601.7L696 602.5L698.4 604.2L700.8 609L703.3 611.4L705.7 609.8L707.3 607.4L709.7 608.2L712.2 609L714.6 606.6L717 604.2L719.4 599.3L721.9 591.2L724.3 579.9L726.4 568.6L728 563.7L729.1 555.6L730.3 536.2L731.6 530.6L733.5 533.8L735.6 533L736.7 535.4L737.7 542.7L739.3 549.2L741.3 554L743.7 559.7L745.3 562.9L746.9 566.1L747.7 571.8L749.4 579.9L751 584.7L752.6 587.2L754.2 591.2L755.8 596.1L757.5 600.1L759.4 599.3L761.5 604.2L763.6 608.2L764.8 611.1L767.1 614.5L769.3 617.9L771.6 616.8L774.4 619.1L777.4 620.9L780.8 622.5L784.2 623.7L787.2 622.5L790 624.8L793.4 624.3L795.9 627.1L798.7 625.7L801.5 627.5L804.3 627.1L807.1 629.8L810.3 629.1L813.4 632.2L816.9 633.3L820.4 632.6L823.8 635.4L826.2 637.2L828.7 635.8L832.2 637.8L835.7 637.5L839.2 637.2L842.7 639.2L846.2 641.4L849.7 640.6L853.9 642.4L858 643.8L862.2 644.8L865 643.8L869.2 645.6L873.4 646.6L877.6 646.2L881.8 647.6L885.3 648.7L888.1 648.3L892.2 649.7L895.7 650.1L899.9 651.5L904.1 651.9L908.3 652.2L912.5 652.9L918.1 653.6L923.6 654L929.2 655L937.6 655.4L946 655.9L954.4 656.4L964.1 656.8L978.1 657.1L992 657.5L1010.2 657.9L1026.9 657.8L1047.9 658L1066.4 657.9" fill="none" stroke="#555555" stroke-width="2.6" stroke-linejoin="round" stroke-linecap="round"/>
<path d="M669.8 399L670.6 436L671.4 481L672.1 516.2L673.7 532.3L675.6 548.5L677.7 559.8L680.2 567.9L682.6 574.4L685 579.2L686.6 567.9L688.3 566.3L689.1 576L689.9 585.7L691.5 592.2L693.9 593.8L696.3 597L698.8 600.3L700.4 606.7L702 599.5L703.6 600.3L706 603.5L708.5 601.9L710.9 601.1L712.5 598.7L714.1 593.8L715.8 588.9L718.2 587.3L719.8 580.9L721.4 564.7L722.5 545.3L723.5 534L725.5 527.5L727.9 521.8L729.5 516.2L730.6 505.7L731.9 508.1L733.5 514.6L735.2 521L736.8 527.5L738.4 542L740 546.9L741.6 547.7L743.2 553.4L744.9 563.1L746.5 569.5L748.1 572.8L750.5 573.6L752.1 572L752.9 579.2L754.6 585.7L757 584.9L758.6 588.9L761 592.2L763.9 593L764.7 598.9L766.9 609.3L769.2 611.5L772 609.3L775.4 610.4L778.9 617.3L781.6 616.1L784.6 612.7L787.6 616.1L790.3 611.5L793.1 615L794.9 613.8L797.7 615.9L800.5 617.3L803.3 620.1L806.7 620.8L810.7 618.7L813.7 622.2L816.5 624.3L819.3 627.8L822.8 631.3L826 627.1L828.4 632.7L831.2 635.5L834.7 634.1L838.2 633.4L841.6 634.8L845.1 636.9L848.6 634.1L850.7 637.6L854.2 639L858.4 639.4L861.2 641.8L865.4 643.9L869.6 644.6L873.7 643.9L877.2 645.2L880.7 648.7L884.2 646.6L887.7 648L891.9 649.4L895.4 652.2L897.5 650.1L900.3 652.2L902.4 650.6L905.9 652.2L910 653.3L915.6 654.3L922.6 655L929.6 655.7L936.6 655.9L943.5 656.1L950.5 656.7L957.5 656.8L964.5 656.7L974.2 657.5L985.4 657.8L999.4 658.1L1010.5 658.9L1020.3 658.5L1034.3 658.9L1048.2 658.9L1066.8 658.8" fill="none" stroke="#4b8fd6" stroke-width="2.75" stroke-linejoin="round" stroke-linecap="round"/>
</g>
<g clip-path="url(#c12)">
<path d="M1137.7 423.9L1138.2 452.9L1139.4 482.9L1140.4 502.6L1141.7 522.3L1143 544.4L1144.2 551.1L1145.4 557.8L1146.6 562.8L1147.8 567.8L1149 571.2L1150.2 574.5L1151.5 577.9L1152.7 581.2L1153.9 583.3L1155.1 585.4L1155.9 587.9L1156.7 591.2L1157.5 594.4L1158.7 594.8L1160 595.1L1160.8 596.7L1161.6 598.3L1162.8 598.7L1164 599.1L1165.2 599.9L1166.4 600.6L1167.6 603L1168.8 605.4L1170.1 606.6L1171.3 607.8L1172.5 607L1173.7 606.1L1174.5 604.9L1175.3 603.6L1176.5 604L1177.7 604.4L1179 604.7L1180.2 605L1181.4 603.7L1182.6 602.5L1183.8 601.2L1185 599.9L1186.2 597.4L1187.4 594.9L1188.7 590.7L1189.9 586.6L1191.1 580.9L1192.3 575.1L1193.3 569L1194.4 562.5L1195.2 559.5L1196 556.5L1197.1 547.6L1198.3 526.5L1199.6 506.5L1200.5 509.7L1201.5 519.1L1202.6 519.1L1203.6 519L1204.7 523.2L1205.7 533.2L1206.5 538.7L1207.3 542.6L1208.3 545.3L1209.3 548.1L1210.5 551.1L1211.7 554.1L1212.5 555.8L1213.3 557.6L1214.1 559.3L1214.9 561L1215.7 566.8L1216.6 570.9L1217.4 575.1L1218.2 577.5L1219 580L1219.8 581.2L1220.6 582.5L1221.4 584.5L1222.2 586.6L1223 589L1223.8 591.5L1224.6 593.5L1225.5 595.6L1226.4 595.2L1227.4 594.9L1228.4 597.3L1229.5 599.8L1230.5 601.9L1231.6 603.9L1232.8 606.8L1233.9 608.6L1235.1 610.3L1236.2 612.1L1237.3 613.9L1238.5 613.3L1239.6 612.8L1241 614L1242.4 615.2L1243.9 616.2L1245.4 617.1L1246.5 617.7L1247.7 618.3L1248.8 618.9L1249.9 619.3L1251.1 619.7L1252.2 620.1L1253.7 619.6L1255.2 619.1L1256.6 620.3L1258 621.5L1259.1 621.4L1260.3 621.2L1261.4 621.1L1262.7 622.5L1263.9 623.8L1265.3 623.2L1266.7 622.5L1268.1 623.4L1269.5 624.3L1270.9 624.1L1272.3 623.9L1273.7 625.4L1275.1 626.8L1276.2 626.5L1277.2 626.3L1278.3 626.1L1279.3 627.1L1280.4 628.2L1281.4 629.2L1282.5 629.6L1283.7 630L1284.9 630.4L1286 630.2L1287.2 629.9L1288.4 629.7L1289.5 630.7L1290.7 631.6L1291.8 632.6L1293 633.5L1294.2 634.4L1295.5 633.7L1296.7 633L1297.9 633.7L1299.1 634.4L1300.2 635L1301.4 635L1302.5 634.9L1303.7 634.8L1304.9 634.7L1306 634.6L1307.2 634.6L1308.4 635.2L1309.5 635.9L1310.7 636.6L1311.9 637.3L1313 638.1L1314.2 638.8L1315.3 638.6L1316.5 638.3L1317.7 638L1319.1 638.7L1320.5 639.3L1321.9 639.9L1323.3 640.4L1324.6 640.9L1326 641.4L1327.4 641.7L1328.8 642L1330.2 642.4L1331.6 641.9L1333 641.4L1334.4 642.1L1335.8 642.7L1337.2 643.3L1338.6 643.7L1340 644L1341.4 644.3L1342.8 644.2L1344.2 644.1L1345.6 643.9L1347 644.4L1348.4 644.9L1349.8 645.3L1350.9 645.7L1352.1 646.1L1353.3 646.5L1354.7 646.3L1356.1 646.1L1357.5 646.6L1358.8 647L1360.2 647.5L1361.4 647.6L1362.6 647.8L1363.7 647.9L1365.1 648.4L1366.5 648.9L1367.9 649.4L1369.3 649.5L1370.7 649.7L1372.1 649.8L1373.5 649.9L1374.9 650L1376.3 650.1L1377.7 650.4L1379.1 650.6L1380.5 650.8L1381.9 651L1383.3 651.2L1384.7 651.4L1386.1 651.6L1387.5 651.7L1388.9 651.8L1390.3 651.9L1391.6 652L1393 652.3L1394.4 652.5L1395.8 652.8L1397.2 653L1398.6 653.1L1400 653.2L1401.4 653.3L1402.8 653.3L1404.2 653.4L1405.6 653.5L1407 653.6L1408.4 653.7L1409.8 653.8L1411.2 653.9L1412.6 654L1414 654.1L1415.4 654.2L1416.8 654.3L1418.2 654.3L1419.6 654.4L1421 654.5L1422.4 654.6L1423.8 654.6L1425.1 654.7L1426.5 654.8L1427.9 654.8L1429.3 654.9L1430.7 655L1432.1 655.1L1433.5 655.1L1434.9 655.1L1436.3 655.2L1437.7 655.2L1439.1 655.2L1440.5 655.3L1441.9 655.3L1443.3 655.3L1444.7 655.4L1446.1 655.4L1447.5 655.5L1448.9 655.5L1450.3 655.6L1451.7 655.6L1453.1 655.7L1454.5 655.7L1455.9 655.8L1457.3 655.8L1458.6 655.9L1460 655.9L1461.4 656L1462.8 656L1464.2 656L1465.6 656.1L1467 656.1L1468.4 656.2L1469.8 656.2L1471.2 656.2L1472.6 656.3L1474 656.3L1475.4 656.4L1476.8 656.4L1478.2 656.4L1479.6 656.4L1481 656.4L1482.4 656.4L1483.8 656.4L1485.2 656.4L1486.6 656.4L1488 656.4L1489.4 656.4L1490.8 656.4L1492.1 656.4L1493.5 656.4L1494.9 656.4L1496.4 656.4L1497.9 656.5L1499.4 656.5L1500.9 656.5L1502.4 656.6L1503.9 656.6L1505.4 656.6L1506.9 656.6L1508.4 656.7L1509.9 656.7L1511.4 656.7L1512.9 656.8L1514.4 656.8L1515.9 656.8L1517.3 656.8L1518.7 656.8L1520.2 656.8L1521.6 656.8L1523 656.8L1524.4 656.8L1525.9 656.8L1527.3 656.8L1528.7 656.8L1530.2 656.8L1531.6 656.8L1533 656.8L1534.4 656.8L1534.4 657.4L1533 657.4L1531.6 657.5L1530.2 657.5L1528.7 657.5L1527.3 657.5L1525.9 657.5L1524.4 657.6L1523 657.6L1521.6 657.6L1520.2 657.6L1518.7 657.6L1517.3 657.7L1515.9 657.7L1514.4 657.7L1512.9 657.7L1511.4 657.6L1509.9 657.6L1508.4 657.6L1506.9 657.6L1505.4 657.6L1503.9 657.6L1502.4 657.6L1500.9 657.6L1499.4 657.6L1497.9 657.5L1496.4 657.5L1494.9 657.5L1493.5 657.5L1492.1 657.6L1490.8 657.6L1489.4 657.6L1488 657.6L1486.6 657.6L1485.2 657.7L1483.8 657.7L1482.4 657.7L1481 657.7L1479.6 657.7L1478.2 657.8L1476.8 657.7L1475.4 657.7L1474 657.7L1472.6 657.7L1471.2 657.6L1469.8 657.6L1468.4 657.6L1467 657.6L1465.6 657.5L1464.2 657.5L1462.8 657.5L1461.4 657.5L1460 657.5L1458.6 657.4L1457.3 657.4L1455.9 657.3L1454.5 657.3L1453.1 657.3L1451.7 657.2L1450.3 657.2L1448.9 657.2L1447.5 657.1L1446.1 657.1L1444.7 657.1L1443.3 657.1L1441.9 657.1L1440.5 657L1439.1 657L1437.7 657L1436.3 657L1434.9 657L1433.5 656.9L1432.1 656.9L1430.7 656.9L1429.3 656.8L1427.9 656.8L1426.5 656.7L1425.1 656.7L1423.8 656.6L1422.4 656.6L1421 656.5L1419.6 656.4L1418.2 656.4L1416.8 656.3L1415.4 656.3L1414 656.2L1412.6 656.1L1411.2 656L1409.8 655.9L1408.4 655.9L1407 655.8L1405.6 655.7L1404.2 655.6L1402.8 655.6L1401.4 655.5L1400 655.4L1398.6 655.4L1397.2 655.3L1395.8 655.1L1394.4 654.8L1393 654.6L1391.6 654.4L1390.3 654.3L1388.9 654.2L1387.5 654.1L1386.1 654L1384.7 653.8L1383.3 653.7L1381.9 653.5L1380.5 653.3L1379.1 653.1L1377.7 652.9L1376.3 652.6L1374.9 652.6L1373.5 652.5L1372.1 652.4L1370.7 652.3L1369.3 652.1L1367.9 652L1366.5 651.5L1365.1 651.1L1363.7 650.6L1362.6 650.5L1361.4 650.4L1360.2 650.2L1358.8 649.8L1357.5 649.3L1356.1 648.9L1354.7 649.1L1353.3 649.3L1352.1 648.9L1350.9 648.6L1349.8 648.2L1348.4 647.7L1347 647.3L1345.6 646.8L1344.2 647L1342.8 647.1L1341.4 647.3L1340 647L1338.6 646.6L1337.2 646.3L1335.8 645.7L1334.4 645.2L1333 644.6L1331.6 645.1L1330.2 645.6L1328.8 645.3L1327.4 645L1326 644.7L1324.6 644.2L1323.3 643.8L1321.9 643.3L1320.5 642.7L1319.1 642.1L1317.7 641.5L1316.5 641.8L1315.3 642.1L1314.2 642.4L1313 641.7L1311.9 641L1310.7 640.2L1309.5 639.6L1308.4 639L1307.2 638.3L1306 638.4L1304.9 638.5L1303.7 638.6L1302.5 638.8L1301.4 638.9L1300.2 639L1299.1 638.3L1297.9 637.7L1296.7 637.1L1295.5 637.8L1294.2 638.5L1293 637.6L1291.8 636.7L1290.7 635.8L1289.5 634.9L1288.4 634L1287.2 634.2L1286 634.5L1284.9 634.7L1283.7 634.3L1282.5 634L1281.4 633.6L1280.4 632.6L1279.3 631.6L1278.3 630.6L1277.2 630.8L1276.2 631.1L1275.1 631.3L1273.7 630L1272.3 628.6L1270.9 628.8L1269.5 629L1268.1 628.1L1266.7 627.2L1265.3 628L1263.9 628.7L1262.7 627.3L1261.4 626L1260.3 626.2L1259.1 626.3L1258 626.5L1256.6 625.4L1255.2 624.3L1253.7 624.9L1252.2 625.6L1251.1 625.2L1249.9 624.9L1248.8 624.5L1247.7 624L1246.5 623.6L1245.4 623.1L1243.9 622.2L1242.4 621.3L1241 620.3L1239.6 619.2L1238.5 619.8L1237.3 620.4L1236.2 618.7L1235.1 617L1233.9 615.4L1232.8 613.7L1231.6 610.9L1230.5 608.9L1229.5 606.9L1228.4 604.5L1227.4 602.1L1226.4 602.6L1225.5 603L1224.6 601L1223.8 599L1223 596.6L1222.2 594.2L1221.4 592.3L1220.6 590.3L1219.8 589.1L1219 587.9L1218.2 585.5L1217.4 583.1L1216.6 579.2L1215.7 575.3L1214.9 569.7L1214.1 568.2L1213.3 566.7L1212.5 565.1L1211.7 563.6L1210.5 561L1209.3 558.2L1208.3 555.8L1207.3 553.4L1206.5 550.3L1205.7 548.1L1204.7 542L1203.6 540.2L1202.6 540.6L1201.5 541L1200.5 539.4L1199.6 537.1L1198.3 540.6L1197.1 559.6L1196 567.5L1195.2 569.8L1194.4 572.1L1193.3 577.6L1192.3 583.1L1191.1 588.6L1189.9 594.2L1188.7 598.2L1187.4 602.2L1186.2 604.5L1185 606.8L1183.8 608L1182.6 609.1L1181.4 610.2L1180.2 611.4L1179 610.9L1177.7 610.4L1176.5 610L1175.3 609.5L1174.5 610.7L1173.7 611.9L1172.5 612.7L1171.3 613.5L1170.1 612.2L1168.8 611L1167.6 608.5L1166.4 606.1L1165.2 605.2L1164 604.4L1162.8 604L1161.6 603.5L1160.8 601.9L1160 600.2L1158.7 599.8L1157.5 599.4L1156.7 596.1L1155.9 592.9L1155.1 590.6L1153.9 588.6L1152.7 586.7L1151.5 583.6L1150.2 580.4L1149 577.3L1147.8 574.2L1146.6 569.5L1145.4 564.8L1144.2 558.6L1143 552.3L1141.7 531.7L1140.4 513.4L1139.4 495.1L1138.2 467.1L1137.7 440.1Z" fill="#555555" fill-opacity="0.33"/>
<path d="M1137.6 436.3L1138.4 482.3L1139.2 512.3L1140.5 518.1L1141.9 523L1142.8 526.2L1143.7 529.4L1144.7 532.6L1145.6 535.8L1146.4 538.7L1147.2 541.5L1148 544.3L1148.8 547.1L1149.7 550.3L1150.6 553.5L1151.8 557.6L1152.9 561.6L1153.8 564.8L1154.7 568L1155.5 570.8L1156.4 573.6L1157.2 576.5L1158 579.3L1159.1 583.3L1160.2 587.3L1161.2 590.5L1162.1 593.8L1163.2 597.8L1164.4 603.1L1165.5 605.8L1166.7 608.7L1167.8 607L1169 605.3L1170.1 606.4L1171.2 607.5L1172.4 607L1173.5 606.4L1174.7 610.4L1175.8 614.4L1176.7 610.4L1177.7 606.4L1178.8 603L1180 599.5L1181.1 594.9L1182.2 590.4L1183.4 584.1L1184.5 577.4L1185.7 570.8L1186.8 564.1L1187.6 557.8L1188.4 548.3L1189.2 537.5L1190 526.6L1191.4 510.3L1192.2 512.4L1193 514.5L1193.8 514.9L1194.6 512.7L1195.5 510.2L1196.4 508.2L1197.4 511.1L1198.3 514.1L1199.1 518.1L1199.9 521.6L1200.7 523.3L1201.5 525L1202.9 518.3L1204.2 506.1L1205.6 521.2L1206.5 528.5L1207.4 535.9L1208.6 539.7L1209.7 542.7L1210.9 546.8L1212 550.8L1213.2 554.9L1214.3 559L1215.5 563.7L1216.6 568.3L1217.8 573.6L1218.9 578.8L1220 585.2L1221.2 591.6L1222 595.6L1222.8 599.7L1223.9 600.3L1225.1 601L1226.2 599.9L1227.4 598.8L1228.5 602.4L1229.7 605.9L1230.8 608.2L1232 610.6L1233.1 609L1234.3 607.3L1235.4 609.7L1236.5 612.1L1237.7 613.8L1238.8 615.6L1240 616.8L1241.1 618L1242.3 618.6L1243.4 619.2L1244.6 616.4L1245.7 613.5L1246.9 614.7L1248 615.9L1249.1 617.7L1250.3 619.4L1251.4 620L1252.6 620.6L1254.1 619.5L1255.6 618.5L1256.9 620.2L1258.3 622L1259.7 622L1261.1 622.1L1262.4 623.7L1263.7 625.2L1265 626.8L1266.4 626.2L1267.8 625.5L1268.9 624.5L1270.1 623.5L1271.3 622.5L1272.4 623.3L1273.6 624.1L1274.7 625L1275.8 625.3L1276.8 625.7L1277.8 623.8L1278.7 621.8L1279.8 625.6L1281 629.3L1282.4 631L1283.8 632.8L1285 632.6L1286.1 632.4L1287.3 632.2L1288.7 632.7L1290.1 633.2L1291.5 633.7L1292.5 632.5L1293.5 631.4L1294.6 630.3L1295.6 631.4L1296.7 632.6L1297.8 633.8L1298.9 635.2L1300.1 636.7L1301.3 638.1L1302.4 637.2L1303.6 636.3L1304.8 635.4L1305.9 636.6L1307.1 637.7L1308.2 638.9L1309.4 639.4L1310.6 639.9L1311.7 640.4L1313.1 640.7L1314.5 640.9L1315.9 641.2L1317.3 642.4L1318.7 643.6L1320.1 644.8L1321.5 644.1L1322.9 643.4L1324.3 642.8L1325.5 643L1326.6 643.3L1327.8 643.5L1329.2 644.4L1330.6 645.3L1332 646.1L1333.1 645.8L1334.3 645.4L1335.5 645.1L1336.9 645.8L1338.3 646.5L1339.4 646.3L1340.6 646.1L1341.7 645.9L1343.1 646.8L1344.5 647.7L1345.9 648.7L1347.3 648.8L1348.7 649L1350.1 649.1L1351.5 649L1352.9 648.9L1354.3 648.7L1355.7 649.5L1357.1 650.3L1358.5 651.1L1359.9 650.8L1361.3 650.5L1362.7 650.2L1364.1 650.3L1365.5 650.4L1366.9 650.5L1368.3 650.6L1369.4 651L1370.6 651.3L1371.8 651.6L1373.2 651.4L1374.6 651.2L1375.9 651L1377.3 651.8L1378.7 652.6L1380.1 653.5L1381.4 653.2L1382.6 653L1383.8 652.7L1385 652.4L1386.4 652.7L1387.8 653L1389.2 653.3L1390.6 653.6L1392 653.6L1393.4 653.7L1394.8 653.8L1396.2 653.8L1397.6 653.9L1399 654L1400.4 654.2L1401.8 654.3L1403.2 654.5L1404.6 654.6L1406 654.6L1407.4 654.5L1408.7 654.5L1410.1 654.4L1411.5 654.4L1412.9 654.5L1414.3 654.6L1415.7 654.7L1417.1 654.8L1418.5 654.8L1419.9 655L1421.3 655.1L1422.7 655.2L1424.1 655.3L1425.5 655.4L1426.9 655.5L1428.3 655.5L1429.7 655.5L1431.1 655.5L1432.5 655.5L1433.9 655.5L1435.3 655.5L1436.7 655.5L1438.1 655.5L1439.5 655.5L1440.9 655.6L1442.2 655.6L1443.6 655.7L1445 655.7L1446.4 655.8L1447.8 655.8L1449.2 655.9L1450.6 655.9L1452 656L1453.4 656L1454.8 656L1456.2 656L1457.6 656.1L1459 656.1L1460.4 656.1L1461.8 656.1L1463.2 656.1L1464.6 656.1L1466 656.1L1467.4 656.1L1468.8 656.1L1470.2 656.1L1471.6 656.1L1473 656.1L1474.4 656.1L1475.7 656.1L1477.1 656.1L1478.5 656.1L1479.9 656.1L1481.3 656.1L1482.7 656.1L1484.1 656.2L1485.5 656.2L1486.9 656.3L1488.3 656.3L1489.7 656.4L1491.1 656.4L1492.5 656.5L1493.9 656.5L1495.3 656.6L1496.7 656.6L1498.1 656.7L1499.5 656.7L1500.9 656.8L1502.3 656.8L1503.7 656.9L1505.1 656.9L1506.5 657L1507.9 657L1509.2 657.1L1510.6 657.1L1512 657.1L1513.4 657.1L1514.8 657.1L1516.2 657.1L1517.6 657.1L1519 657.1L1520.4 657.1L1521.8 657.1L1523.2 657.1L1524.7 657.2L1526.1 657.2L1527.5 657.2L1529 657.2L1530.4 657.2L1531.9 657.2L1533.3 657.2L1534.8 657.2L1534.8 657.8L1533.3 657.9L1531.9 657.9L1530.4 657.9L1529 657.9L1527.5 657.9L1526.1 657.9L1524.7 657.9L1523.2 657.9L1521.8 657.9L1520.4 657.9L1519 657.9L1517.6 658L1516.2 658L1514.8 658L1513.4 658L1512 658L1510.6 658L1509.2 658L1507.9 658L1506.5 657.9L1505.1 657.9L1503.7 657.9L1502.3 657.8L1500.9 657.8L1499.5 657.8L1498.1 657.7L1496.7 657.7L1495.3 657.7L1493.9 657.6L1492.5 657.6L1491.1 657.6L1489.7 657.5L1488.3 657.5L1486.9 657.5L1485.5 657.4L1484.1 657.4L1482.7 657.4L1481.3 657.3L1479.9 657.4L1478.5 657.4L1477.1 657.4L1475.7 657.4L1474.4 657.4L1473 657.5L1471.6 657.5L1470.2 657.5L1468.8 657.5L1467.4 657.6L1466 657.6L1464.6 657.6L1463.2 657.6L1461.8 657.6L1460.4 657.6L1459 657.6L1457.6 657.6L1456.2 657.6L1454.8 657.6L1453.4 657.6L1452 657.6L1450.6 657.6L1449.2 657.5L1447.8 657.5L1446.4 657.5L1445 657.4L1443.6 657.4L1442.2 657.4L1440.9 657.3L1439.5 657.3L1438.1 657.3L1436.7 657.3L1435.3 657.3L1433.9 657.3L1432.5 657.3L1431.1 657.4L1429.7 657.4L1428.3 657.4L1426.9 657.4L1425.5 657.4L1424.1 657.3L1422.7 657.2L1421.3 657.1L1419.9 657L1418.5 656.9L1417.1 656.8L1415.7 656.7L1414.3 656.6L1412.9 656.6L1411.5 656.5L1410.1 656.6L1408.7 656.6L1407.4 656.7L1406 656.8L1404.6 656.8L1403.2 656.7L1401.8 656.6L1400.4 656.4L1399 656.3L1397.6 656.2L1396.2 656.1L1394.8 656.1L1393.4 656L1392 656L1390.6 655.9L1389.2 655.7L1387.8 655.4L1386.4 655.1L1385 654.8L1383.8 655.1L1382.6 655.4L1381.4 655.7L1380.1 656L1378.7 655.2L1377.3 654.3L1375.9 653.5L1374.6 653.7L1373.2 654L1371.8 654.2L1370.6 653.9L1369.4 653.6L1368.3 653.3L1366.9 653.2L1365.5 653.1L1364.1 653L1362.7 652.9L1361.3 653.2L1359.9 653.5L1358.5 653.9L1357.1 653.1L1355.7 652.3L1354.3 651.5L1352.9 651.7L1351.5 651.8L1350.1 652L1348.7 651.8L1347.3 651.7L1345.9 651.6L1344.5 650.7L1343.1 649.7L1341.7 648.8L1340.6 649.1L1339.4 649.3L1338.3 649.5L1336.9 648.9L1335.5 648.2L1334.3 648.6L1333.1 649L1332 649.4L1330.6 648.6L1329.2 647.8L1327.8 647L1326.6 646.8L1325.5 646.5L1324.3 646.3L1322.9 647.1L1321.5 647.8L1320.1 648.5L1318.7 647.4L1317.3 646.3L1315.9 645.1L1314.5 644.9L1313.1 644.7L1311.7 644.5L1310.6 644.1L1309.4 643.6L1308.2 643.2L1307.1 642.1L1305.9 640.9L1304.8 639.8L1303.6 640.7L1302.4 641.7L1301.3 642.6L1300.1 641.3L1298.9 639.9L1297.8 638.5L1296.7 637.4L1295.6 636.3L1294.6 635.1L1293.5 636.3L1292.5 637.5L1291.5 638.7L1290.1 638.2L1288.7 637.8L1287.3 637.4L1286.1 637.6L1285 637.9L1283.8 638.1L1282.4 636.4L1281 634.7L1279.8 631L1278.7 627.4L1277.8 629.3L1276.8 631.3L1275.8 631L1274.7 630.7L1273.6 629.9L1272.4 629.1L1271.3 628.4L1270.1 629.4L1268.9 630.4L1267.8 631.5L1266.4 632.3L1265 633.2L1263.7 631.8L1262.4 630.4L1261.1 629L1259.7 629.1L1258.3 629.2L1256.9 627.7L1255.6 626.1L1254.1 627.4L1252.6 628.7L1251.4 628.2L1250.3 627.7L1249.1 626.1L1248 624.5L1246.9 623.5L1245.7 622.5L1244.6 625.5L1243.4 628.4L1242.3 628L1241.1 627.5L1240 626.5L1238.8 625.5L1237.7 623.8L1236.5 622.1L1235.4 619.7L1234.3 617.3L1233.1 619L1232 620.6L1230.8 618.2L1229.7 615.9L1228.5 612.4L1227.4 608.8L1226.2 609.9L1225.1 611L1223.9 610.3L1222.8 609.7L1222 605.7L1221.2 601.8L1220 595.5L1218.9 589.3L1217.8 584.2L1216.6 579.1L1215.5 574.6L1214.3 570.1L1213.2 566.2L1212 562.3L1210.9 558.3L1209.7 554.4L1208.6 551.6L1207.4 549L1206.5 545.5L1205.6 542.1L1204.2 531.3L1202.9 537.1L1201.5 543.9L1200.7 542.8L1199.9 541.6L1199.1 538.8L1198.3 535.9L1197.4 535.3L1196.4 534.8L1195.5 536.5L1194.6 538.2L1193.8 540.5L1193 542.8L1192.2 543.4L1191.4 543.9L1190 553.2L1189.2 559.4L1188.4 565.6L1187.6 570.7L1186.8 576.3L1185.7 581.8L1184.5 587.3L1183.4 592.8L1182.2 598.4L1181.1 602.9L1180 607.5L1178.8 611L1177.7 614.4L1176.7 618.4L1175.8 622.4L1174.7 618.4L1173.5 614.4L1172.4 615L1171.2 615.5L1170.1 614.4L1169 613.3L1167.8 615L1166.7 616.7L1165.5 613.8L1164.4 610.9L1163.2 613.1L1162.1 615.3L1161.2 613.5L1160.2 611.7L1159.1 612.8L1158 613.8L1157.2 608.1L1156.4 602.3L1155.5 600.5L1154.7 598.7L1153.8 596.4L1152.9 594.1L1151.8 592.5L1150.6 590.8L1149.7 588.7L1148.8 586.5L1148 582.1L1147.2 577.7L1146.4 575.5L1145.6 573.3L1144.7 567.9L1143.7 562.4L1142.8 555.8L1141.9 549.3L1140.5 538.3L1139.2 525.2L1138.4 497.7L1137.6 455.7Z" fill="#1f9d63" fill-opacity="0.5"/>
<path d="M1137.7 432L1138.2 460L1139.4 489L1140.4 508L1141.7 527L1143 548.4L1145.4 561.3L1147.8 571L1150.2 577.5L1152.7 583.9L1155.1 588L1155.9 590.4L1157.5 596.9L1160 597.7L1161.6 600.9L1164 601.7L1166.4 603.4L1168.8 608.2L1171.3 610.6L1173.7 609L1175.3 606.6L1177.7 607.4L1180.2 608.2L1182.6 605.8L1185 603.4L1187.4 598.5L1189.9 590.4L1192.3 579.1L1194.4 567.8L1196 562.9L1197.1 554.8L1198.3 535.4L1199.6 529.8L1201.5 533L1203.6 532.2L1204.7 534.6L1205.7 541.9L1207.3 548.4L1209.3 553.2L1211.7 558.9L1213.3 562.1L1214.9 565.3L1215.7 571L1217.4 579.1L1219 583.9L1220.6 586.4L1222.2 590.4L1223.8 595.3L1225.5 599.3L1227.4 598.5L1229.5 603.4L1231.6 607.4L1232.8 610.3L1235.1 613.7L1237.3 617.1L1239.6 616L1242.4 618.3L1245.4 620.1L1248.8 621.7L1252.2 622.9L1255.2 621.7L1258 624L1261.4 623.5L1263.9 626.3L1266.7 624.9L1269.5 626.7L1272.3 626.3L1275.1 629L1278.3 628.3L1281.4 631.4L1284.9 632.5L1288.4 631.8L1291.8 634.6L1294.2 636.4L1296.7 635L1300.2 637L1303.7 636.7L1307.2 636.4L1310.7 638.4L1314.2 640.6L1317.7 639.8L1321.9 641.6L1326 643L1330.2 644L1333 643L1337.2 644.8L1341.4 645.8L1345.6 645.4L1349.8 646.8L1353.3 647.9L1356.1 647.5L1360.2 648.9L1363.7 649.3L1367.9 650.7L1372.1 651.1L1376.3 651.4L1380.5 652.1L1386.1 652.8L1391.6 653.2L1397.2 654.2L1405.6 654.6L1414 655.1L1422.4 655.6L1432.1 656L1446.1 656.3L1460 656.7L1478.2 657.1L1494.9 657L1515.9 657.2L1534.4 657.1" fill="none" stroke="#555555" stroke-width="2.6" stroke-linejoin="round" stroke-linecap="round"/>
<path d="M1137.6 446L1138.4 490L1139.2 518.7L1140.5 532.5L1141.9 544L1143.7 557.7L1145.6 569.2L1147.2 573.7L1148.8 582.9L1150.6 587.5L1152.9 590.9L1154.7 595.5L1156.4 598.9L1158 610.4L1160.2 608.1L1162.1 611.5L1164.4 607L1166.7 612.7L1169 609.3L1171.2 611.5L1173.5 610.4L1175.8 618.4L1177.7 610.4L1180 603.5L1182.2 594.4L1184.5 582.9L1186.8 571.4L1188.4 560L1190 546.2L1191.4 535.9L1193 534.8L1194.6 530.2L1196.4 526.8L1198.3 527.9L1199.9 533.6L1201.5 535.9L1202.9 529.1L1204.2 523.3L1205.6 534.8L1207.4 542.8L1209.7 548.5L1212 556.6L1214.3 564.6L1216.6 573.7L1218.9 584.1L1221.2 596.7L1222.8 604.7L1225.1 605.8L1227.4 603.5L1229.7 610.4L1232 615L1234.3 611.5L1236.5 616.1L1238.8 619.6L1241.1 621.9L1243.4 623L1245.7 617.3L1248 619.6L1250.3 623L1252.6 624.1L1255.6 621.9L1258.3 625.3L1261.1 625.3L1265 629.9L1267.8 628.5L1271.3 625.4L1274.7 627.8L1276.8 628.5L1278.7 624.6L1281 632L1283.8 635.5L1287.3 634.8L1291.5 636.2L1294.6 632.7L1297.8 636.2L1301.3 640.4L1304.8 637.6L1308.2 641.1L1311.7 642.5L1315.9 643.2L1320.1 646.6L1324.3 644.6L1327.8 645.2L1332 647.8L1335.5 646.6L1338.3 648L1341.7 647.3L1345.9 650.1L1350.1 650.6L1354.3 650.1L1358.5 652.5L1362.7 651.5L1368.3 651.9L1371.8 652.9L1375.9 652.2L1380.1 654.7L1385 653.6L1390.6 654.7L1397.6 655L1404.6 655.7L1411.5 655.4L1418.5 655.9L1425.5 656.4L1439.5 656.4L1453.4 656.8L1467.4 656.8L1481.3 656.7L1495.3 657.1L1509.2 657.5L1523.2 657.5L1534.8 657.5" fill="none" stroke="#1f9d63" stroke-width="2.75" stroke-linejoin="round" stroke-linecap="round"/>
</g>
<g clip-path="url(#c13)">
<path d="M1606 424.1L1606.5 453.1L1607.8 483.1L1608.8 502.8L1610 522.4L1611.3 544.5L1612.5 551.2L1613.7 557.9L1615 562.9L1616.2 568L1617.4 571.3L1618.6 574.7L1619.8 578L1621 581.4L1622.2 583.5L1623.5 585.5L1624.3 588.1L1625.1 591.3L1625.9 594.5L1627.1 594.9L1628.3 595.3L1629.1 596.9L1629.9 598.5L1631.1 598.9L1632.3 599.2L1633.6 600L1634.8 600.8L1636 603.2L1637.2 605.6L1638.4 606.8L1639.6 607.9L1640.8 607.1L1642 606.3L1642.9 605L1643.7 603.8L1644.9 604.2L1646.1 604.5L1647.3 604.9L1648.5 605.2L1649.7 603.9L1650.9 602.6L1652.2 601.3L1653.4 600L1654.6 597.5L1655.8 595L1657 590.9L1658.2 586.8L1659.4 581L1660.6 575.3L1661.7 569.1L1662.7 562.7L1663.6 559.7L1664.4 556.7L1665.5 547.8L1666.6 526.7L1667.9 506.6L1668.9 509.9L1669.9 519.3L1670.9 519.2L1672 519.2L1673.1 523.3L1674.1 533.3L1674.9 538.8L1675.7 542.7L1676.7 545.5L1677.6 548.2L1678.8 551.3L1680.1 554.3L1680.9 556L1681.7 557.7L1682.5 559.4L1683.3 561.2L1684.1 566.9L1684.9 571.1L1685.7 575.2L1686.5 577.7L1687.3 580.1L1688.1 581.4L1688.9 582.6L1689.8 584.7L1690.6 586.7L1691.4 589.2L1692.2 591.6L1693 593.7L1693.8 595.8L1694.8 595.4L1695.7 595L1696.8 597.5L1697.8 599.9L1698.9 602L1699.9 604.1L1701.1 607L1702.3 608.7L1703.4 610.5L1704.5 612.3L1705.7 614L1706.8 613.5L1708 613L1709.4 614.1L1710.7 615.3L1712.2 616.3L1713.7 617.3L1714.9 617.9L1716 618.4L1717.1 619L1718.3 619.4L1719.4 619.9L1720.6 620.3L1722.1 619.8L1723.6 619.3L1724.9 620.5L1726.3 621.7L1727.5 621.5L1728.6 621.4L1729.8 621.2L1731 622.6L1732.3 624L1733.7 623.3L1735.1 622.6L1736.5 623.5L1737.9 624.5L1739.3 624.3L1740.7 624.1L1742.1 625.5L1743.4 626.9L1744.5 626.7L1745.6 626.5L1746.7 626.3L1747.7 627.3L1748.7 628.3L1749.7 629.4L1750.9 629.8L1752.1 630.1L1753.2 630.5L1754.4 630.3L1755.5 630.1L1756.7 629.9L1757.9 630.8L1759 631.8L1760.2 632.7L1761.4 633.6L1762.6 634.6L1763.8 633.9L1765.1 633.2L1766.2 633.9L1767.4 634.5L1768.6 635.2L1769.7 635.1L1770.9 635L1772.1 634.9L1773.2 634.9L1774.4 634.8L1775.6 634.7L1776.7 635.4L1777.9 636L1779 636.7L1780.2 637.5L1781.4 638.2L1782.5 639L1783.7 638.7L1784.9 638.5L1786 638.2L1787.4 638.8L1788.8 639.4L1790.2 640.1L1791.6 640.5L1793 641L1794.4 641.5L1795.8 641.9L1797.2 642.2L1798.6 642.5L1800 642.1L1801.4 641.6L1802.8 642.2L1804.2 642.8L1805.6 643.5L1807 643.8L1808.4 644.1L1809.7 644.5L1811.1 644.3L1812.5 644.2L1813.9 644.1L1815.3 644.5L1816.7 645L1818.1 645.5L1819.3 645.9L1820.4 646.3L1821.6 646.6L1823 646.4L1824.4 646.2L1825.8 646.7L1827.2 647.2L1828.6 647.7L1829.8 647.8L1830.9 647.9L1832.1 648.1L1833.5 648.6L1834.9 649L1836.3 649.5L1837.7 649.7L1839.1 649.8L1840.5 650L1841.9 650.1L1843.2 650.2L1844.6 650.3L1846 650.5L1847.4 650.7L1848.8 651L1850.2 651.2L1851.6 651.4L1853 651.5L1854.4 651.7L1855.8 651.8L1857.2 651.9L1858.6 652.1L1860 652.2L1861.4 652.4L1862.8 652.7L1864.2 652.9L1865.6 653.2L1867 653.3L1868.4 653.3L1869.8 653.4L1871.2 653.5L1872.6 653.6L1874 653.6L1875.4 653.7L1876.7 653.9L1878.1 654L1879.5 654.1L1880.9 654.2L1882.3 654.3L1883.7 654.3L1885.1 654.4L1886.5 654.5L1887.9 654.6L1889.3 654.6L1890.7 654.7L1892.1 654.8L1893.5 654.9L1894.9 654.9L1896.3 655L1897.7 655.1L1899.1 655.1L1900.5 655.2L1901.9 655.2L1903.3 655.3L1904.7 655.3L1906.1 655.3L1907.5 655.4L1908.9 655.4L1910.2 655.5L1911.6 655.5L1913 655.5L1914.4 655.6L1915.8 655.6L1917.2 655.7L1918.6 655.7L1920 655.8L1921.4 655.8L1922.8 655.9L1924.2 655.9L1925.6 656L1927 656L1928.4 656.1L1929.8 656.1L1931.2 656.1L1932.6 656.2L1934 656.2L1935.4 656.3L1936.8 656.3L1938.2 656.4L1939.6 656.4L1941 656.4L1942.4 656.5L1943.7 656.5L1945.1 656.6L1946.5 656.6L1947.9 656.6L1949.3 656.6L1950.7 656.6L1952.1 656.6L1953.5 656.6L1954.9 656.6L1956.3 656.6L1957.7 656.6L1959.1 656.6L1960.5 656.6L1961.9 656.6L1963.3 656.6L1964.8 656.6L1966.3 656.6L1967.8 656.6L1969.3 656.7L1970.8 656.7L1972.3 656.7L1973.8 656.8L1975.3 656.8L1976.7 656.8L1978.2 656.8L1979.7 656.9L1981.2 656.9L1982.7 656.9L1984.2 657L1985.7 657L1987.1 657L1988.5 657L1989.9 657L1991.4 657L1992.8 656.9L1994.2 656.9L1995.6 656.9L1997.1 656.9L1998.5 656.9L1999.9 656.9L2001.4 656.9L2002.8 656.9L2002.8 657.6L2001.4 657.6L1999.9 657.6L1998.5 657.6L1997.1 657.7L1995.6 657.7L1994.2 657.7L1992.8 657.7L1991.4 657.7L1989.9 657.7L1988.5 657.8L1987.1 657.8L1985.7 657.8L1984.2 657.8L1982.7 657.8L1981.2 657.8L1979.7 657.8L1978.2 657.8L1976.7 657.8L1975.3 657.8L1973.8 657.7L1972.3 657.7L1970.8 657.7L1969.3 657.7L1967.8 657.7L1966.3 657.7L1964.8 657.7L1963.3 657.7L1961.9 657.7L1960.5 657.7L1959.1 657.7L1957.7 657.8L1956.3 657.8L1954.9 657.8L1953.5 657.8L1952.1 657.8L1950.7 657.9L1949.3 657.9L1947.9 657.9L1946.5 657.9L1945.1 657.9L1943.7 657.9L1942.4 657.8L1941 657.8L1939.6 657.8L1938.2 657.8L1936.8 657.7L1935.4 657.7L1934 657.7L1932.6 657.7L1931.2 657.6L1929.8 657.6L1928.4 657.6L1927 657.6L1925.6 657.5L1924.2 657.5L1922.8 657.5L1921.4 657.4L1920 657.4L1918.6 657.4L1917.2 657.3L1915.8 657.3L1914.4 657.3L1913 657.2L1911.6 657.2L1910.2 657.2L1908.9 657.2L1907.5 657.2L1906.1 657.1L1904.7 657.1L1903.3 657.1L1901.9 657.1L1900.5 657.1L1899.1 657L1897.7 657L1896.3 656.9L1894.9 656.9L1893.5 656.8L1892.1 656.8L1890.7 656.7L1889.3 656.6L1887.9 656.6L1886.5 656.5L1885.1 656.5L1883.7 656.4L1882.3 656.3L1880.9 656.3L1879.5 656.2L1878.1 656.1L1876.7 656L1875.4 655.9L1874 655.8L1872.6 655.8L1871.2 655.7L1869.8 655.6L1868.4 655.6L1867 655.5L1865.6 655.5L1864.2 655.2L1862.8 655L1861.4 654.8L1860 654.5L1858.6 654.4L1857.2 654.3L1855.8 654.2L1854.4 654.1L1853 654L1851.6 653.8L1850.2 653.6L1848.8 653.5L1847.4 653.2L1846 653L1844.6 652.8L1843.2 652.7L1841.9 652.6L1840.5 652.5L1839.1 652.4L1837.7 652.3L1836.3 652.2L1834.9 651.7L1833.5 651.2L1832.1 650.8L1830.9 650.6L1829.8 650.5L1828.6 650.4L1827.2 649.9L1825.8 649.5L1824.4 649L1823 649.2L1821.6 649.4L1820.4 649.1L1819.3 648.7L1818.1 648.4L1816.7 647.9L1815.3 647.4L1813.9 647L1812.5 647.1L1811.1 647.3L1809.7 647.4L1808.4 647.1L1807 646.8L1805.6 646.5L1804.2 645.9L1802.8 645.3L1801.4 644.7L1800 645.2L1798.6 645.7L1797.2 645.4L1795.8 645.1L1794.4 644.8L1793 644.4L1791.6 643.9L1790.2 643.5L1788.8 642.9L1787.4 642.3L1786 641.7L1784.9 642L1783.7 642.3L1782.5 642.6L1781.4 641.8L1780.2 641.1L1779 640.4L1777.9 639.8L1776.7 639.1L1775.6 638.5L1774.4 638.6L1773.2 638.7L1772.1 638.8L1770.9 638.9L1769.7 639L1768.6 639.1L1767.4 638.5L1766.2 637.8L1765.1 637.2L1763.8 637.9L1762.6 638.6L1761.4 637.7L1760.2 636.9L1759 635.9L1757.9 635L1756.7 634.1L1755.5 634.4L1754.4 634.6L1753.2 634.8L1752.1 634.5L1750.9 634.1L1749.7 633.8L1748.7 632.8L1747.7 631.8L1746.7 630.7L1745.6 631L1744.5 631.2L1743.4 631.5L1742.1 630.1L1740.7 628.7L1739.3 629L1737.9 629.2L1736.5 628.3L1735.1 627.4L1733.7 628.1L1732.3 628.8L1731 627.5L1729.8 626.1L1728.6 626.3L1727.5 626.5L1726.3 626.6L1724.9 625.5L1723.6 624.5L1722.1 625.1L1720.6 625.7L1719.4 625.4L1718.3 625L1717.1 624.7L1716 624.2L1714.9 623.7L1713.7 623.2L1712.2 622.4L1710.7 621.5L1709.4 620.4L1708 619.3L1706.8 619.9L1705.7 620.5L1704.5 618.9L1703.4 617.2L1702.3 615.5L1701.1 613.8L1699.9 611L1698.9 609L1697.8 607.1L1696.8 604.7L1695.7 602.3L1694.8 602.7L1693.8 603.2L1693 601.2L1692.2 599.2L1691.4 596.8L1690.6 594.4L1689.8 592.4L1688.9 590.4L1688.1 589.2L1687.3 588L1686.5 585.7L1685.7 583.3L1684.9 579.3L1684.1 575.4L1683.3 569.8L1682.5 568.3L1681.7 566.8L1680.9 565.3L1680.1 563.8L1678.8 561.1L1677.6 558.4L1676.7 555.9L1675.7 553.5L1674.9 550.5L1674.1 548.2L1673.1 542.1L1672 540.3L1670.9 540.7L1669.9 541.2L1668.9 539.5L1667.9 537.2L1666.6 540.7L1665.5 559.8L1664.4 567.7L1663.6 570L1662.7 572.2L1661.7 577.7L1660.6 583.2L1659.4 588.8L1658.2 594.4L1657 598.3L1655.8 602.3L1654.6 604.6L1653.4 607L1652.2 608.1L1650.9 609.3L1649.7 610.4L1648.5 611.5L1647.3 611L1646.1 610.5L1644.9 610.1L1643.7 609.7L1642.9 610.9L1642 612.1L1640.8 612.8L1639.6 613.6L1638.4 612.4L1637.2 611.1L1636 608.7L1634.8 606.2L1633.6 605.4L1632.3 604.5L1631.1 604.1L1629.9 603.7L1629.1 602L1628.3 600.4L1627.1 600L1625.9 599.5L1625.1 596.3L1624.3 593.1L1623.5 590.7L1622.2 588.8L1621 586.8L1619.8 583.7L1618.6 580.6L1617.4 577.5L1616.2 574.3L1615 569.7L1613.7 565L1612.5 558.7L1611.3 552.5L1610 531.9L1608.8 513.5L1607.8 495.2L1606.5 467.2L1606 440.2Z" fill="#555555" fill-opacity="0.33"/>
<path d="M1605.5 380.6L1605.9 408.4L1607.1 445.8L1608 467.2L1608.9 488.6L1609.7 495.6L1610.5 502.5L1611.6 510.3L1612.6 518.1L1613.7 525.8L1614.9 533.6L1615.9 539.7L1617 545.7L1618 550.1L1619.1 554.4L1620.1 556.1L1621 557.9L1621.8 560.5L1622.6 563L1623.5 566.5L1624.3 570L1625.1 571.7L1625.9 573.4L1627.1 572.6L1628.3 571.7L1629.1 572.1L1629.9 572.6L1630.7 574.7L1631.5 576.9L1632.3 578.6L1633.2 580.4L1634.4 581.2L1635.6 582.1L1636.7 582.4L1637.7 582.7L1638.8 582.9L1640 582.9L1641.2 582.9L1642 580.8L1642.9 578.6L1644 573.4L1645 573L1646.1 572.6L1646.9 570L1647.7 567.4L1648.5 565.6L1649.3 563.9L1650.4 563L1651.4 562.2L1652.4 560.5L1653.4 558.7L1654.2 557L1655 555.3L1655.8 551.4L1656.6 547.5L1657.4 543.1L1658.2 538.8L1659.2 535.8L1660.2 532.8L1661.2 531L1662.3 529.3L1663.5 528.4L1664.7 527.6L1666 531.9L1667.1 537.1L1667.9 539.3L1668.7 541.4L1669.5 543.6L1670.4 545.7L1671.2 548.8L1672 551.8L1673.2 552.2L1674.4 552.7L1675.2 553.5L1676 554.4L1677.3 559.6L1678.3 561.3L1679.2 563L1680.1 565.2L1680.9 567.4L1681.7 571.3L1682.5 575.2L1683.3 577.8L1684.1 580.4L1685.3 582.9L1686.5 585.5L1687.7 589L1688.9 592.5L1690.2 595.9L1691.4 599.4L1692.6 602L1693.8 604.6L1694.9 606.9L1696 609.2L1697 611.5L1698.5 613.7L1699.9 615.8L1701.1 617.4L1702.3 619L1703.4 619.7L1704.5 620.3L1705.7 621L1707.1 622.5L1708.4 623.9L1709.9 624.9L1711.4 625.9L1712.6 625.2L1713.7 624.6L1714.9 623.9L1716 624.7L1717.1 625.6L1718.3 626.4L1719.4 627.6L1720.6 628.8L1721.7 630.1L1722.9 629.7L1724 629.2L1725.2 628.8L1726.3 629.1L1727.5 629.3L1728.6 629.6L1730.1 630.8L1731.6 632.1L1733 632.5L1734.4 632.9L1735.8 633.4L1737.2 633.9L1738.6 633.4L1740 632.9L1741.4 634.3L1742.7 635.8L1743.9 635.6L1745.1 635.3L1746.2 635.1L1747.6 636.2L1749 637.3L1750.2 637.3L1751.4 637.3L1752.5 637.3L1753.9 638.3L1755.3 639.3L1756.7 640.2L1758.1 641.1L1759.5 640.8L1760.9 640.6L1762.3 640.3L1763.7 640.6L1765.1 640.8L1766.5 641.1L1767.9 641.5L1769.3 641.9L1770.7 642.3L1772.1 642.6L1773.5 643L1774.9 643.3L1776.2 643.6L1777.6 643.8L1779 644.1L1780.4 644.3L1781.8 644.8L1783.2 645.3L1784.6 645.7L1786 645.9L1787.4 646L1788.8 646.2L1790.2 646.5L1791.6 646.8L1793 647.2L1794.4 647.3L1795.8 647.4L1797.2 647.5L1798.6 647.6L1800 647.8L1801.4 648L1802.8 648.1L1804.2 648.3L1805.6 648.5L1807 648.7L1808.4 648.9L1809.7 649L1811.1 649.3L1812.5 649.6L1813.9 649.9L1815.3 650.2L1816.7 650.3L1818.1 650.4L1819.5 650.5L1820.9 650.1L1822.3 649.8L1823.7 650.2L1825.1 650.6L1826.5 650.9L1827.9 650.8L1829.3 650.7L1830.7 650.6L1832.1 650.5L1833.5 650.9L1834.9 651.2L1836.3 651.6L1837.7 652L1839.1 652L1840.5 652.1L1841.9 652.2L1843.2 652.3L1844.6 652.4L1846 652.6L1847.4 652.8L1848.8 653L1850.2 653.2L1851.6 653.4L1853 653.6L1854.4 653.8L1855.8 653.9L1857.2 654.1L1858.6 654.1L1860 654.1L1861.4 654.1L1862.8 654.1L1864.2 654.2L1865.6 654.2L1867 654.3L1868.4 654.4L1869.8 654.6L1871.2 654.7L1872.6 654.9L1874 654.9L1875.4 655L1876.7 655L1878.1 655L1879.5 655.1L1880.9 655.1L1882.3 655.2L1883.7 655.2L1885.1 655.3L1886.5 655.4L1887.9 655.4L1889.3 655.5L1890.7 655.6L1892.1 655.7L1893.5 655.8L1894.9 655.8L1896.3 655.8L1897.7 655.9L1899.1 655.9L1900.5 655.9L1901.9 655.9L1903.3 655.9L1904.7 656L1906.1 656L1907.5 656L1908.9 656L1910.2 656.1L1911.6 656.1L1913 656.1L1914.4 656.2L1915.8 656.2L1917.2 656.2L1918.6 656.3L1920 656.3L1921.4 656.3L1922.8 656.4L1924.2 656.4L1925.6 656.4L1927 656.5L1928.4 656.5L1929.8 656.5L1931.2 656.6L1932.6 656.6L1934 656.6L1935.4 656.7L1936.8 656.7L1938.2 656.7L1939.6 656.8L1941 656.8L1942.4 656.8L1943.7 656.9L1945.1 656.9L1946.5 656.9L1947.9 657L1949.3 657L1950.7 657L1952.1 657L1953.5 657L1954.9 657L1956.3 657L1957.7 657L1959.1 657L1960.5 657.1L1961.9 657.1L1963.3 657.1L1964.7 657.1L1966.1 657.1L1967.5 657.1L1968.9 657.1L1970.3 657.2L1971.7 657.2L1973.1 657.2L1974.5 657.2L1975.9 657.2L1977.2 657.3L1978.6 657.3L1980 657.3L1981.4 657.3L1982.8 657.3L1984.2 657.4L1985.6 657.4L1987 657.4L1988.4 657.4L1989.8 657.4L1991.2 657.5L1992.7 657.5L1994.1 657.5L1995.5 657.5L1997 657.5L1998.4 657.5L1999.9 657.5L2001.3 657.5L2002.8 657.5L2002.8 658.1L2001.3 658.1L1999.9 658.1L1998.4 658.1L1997 658.1L1995.5 658.2L1994.1 658.2L1992.7 658.2L1991.2 658.2L1989.8 658.2L1988.4 658.2L1987 658.1L1985.6 658.1L1984.2 658.1L1982.8 658.1L1981.4 658.1L1980 658.1L1978.6 658.1L1977.2 658.1L1975.9 658.1L1974.5 658.1L1973.1 658.1L1971.7 658.1L1970.3 658L1968.9 658L1967.5 658L1966.1 658L1964.7 658L1963.3 658L1961.9 658L1960.5 658L1959.1 658L1957.7 658L1956.3 658L1954.9 658L1953.5 658L1952.1 658L1950.7 658.1L1949.3 658.1L1947.9 658L1946.5 658L1945.1 658L1943.7 658L1942.4 657.9L1941 657.9L1939.6 657.9L1938.2 657.9L1936.8 657.9L1935.4 657.8L1934 657.8L1932.6 657.8L1931.2 657.8L1929.8 657.7L1928.4 657.7L1927 657.7L1925.6 657.7L1924.2 657.7L1922.8 657.6L1921.4 657.6L1920 657.6L1918.6 657.6L1917.2 657.5L1915.8 657.5L1914.4 657.5L1913 657.5L1911.6 657.5L1910.2 657.4L1908.9 657.4L1907.5 657.4L1906.1 657.4L1904.7 657.4L1903.3 657.4L1901.9 657.4L1900.5 657.3L1899.1 657.3L1897.7 657.3L1896.3 657.3L1894.9 657.3L1893.5 657.3L1892.1 657.2L1890.7 657.1L1889.3 657.1L1887.9 657L1886.5 656.9L1885.1 656.9L1883.7 656.8L1882.3 656.8L1880.9 656.7L1879.5 656.7L1878.1 656.6L1876.7 656.6L1875.4 656.6L1874 656.6L1872.6 656.6L1871.2 656.4L1869.8 656.3L1868.4 656.1L1867 656L1865.6 655.9L1864.2 655.9L1862.8 655.9L1861.4 655.9L1860 655.9L1858.6 655.9L1857.2 655.9L1855.8 655.7L1854.4 655.6L1853 655.4L1851.6 655.2L1850.2 655L1848.8 654.9L1847.4 654.7L1846 654.5L1844.6 654.3L1843.2 654.2L1841.9 654.1L1840.5 654.1L1839.1 654L1837.7 653.9L1836.3 653.6L1834.9 653.2L1833.5 652.9L1832.1 652.5L1830.7 652.6L1829.3 652.7L1827.9 652.9L1826.5 653L1825.1 652.6L1823.7 652.2L1822.3 651.9L1820.9 652.2L1819.5 652.6L1818.1 652.5L1816.7 652.4L1815.3 652.3L1813.9 652L1812.5 651.8L1811.1 651.5L1809.7 651.2L1808.4 651.1L1807 650.9L1805.6 650.7L1804.2 650.5L1802.8 650.4L1801.4 650.2L1800 650L1798.6 649.9L1797.2 649.8L1795.8 649.7L1794.4 649.6L1793 649.5L1791.6 649.2L1790.2 648.8L1788.8 648.5L1787.4 648.4L1786 648.2L1784.6 648.1L1783.2 647.7L1781.8 647.2L1780.4 646.7L1779 646.5L1777.6 646.3L1776.2 646L1774.9 645.8L1773.5 645.5L1772.1 645.2L1770.7 644.9L1769.3 644.5L1767.9 644.2L1766.5 643.8L1765.1 643.6L1763.7 643.4L1762.3 643.2L1760.9 643.4L1759.5 643.6L1758.1 643.8L1756.7 643.1L1755.3 642.3L1753.9 641.4L1752.5 640.6L1751.4 640.6L1750.2 640.6L1749 640.6L1747.6 639.6L1746.2 638.7L1745.1 638.9L1743.9 639.1L1742.7 639.3L1741.4 638L1740 636.7L1738.6 637.2L1737.2 637.6L1735.8 637.2L1734.4 636.7L1733 636.4L1731.6 636.1L1730.1 635L1728.6 633.9L1727.5 633.6L1726.3 633.4L1725.2 633.2L1724 633.6L1722.9 633.9L1721.7 634.3L1720.6 633.2L1719.4 632.1L1718.3 631.1L1717.1 630.4L1716 629.7L1714.9 629L1713.7 629.5L1712.6 630.1L1711.4 630.7L1709.9 629.8L1708.4 629L1707.1 627.7L1705.7 626.4L1704.5 625.8L1703.4 625.3L1702.3 624.7L1701.1 623.3L1699.9 621.9L1698.5 620L1697 618.1L1696 616.1L1694.9 614.1L1693.8 612.1L1692.6 609.9L1691.4 607.6L1690.2 604.6L1688.9 601.6L1687.7 598.6L1686.5 595.6L1685.3 593.3L1684.1 591.1L1683.3 588.8L1682.5 586.6L1681.7 583.2L1680.9 579.8L1680.1 577.9L1679.2 576L1678.3 574.5L1677.3 573L1676 568.5L1675.2 567.8L1674.4 567L1673.2 566.6L1672 566.3L1671.2 563.6L1670.4 561L1669.5 559.1L1668.7 557.2L1667.9 555.4L1667.1 553.5L1666 549L1664.7 545.2L1663.5 546L1662.3 546.7L1661.2 548.2L1660.2 549.7L1659.2 552.3L1658.2 555L1657.4 558.7L1656.6 562.5L1655.8 565.9L1655 569.3L1654.2 570.8L1653.4 572.3L1652.4 573.8L1651.4 575.3L1650.4 576L1649.3 576.8L1648.5 578.3L1647.7 579.8L1646.9 582.1L1646.1 584.3L1645 584.7L1644 585.1L1642.9 589.6L1642 591.5L1641.2 593.3L1640 593.3L1638.8 593.3L1637.7 593.1L1636.7 592.8L1635.6 592.6L1634.4 591.8L1633.2 591.1L1632.3 589.6L1631.5 588.1L1630.7 586.2L1629.9 584.3L1629.1 583.9L1628.3 583.6L1627.1 584.3L1625.9 585.1L1625.1 583.6L1624.3 582.1L1623.5 579L1622.6 576L1621.8 573.8L1621 571.5L1620.1 570L1619.1 568.5L1618 564.8L1617 561L1615.9 555.7L1614.9 550.5L1613.7 543.7L1612.6 536.9L1611.6 530.2L1610.5 523.4L1609.7 517.4L1608.9 511.4L1608 492.8L1607.1 474.2L1605.9 441.6L1605.5 417.4Z" fill="#e60012" fill-opacity="0.42"/>
<path d="M1606 432.1L1606.5 460.1L1607.8 489.1L1608.8 508.1L1610 527.1L1611.3 548.5L1613.7 561.5L1616.2 571.2L1618.6 577.6L1621 584.1L1623.5 588.1L1624.3 590.6L1625.9 597L1628.3 597.8L1629.9 601.1L1632.3 601.9L1634.8 603.5L1637.2 608.4L1639.6 610.8L1642 609.2L1643.7 606.7L1646.1 607.5L1648.5 608.4L1650.9 605.9L1653.4 603.5L1655.8 598.7L1658.2 590.6L1660.6 579.2L1662.7 567.9L1664.4 563.1L1665.5 555L1666.6 535.6L1667.9 529.9L1669.9 533.2L1672 532.3L1673.1 534.8L1674.1 542L1675.7 548.5L1677.6 553.4L1680.1 559L1681.7 562.3L1683.3 565.5L1684.1 571.2L1685.7 579.2L1687.3 584.1L1688.9 586.5L1690.6 590.6L1692.2 595.4L1693.8 599.5L1695.7 598.7L1697.8 603.5L1699.9 607.5L1701.1 610.4L1703.4 613.8L1705.7 617.3L1708 616.1L1710.7 618.4L1713.7 620.3L1717.1 621.9L1720.6 623L1723.6 621.9L1726.3 624.1L1729.8 623.7L1732.3 626.4L1735.1 625L1737.9 626.8L1740.7 626.4L1743.4 629.2L1746.7 628.5L1749.7 631.6L1753.2 632.7L1756.7 632L1760.2 634.8L1762.6 636.6L1765.1 635.2L1768.6 637.2L1772.1 636.9L1775.6 636.6L1779 638.5L1782.5 640.8L1786 639.9L1790.2 641.8L1794.4 643.2L1798.6 644.1L1801.4 643.2L1805.6 645L1809.7 645.9L1813.9 645.5L1818.1 646.9L1821.6 648L1824.4 647.6L1828.6 649L1832.1 649.4L1836.3 650.8L1840.5 651.3L1844.6 651.5L1848.8 652.2L1854.4 652.9L1860 653.3L1865.6 654.3L1874 654.7L1882.3 655.3L1890.7 655.7L1900.5 656.1L1914.4 656.4L1928.4 656.8L1946.5 657.3L1963.3 657.1L1984.2 657.4L2002.8 657.3" fill="none" stroke="#555555" stroke-width="2.6" stroke-linejoin="round" stroke-linecap="round"/>
<path d="M1605.5 399L1605.9 425L1607.1 460L1608.9 500L1610.5 512.9L1612.6 527.5L1614.9 542L1617 553.4L1619.1 561.5L1621 564.7L1622.6 569.5L1624.3 576L1625.9 579.2L1628.3 577.6L1629.9 578.4L1631.5 582.5L1633.2 585.7L1635.6 587.3L1638.8 588.1L1641.2 588.1L1642.9 584.1L1644 579.2L1646.1 578.4L1647.7 573.6L1649.3 570.4L1651.4 568.7L1653.4 565.5L1655 562.3L1656.6 555L1658.2 546.9L1660.2 541.2L1662.3 538L1664.7 536.4L1666 540.4L1667.1 545.3L1668.7 549.3L1670.4 553.4L1672 559L1674.4 559.8L1676 561.5L1677.3 566.3L1679.2 569.5L1680.9 573.6L1682.5 580.9L1684.1 585.7L1686.5 590.6L1688.9 597L1691.4 603.5L1693.8 608.4L1697 614.8L1699.9 618.9L1702.3 621.9L1705.7 623.7L1708.4 626.4L1711.4 628.3L1714.9 626.4L1718.3 628.7L1721.7 632.2L1725.2 631L1728.6 631.7L1731.6 634.1L1734.4 634.8L1737.2 635.8L1740 634.8L1742.7 637.6L1746.2 636.9L1749 639L1752.5 639L1755.3 640.8L1758.1 642.5L1762.3 641.8L1766.5 642.5L1770.7 643.6L1774.9 644.6L1780.4 645.5L1784.6 646.9L1788.8 647.3L1793 648.3L1798.6 648.7L1804.2 649.4L1809.7 650.1L1815.3 651.3L1819.5 651.5L1822.3 650.8L1826.5 651.9L1832.1 651.5L1837.7 652.9L1844.6 653.3L1851.6 654.3L1857.2 655L1865.6 655L1872.6 655.7L1879.5 655.9L1886.5 656.1L1893.5 656.6L1907.5 656.7L1921.4 657L1935.4 657.3L1949.3 657.5L1963.3 657.5L1977.2 657.7L1991.2 657.8L2002.8 657.8" fill="none" stroke="#e60012" stroke-width="2.75" stroke-linejoin="round" stroke-linecap="round"/>
</g>
<g font-size="24.9" text-anchor="end">
<text transform="translate(177.4 354.4) scale(0.955 1)">0</text>
<text transform="translate(180.4 288.4) scale(0.955 1)">20</text>
<text transform="translate(180.4 222.5) scale(0.955 1)">40</text>
<text transform="translate(180.4 156.5) scale(0.955 1)">60</text>
<text transform="translate(180.4 90.6) scale(0.955 1)">80</text>
</g>
<g font-size="24.9" text-anchor="end">
<text transform="translate(177.3 669.4) scale(0.955 1)">0</text>
<text transform="translate(180.3 603.4) scale(0.955 1)">20</text>
<text transform="translate(180.3 537.5) scale(0.955 1)">40</text>
<text transform="translate(180.3 471.5) scale(0.955 1)">60</text>
<text transform="translate(180.3 405.6) scale(0.955 1)">80</text>
</g>
<g font-size="24.9" text-anchor="middle">
<text transform="translate(275.3 700.1) scale(0.955 1)">10</text>
<text transform="translate(358.8 700.1) scale(0.955 1)">20</text>
<text transform="translate(443.1 700.1) scale(0.955 1)">30</text>
<text transform="translate(527.4 700.1) scale(0.955 1)">40</text>
</g>
<g font-size="24.9" text-anchor="middle">
<text transform="translate(748 700.7) scale(0.955 1)">10</text>
<text transform="translate(831.5 700.7) scale(0.955 1)">20</text>
<text transform="translate(915.8 700.7) scale(0.955 1)">30</text>
<text transform="translate(1000.1 700.7) scale(0.955 1)">40</text>
</g>
<g font-size="24.9" text-anchor="middle">
<text transform="translate(1216 698.9) scale(0.955 1)">10</text>
<text transform="translate(1299.5 698.9) scale(0.955 1)">20</text>
<text transform="translate(1383.8 698.9) scale(0.955 1)">30</text>
<text transform="translate(1468.1 698.9) scale(0.955 1)">40</text>
</g>
<g font-size="24.9" text-anchor="middle">
<text transform="translate(1684.6 698.9) scale(0.955 1)">10</text>
<text transform="translate(1768.1 698.9) scale(0.955 1)">20</text>
<text transform="translate(1852.4 698.9) scale(0.955 1)">30</text>
<text transform="translate(1936.7 698.9) scale(0.955 1)">40</text>
</g>
<text x="360.9"  y="732.6" font-size="29.55" text-anchor="middle">Frequency [Hz]</text>
<text x="847.8"  y="732.6" font-size="29.55" text-anchor="middle">Frequency [Hz]</text>
<text x="1321.1"  y="732.6" font-size="29.55" text-anchor="middle">Frequency [Hz]</text>
<text x="1778.8"  y="732.6" font-size="29.55" text-anchor="middle">Frequency [Hz]</text>
<text transform="translate(142.9 196.8) rotate(-90)" font-size="32" text-anchor="middle">Power (a.u.)</text>
<text transform="translate(142.9 512.3) rotate(-90)" font-size="32" text-anchor="middle">Power (a.u.)</text>
<text transform="translate(82.4 231.5) rotate(-90)" font-size="37.3" text-anchor="middle">Parieto-occipital</text>
<text transform="translate(82.4 526.5) rotate(-90)" font-size="37.3" text-anchor="middle">Hippocampi</text>
<text x="2.8" y="87" font-size="45">A</text>
<text x="2.6" y="419.3" font-size="45">B</text>
<path d="M294.8 11.2H332.6" stroke="#a3a3a3" stroke-width="3.6" fill="none"/>
<text transform="translate(347.6 21.3) scale(1.026 1)" font-size="25.5">HY (<tspan font-style="italic">n</tspan> = 20)</text>
<path d="M294.8 43.1H332.6" stroke="#5a5a5a" stroke-width="3.6" fill="none"/>
<text transform="translate(347.6 53.9) scale(1.026 1)" font-size="25.5">HE (<tspan font-style="italic">n</tspan> = 45)</text>
<path d="M766.2 15.8H803.9" stroke="#4a86c8" stroke-width="3.6" fill="none"/>
<text transform="translate(819.3 21.6) scale(1.026 1)" font-size="25.5">SCD (<tspan font-style="italic">n</tspan> = 17)</text>
<path d="M766.2 46.8H803.9" stroke="#5a5a5a" stroke-width="3.6" fill="none"/>
<text transform="translate(819.9 55) scale(1.026 1)" font-size="25.5">HE (<tspan font-style="italic">n</tspan> = 45)</text>
<path d="M1231 14.8H1269.2" stroke="#2ba56b" stroke-width="3.6" fill="none"/>
<text transform="translate(1284.1 21.3) scale(1.026 1)" font-size="25.5">MCI (<tspan font-style="italic">n</tspan> = 18)</text>
<path d="M1231 46.2H1269.2" stroke="#5a5a5a" stroke-width="3.6" fill="none"/>
<text transform="translate(1284.1 53.9) scale(1.026 1)" font-size="25.5">HE (<tspan font-style="italic">n</tspan> = 45)</text>
<path d="M1700.8 11.2H1738.8" stroke="#e0121a" stroke-width="3.6" fill="none"/>
<text transform="translate(1755 21.3) scale(1.026 1)" font-size="25.5">AD (<tspan font-style="italic">n</tspan> = 51)</text>
<path d="M1700.8 42.9H1738.8" stroke="#5a5a5a" stroke-width="3.6" fill="none"/>
<text transform="translate(1754.1 53.9) scale(1.026 1)" font-size="25.5">HE (<tspan font-style="italic">n</tspan> = 45)</text>
<rect x="293.6" y="73.5" width="37.6" height="10.7" fill="#9b1717"/>
<text transform="translate(345.5 85.7) scale(1.02 1)" font-size="25.5">sign</text>
</svg></body></html>
